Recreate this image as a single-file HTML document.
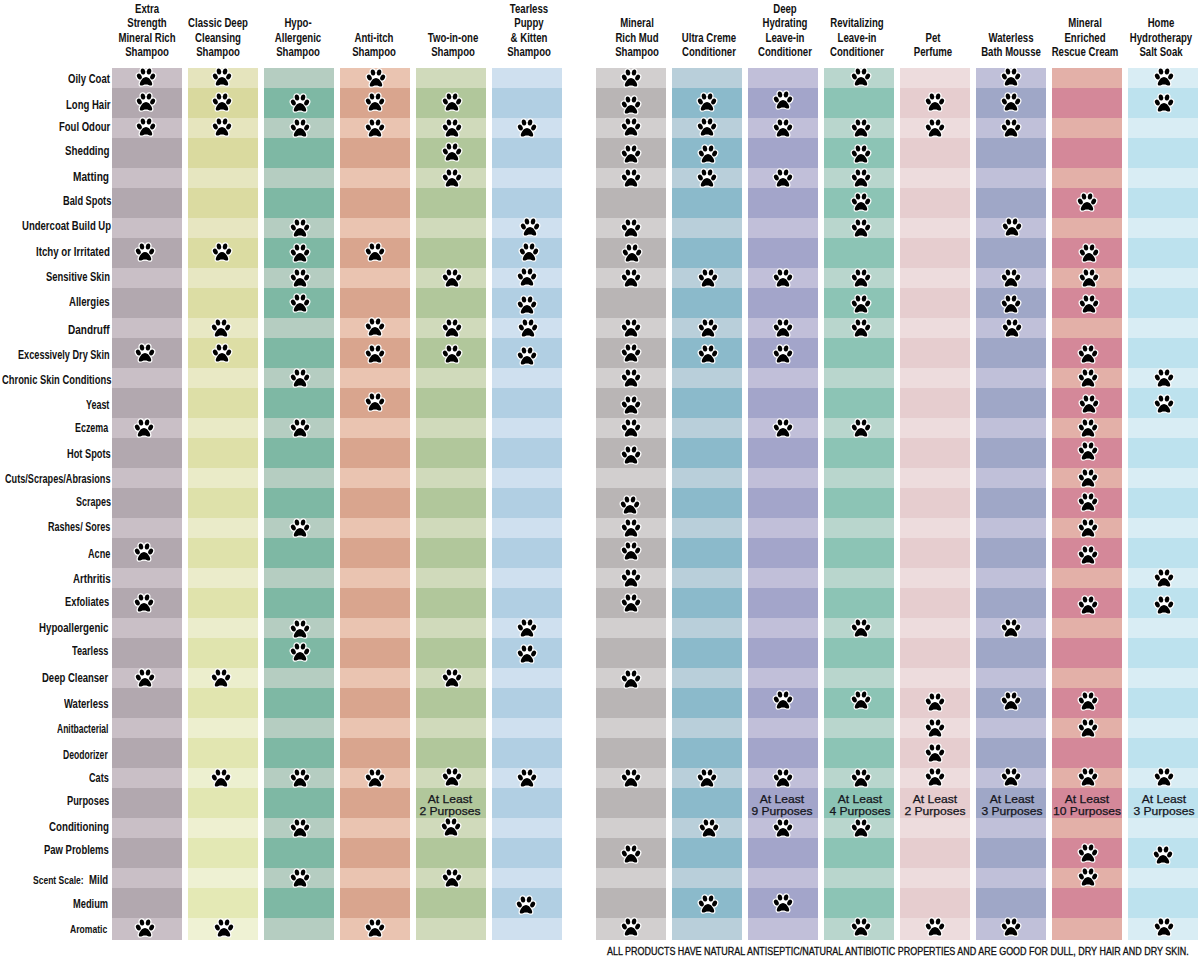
<!DOCTYPE html>
<html><head><meta charset="utf-8"><style>
html,body{margin:0;padding:0;background:#fff;}
body{width:1200px;height:959px;position:relative;overflow:hidden;font-family:"Liberation Sans",sans-serif;}
.c{position:absolute;top:68px;width:70px;height:870px;}
.cb{position:absolute;top:938px;width:70px;height:1.5px;}
.h{position:absolute;bottom:899.1px;font:bold 12px/14.5px "Liberation Sans",sans-serif;color:#111;text-align:center;white-space:nowrap;transform:translateX(-50%) scaleX(.80);}
.l{position:absolute;font:bold 12px/14px "Liberation Sans",sans-serif;color:#111;white-space:pre;transform-origin:0 50%;}
.p{position:absolute;}
.p g{fill:#000;}
.p g.w{fill:#fff;stroke:#fff;stroke-width:2.5;stroke-linejoin:round;}
.u{position:absolute;font:11px/12px "Liberation Sans",sans-serif;color:#15151c;-webkit-text-stroke:0.25px #15151c;text-align:center;white-space:nowrap;transform:translateX(-50%) scaleX(1.1);}
.f{position:absolute;left:607px;top:946.3px;font:10px/12px "Liberation Sans",sans-serif;color:#111;-webkit-text-stroke:0.3px #111;white-space:nowrap;transform-origin:0 50%;}
</style></head><body>

<div class="c" style="left:112px;background:repeating-linear-gradient(to bottom,#c9bfc6 0px,#c9bfc6 20px,#b2a8af 20px,#b2a8af 50px)"></div>
<div class="cb" style="left:112px;background:#c9bfc6"></div>
<div class="c" style="left:188px">
<div style="position:absolute;left:0;width:70px;top:0px;height:20px;background:#e5e4bd"></div>
<div style="position:absolute;left:0;width:70px;top:20px;height:30px;background:#d9d99e"></div>
<div style="position:absolute;left:0;width:70px;top:50px;height:20px;background:#e6e5be"></div>
<div style="position:absolute;left:0;width:70px;top:70px;height:30px;background:#dada9f"></div>
<div style="position:absolute;left:0;width:70px;top:100px;height:20px;background:#e6e6c0"></div>
<div style="position:absolute;left:0;width:70px;top:120px;height:30px;background:#dbdba1"></div>
<div style="position:absolute;left:0;width:70px;top:150px;height:20px;background:#e7e6c1"></div>
<div style="position:absolute;left:0;width:70px;top:170px;height:30px;background:#dbdca2"></div>
<div style="position:absolute;left:0;width:70px;top:200px;height:20px;background:#e7e7c2"></div>
<div style="position:absolute;left:0;width:70px;top:220px;height:30px;background:#dcdda4"></div>
<div style="position:absolute;left:0;width:70px;top:250px;height:20px;background:#e8e8c4"></div>
<div style="position:absolute;left:0;width:70px;top:270px;height:30px;background:#dddea5"></div>
<div style="position:absolute;left:0;width:70px;top:300px;height:20px;background:#e9e9c5"></div>
<div style="position:absolute;left:0;width:70px;top:320px;height:30px;background:#dddfa7"></div>
<div style="position:absolute;left:0;width:70px;top:350px;height:20px;background:#e9eac6"></div>
<div style="position:absolute;left:0;width:70px;top:370px;height:30px;background:#dee0a8"></div>
<div style="position:absolute;left:0;width:70px;top:400px;height:20px;background:#eaebc8"></div>
<div style="position:absolute;left:0;width:70px;top:420px;height:30px;background:#dee1aa"></div>
<div style="position:absolute;left:0;width:70px;top:450px;height:20px;background:#eaebc9"></div>
<div style="position:absolute;left:0;width:70px;top:470px;height:30px;background:#dfe2ab"></div>
<div style="position:absolute;left:0;width:70px;top:500px;height:20px;background:#ebeccb"></div>
<div style="position:absolute;left:0;width:70px;top:520px;height:30px;background:#e0e3ac"></div>
<div style="position:absolute;left:0;width:70px;top:550px;height:20px;background:#ebedcc"></div>
<div style="position:absolute;left:0;width:70px;top:570px;height:30px;background:#e0e4ae"></div>
<div style="position:absolute;left:0;width:70px;top:600px;height:20px;background:#eceecd"></div>
<div style="position:absolute;left:0;width:70px;top:620px;height:30px;background:#e1e5af"></div>
<div style="position:absolute;left:0;width:70px;top:650px;height:20px;background:#edefcf"></div>
<div style="position:absolute;left:0;width:70px;top:670px;height:30px;background:#e2e6b1"></div>
<div style="position:absolute;left:0;width:70px;top:700px;height:20px;background:#edf0d0"></div>
<div style="position:absolute;left:0;width:70px;top:720px;height:30px;background:#e2e7b2"></div>
<div style="position:absolute;left:0;width:70px;top:750px;height:20px;background:#eef0d1"></div>
<div style="position:absolute;left:0;width:70px;top:770px;height:30px;background:#e3e8b4"></div>
<div style="position:absolute;left:0;width:70px;top:800px;height:20px;background:#eef1d3"></div>
<div style="position:absolute;left:0;width:70px;top:820px;height:30px;background:#e4e9b5"></div>
<div style="position:absolute;left:0;width:70px;top:850px;height:21.5px;background:#eff2d4"></div>
</div>
<div class="c" style="left:264px;background:repeating-linear-gradient(to bottom,#b5cdc1 0px,#b5cdc1 20px,#7eb8a4 20px,#7eb8a4 50px)"></div>
<div class="cb" style="left:264px;background:#b5cdc1"></div>
<div class="c" style="left:340px;background:repeating-linear-gradient(to bottom,#eac4b1 0px,#eac4b1 20px,#d9a58e 20px,#d9a58e 50px)"></div>
<div class="cb" style="left:340px;background:#eac4b1"></div>
<div class="c" style="left:416px;background:repeating-linear-gradient(to bottom,#d0dabb 0px,#d0dabb 20px,#b1c79b 20px,#b1c79b 50px)"></div>
<div class="cb" style="left:416px;background:#d0dabb"></div>
<div class="c" style="left:492px;background:repeating-linear-gradient(to bottom,#cfe0ef 0px,#cfe0ef 20px,#b1cfe3 20px,#b1cfe3 50px)"></div>
<div class="cb" style="left:492px;background:#cfe0ef"></div>
<div class="c" style="left:595.5px;background:repeating-linear-gradient(to bottom,#d2cfcf 0px,#d2cfcf 20px,#b9b5b5 20px,#b9b5b5 50px)"></div>
<div class="cb" style="left:595.5px;background:#d2cfcf"></div>
<div class="c" style="left:671.5px;background:repeating-linear-gradient(to bottom,#b9cfda 0px,#b9cfda 20px,#8bbacb 20px,#8bbacb 50px)"></div>
<div class="cb" style="left:671.5px;background:#b9cfda"></div>
<div class="c" style="left:747.5px;background:repeating-linear-gradient(to bottom,#c1bfd9 0px,#c1bfd9 20px,#a3a5ca 20px,#a3a5ca 50px)"></div>
<div class="cb" style="left:747.5px;background:#c1bfd9"></div>
<div class="c" style="left:823.5px;background:repeating-linear-gradient(to bottom,#b9d6cd 0px,#b9d6cd 20px,#8cc4b5 20px,#8cc4b5 50px)"></div>
<div class="cb" style="left:823.5px;background:#b9d6cd"></div>
<div class="c" style="left:899.5px;background:repeating-linear-gradient(to bottom,#eddcdd 0px,#eddcdd 20px,#e6cdcf 20px,#e6cdcf 50px)"></div>
<div class="cb" style="left:899.5px;background:#eddcdd"></div>
<div class="c" style="left:975.5px;background:repeating-linear-gradient(to bottom,#c0c0d9 0px,#c0c0d9 20px,#9fa7c7 20px,#9fa7c7 50px)"></div>
<div class="cb" style="left:975.5px;background:#c0c0d9"></div>
<div class="c" style="left:1051.5px;background:repeating-linear-gradient(to bottom,#e3b0a8 0px,#e3b0a8 20px,#d48899 20px,#d48899 50px)"></div>
<div class="cb" style="left:1051.5px;background:#e3b0a8"></div>
<div class="c" style="left:1127.5px;background:repeating-linear-gradient(to bottom,#d9edf4 0px,#d9edf4 20px,#bde2ee 20px,#bde2ee 50px)"></div>
<div class="cb" style="left:1127.5px;background:#d9edf4"></div>
<div class="h" style="left:147.1px">Extra<br>Strength<br>Mineral Rich<br>Shampoo</div>
<div class="h" style="left:217.7px">Classic Deep<br>Cleansing<br>Shampoo</div>
<div class="h" style="left:298.4px">Hypo-<br>Allergenic<br>Shampoo</div>
<div class="h" style="left:374.3px">Anti-itch<br>Shampoo</div>
<div class="h" style="left:453.2px">Two-in-one<br>Shampoo</div>
<div class="h" style="left:529.0px">Tearless<br>Puppy<br>&amp; Kitten<br>Shampoo</div>
<div class="h" style="left:637.0px">Mineral<br>Rich Mud<br>Shampoo</div>
<div class="h" style="left:709.2px">Ultra Creme<br>Conditioner</div>
<div class="h" style="left:784.5px">Deep<br>Hydrating<br>Leave-in<br>Conditioner</div>
<div class="h" style="left:856.6px">Revitalizing<br>Leave-in<br>Conditioner</div>
<div class="h" style="left:932.6px">Pet<br>Perfume</div>
<div class="h" style="left:1011.2px">Waterless<br>Bath Mousse</div>
<div class="h" style="left:1085.2px">Mineral<br>Enriched<br>Rescue Cream</div>
<div class="h" style="left:1160.7px">Home<br>Hydrotherapy<br>Salt Soak</div>
<div class="l" style="left:68.10px;top:71.94px;transform:scaleX(0.7952)">Oily Coat</div>
<div class="l" style="left:65.50px;top:97.74px;transform:scaleX(0.7945)">Long Hair</div>
<div class="l" style="left:58.80px;top:119.74px;transform:scaleX(0.7918)">Foul Odour</div>
<div class="l" style="left:65.49px;top:144.34px;transform:scaleX(0.8142)">Shedding</div>
<div class="l" style="left:72.98px;top:170.34px;transform:scaleX(0.8450)">Matting</div>
<div class="l" style="left:63.01px;top:193.94px;transform:scaleX(0.7702)">Bald Spots</div>
<div class="l" style="left:21.80px;top:219.44px;transform:scaleX(0.7954)">Undercoat Build Up</div>
<div class="l" style="left:36.10px;top:244.94px;transform:scaleX(0.8090)">Itchy or Irritated</div>
<div class="l" style="left:46.11px;top:269.84px;transform:scaleX(0.7851)">Sensitive Skin</div>
<div class="l" style="left:69.40px;top:295.34px;transform:scaleX(0.8008)">Allergies</div>
<div class="l" style="left:68.08px;top:322.64px;transform:scaleX(0.8327)">Dandruff</div>
<div class="l" style="left:18.37px;top:348.24px;transform:scaleX(0.7628)">Excessively Dry Skin</div>
<div class="l" style="left:1.51px;top:372.84px;transform:scaleX(0.7813)">Chronic Skin Conditions</div>
<div class="l" style="left:85.63px;top:398.24px;transform:scaleX(0.7444)">Yeast</div>
<div class="l" style="left:75.23px;top:420.74px;transform:scaleX(0.7414)">Eczema</div>
<div class="l" style="left:66.61px;top:446.94px;transform:scaleX(0.7706)">Hot Spots</div>
<div class="l" style="left:4.82px;top:471.54px;transform:scaleX(0.7602)">Cuts/Scrapes/Abrasions</div>
<div class="l" style="left:75.63px;top:494.84px;transform:scaleX(0.7483)">Scrapes</div>
<div class="l" style="left:47.72px;top:520.34px;transform:scaleX(0.7526)">Rashes/ Sores</div>
<div class="l" style="left:88.22px;top:547.44px;transform:scaleX(0.7621)">Acne</div>
<div class="l" style="left:73.00px;top:572.44px;transform:scaleX(0.8057)">Arthritis</div>
<div class="l" style="left:64.91px;top:594.64px;transform:scaleX(0.7773)">Exfoliates</div>
<div class="l" style="left:39.00px;top:621.14px;transform:scaleX(0.8068)">Hypoallergenic</div>
<div class="l" style="left:72.02px;top:644.44px;transform:scaleX(0.7605)">Tearless</div>
<div class="l" style="left:41.60px;top:670.84px;transform:scaleX(0.7927)">Deep Cleanser</div>
<div class="l" style="left:64.30px;top:696.64px;transform:scaleX(0.7910)">Waterless</div>
<div class="l" style="left:56.55px;top:722.24px;transform:scaleX(0.7072)">Anitbacterial</div>
<div class="l" style="left:63.24px;top:747.74px;transform:scaleX(0.7133)">Deodorizer</div>
<div class="l" style="left:88.62px;top:771.04px;transform:scaleX(0.7595)">Cats</div>
<div class="l" style="left:66.61px;top:794.34px;transform:scaleX(0.7711)">Purposes</div>
<div class="l" style="left:48.50px;top:819.54px;transform:scaleX(0.8098)">Conditioning</div>
<div class="l" style="left:43.61px;top:843.24px;transform:scaleX(0.7898)">Paw Problems</div>
<div class="l" style="font-size:10px;left:32.57px;top:873.63px;transform:scaleX(0.8507)">Scent Scale:</div>
<div class="l" style="left:88.80px;top:872.94px;transform:scaleX(0.8000)">Mild</div>
<div class="l" style="left:73.11px;top:896.94px;transform:scaleX(0.7735)">Medium</div>
<div class="l" style="font-size:11px;left:70.11px;top:922.09px;transform:scaleX(0.7797)">Aromatic</div>
<svg class="p" style="left:132.50px;top:65.00px" width="26" height="24" viewBox="-13 -12 26 24"><g class="w"><ellipse cx="0" cy="-1.5" rx="5.5" ry="3.6"/><ellipse cx="-3.05" cy="-5.45" rx="2.25" ry="3.07" transform="rotate(-8 -3.05 -5.45)"/><ellipse cx="3.05" cy="-5.45" rx="2.25" ry="3.07" transform="rotate(8 3.05 -5.45)"/><ellipse cx="-6.65" cy="-0.45" rx="2.25" ry="3.05" transform="rotate(-28 -6.65 -0.45)"/><ellipse cx="6.65" cy="-0.45" rx="2.25" ry="3.05" transform="rotate(28 6.65 -0.45)"/><path d="M0,0C2.4,0 4.1,2.2 5.3,4.3C6.2,5.9 6.6,7.5 5.8,8.2C5,8.9 3.7,8.4 2.5,7.9C1.3,7.45 -1.3,7.45 -2.5,7.9C-3.7,8.4 -5,8.9 -5.8,8.2C-6.6,7.5 -6.2,5.9 -5.3,4.3C-4.1,2.2 -2.4,0 0,0Z"/></g><g><ellipse cx="-3.05" cy="-5.45" rx="2.25" ry="3.07" transform="rotate(-8 -3.05 -5.45)"/><ellipse cx="3.05" cy="-5.45" rx="2.25" ry="3.07" transform="rotate(8 3.05 -5.45)"/><ellipse cx="-6.65" cy="-0.45" rx="2.25" ry="3.05" transform="rotate(-28 -6.65 -0.45)"/><ellipse cx="6.65" cy="-0.45" rx="2.25" ry="3.05" transform="rotate(28 6.65 -0.45)"/><path d="M0,0C2.4,0 4.1,2.2 5.3,4.3C6.2,5.9 6.6,7.5 5.8,8.2C5,8.9 3.7,8.4 2.5,7.9C1.3,7.45 -1.3,7.45 -2.5,7.9C-3.7,8.4 -5,8.9 -5.8,8.2C-6.6,7.5 -6.2,5.9 -5.3,4.3C-4.1,2.2 -2.4,0 0,0Z"/></g></svg>
<svg class="p" style="left:209.00px;top:65.00px" width="26" height="24" viewBox="-13 -12 26 24"><g class="w"><ellipse cx="0" cy="-1.5" rx="5.5" ry="3.6"/><ellipse cx="-3.05" cy="-5.45" rx="2.25" ry="3.07" transform="rotate(-8 -3.05 -5.45)"/><ellipse cx="3.05" cy="-5.45" rx="2.25" ry="3.07" transform="rotate(8 3.05 -5.45)"/><ellipse cx="-6.65" cy="-0.45" rx="2.25" ry="3.05" transform="rotate(-28 -6.65 -0.45)"/><ellipse cx="6.65" cy="-0.45" rx="2.25" ry="3.05" transform="rotate(28 6.65 -0.45)"/><path d="M0,0C2.4,0 4.1,2.2 5.3,4.3C6.2,5.9 6.6,7.5 5.8,8.2C5,8.9 3.7,8.4 2.5,7.9C1.3,7.45 -1.3,7.45 -2.5,7.9C-3.7,8.4 -5,8.9 -5.8,8.2C-6.6,7.5 -6.2,5.9 -5.3,4.3C-4.1,2.2 -2.4,0 0,0Z"/></g><g><ellipse cx="-3.05" cy="-5.45" rx="2.25" ry="3.07" transform="rotate(-8 -3.05 -5.45)"/><ellipse cx="3.05" cy="-5.45" rx="2.25" ry="3.07" transform="rotate(8 3.05 -5.45)"/><ellipse cx="-6.65" cy="-0.45" rx="2.25" ry="3.05" transform="rotate(-28 -6.65 -0.45)"/><ellipse cx="6.65" cy="-0.45" rx="2.25" ry="3.05" transform="rotate(28 6.65 -0.45)"/><path d="M0,0C2.4,0 4.1,2.2 5.3,4.3C6.2,5.9 6.6,7.5 5.8,8.2C5,8.9 3.7,8.4 2.5,7.9C1.3,7.45 -1.3,7.45 -2.5,7.9C-3.7,8.4 -5,8.9 -5.8,8.2C-6.6,7.5 -6.2,5.9 -5.3,4.3C-4.1,2.2 -2.4,0 0,0Z"/></g></svg>
<svg class="p" style="left:362.70px;top:65.50px" width="26" height="24" viewBox="-13 -12 26 24"><g class="w"><ellipse cx="0" cy="-1.5" rx="5.5" ry="3.6"/><ellipse cx="-3.05" cy="-5.45" rx="2.25" ry="3.07" transform="rotate(-8 -3.05 -5.45)"/><ellipse cx="3.05" cy="-5.45" rx="2.25" ry="3.07" transform="rotate(8 3.05 -5.45)"/><ellipse cx="-6.65" cy="-0.45" rx="2.25" ry="3.05" transform="rotate(-28 -6.65 -0.45)"/><ellipse cx="6.65" cy="-0.45" rx="2.25" ry="3.05" transform="rotate(28 6.65 -0.45)"/><path d="M0,0C2.4,0 4.1,2.2 5.3,4.3C6.2,5.9 6.6,7.5 5.8,8.2C5,8.9 3.7,8.4 2.5,7.9C1.3,7.45 -1.3,7.45 -2.5,7.9C-3.7,8.4 -5,8.9 -5.8,8.2C-6.6,7.5 -6.2,5.9 -5.3,4.3C-4.1,2.2 -2.4,0 0,0Z"/></g><g><ellipse cx="-3.05" cy="-5.45" rx="2.25" ry="3.07" transform="rotate(-8 -3.05 -5.45)"/><ellipse cx="3.05" cy="-5.45" rx="2.25" ry="3.07" transform="rotate(8 3.05 -5.45)"/><ellipse cx="-6.65" cy="-0.45" rx="2.25" ry="3.05" transform="rotate(-28 -6.65 -0.45)"/><ellipse cx="6.65" cy="-0.45" rx="2.25" ry="3.05" transform="rotate(28 6.65 -0.45)"/><path d="M0,0C2.4,0 4.1,2.2 5.3,4.3C6.2,5.9 6.6,7.5 5.8,8.2C5,8.9 3.7,8.4 2.5,7.9C1.3,7.45 -1.3,7.45 -2.5,7.9C-3.7,8.4 -5,8.9 -5.8,8.2C-6.6,7.5 -6.2,5.9 -5.3,4.3C-4.1,2.2 -2.4,0 0,0Z"/></g></svg>
<svg class="p" style="left:617.70px;top:65.50px" width="26" height="24" viewBox="-13 -12 26 24"><g class="w"><ellipse cx="0" cy="-1.5" rx="5.5" ry="3.6"/><ellipse cx="-3.05" cy="-5.45" rx="2.25" ry="3.07" transform="rotate(-8 -3.05 -5.45)"/><ellipse cx="3.05" cy="-5.45" rx="2.25" ry="3.07" transform="rotate(8 3.05 -5.45)"/><ellipse cx="-6.65" cy="-0.45" rx="2.25" ry="3.05" transform="rotate(-28 -6.65 -0.45)"/><ellipse cx="6.65" cy="-0.45" rx="2.25" ry="3.05" transform="rotate(28 6.65 -0.45)"/><path d="M0,0C2.4,0 4.1,2.2 5.3,4.3C6.2,5.9 6.6,7.5 5.8,8.2C5,8.9 3.7,8.4 2.5,7.9C1.3,7.45 -1.3,7.45 -2.5,7.9C-3.7,8.4 -5,8.9 -5.8,8.2C-6.6,7.5 -6.2,5.9 -5.3,4.3C-4.1,2.2 -2.4,0 0,0Z"/></g><g><ellipse cx="-3.05" cy="-5.45" rx="2.25" ry="3.07" transform="rotate(-8 -3.05 -5.45)"/><ellipse cx="3.05" cy="-5.45" rx="2.25" ry="3.07" transform="rotate(8 3.05 -5.45)"/><ellipse cx="-6.65" cy="-0.45" rx="2.25" ry="3.05" transform="rotate(-28 -6.65 -0.45)"/><ellipse cx="6.65" cy="-0.45" rx="2.25" ry="3.05" transform="rotate(28 6.65 -0.45)"/><path d="M0,0C2.4,0 4.1,2.2 5.3,4.3C6.2,5.9 6.6,7.5 5.8,8.2C5,8.9 3.7,8.4 2.5,7.9C1.3,7.45 -1.3,7.45 -2.5,7.9C-3.7,8.4 -5,8.9 -5.8,8.2C-6.6,7.5 -6.2,5.9 -5.3,4.3C-4.1,2.2 -2.4,0 0,0Z"/></g></svg>
<svg class="p" style="left:847.70px;top:65.25px" width="26" height="24" viewBox="-13 -12 26 24"><g class="w"><ellipse cx="0" cy="-1.5" rx="5.5" ry="3.6"/><ellipse cx="-3.05" cy="-5.45" rx="2.25" ry="3.07" transform="rotate(-8 -3.05 -5.45)"/><ellipse cx="3.05" cy="-5.45" rx="2.25" ry="3.07" transform="rotate(8 3.05 -5.45)"/><ellipse cx="-6.65" cy="-0.45" rx="2.25" ry="3.05" transform="rotate(-28 -6.65 -0.45)"/><ellipse cx="6.65" cy="-0.45" rx="2.25" ry="3.05" transform="rotate(28 6.65 -0.45)"/><path d="M0,0C2.4,0 4.1,2.2 5.3,4.3C6.2,5.9 6.6,7.5 5.8,8.2C5,8.9 3.7,8.4 2.5,7.9C1.3,7.45 -1.3,7.45 -2.5,7.9C-3.7,8.4 -5,8.9 -5.8,8.2C-6.6,7.5 -6.2,5.9 -5.3,4.3C-4.1,2.2 -2.4,0 0,0Z"/></g><g><ellipse cx="-3.05" cy="-5.45" rx="2.25" ry="3.07" transform="rotate(-8 -3.05 -5.45)"/><ellipse cx="3.05" cy="-5.45" rx="2.25" ry="3.07" transform="rotate(8 3.05 -5.45)"/><ellipse cx="-6.65" cy="-0.45" rx="2.25" ry="3.05" transform="rotate(-28 -6.65 -0.45)"/><ellipse cx="6.65" cy="-0.45" rx="2.25" ry="3.05" transform="rotate(28 6.65 -0.45)"/><path d="M0,0C2.4,0 4.1,2.2 5.3,4.3C6.2,5.9 6.6,7.5 5.8,8.2C5,8.9 3.7,8.4 2.5,7.9C1.3,7.45 -1.3,7.45 -2.5,7.9C-3.7,8.4 -5,8.9 -5.8,8.2C-6.6,7.5 -6.2,5.9 -5.3,4.3C-4.1,2.2 -2.4,0 0,0Z"/></g></svg>
<svg class="p" style="left:997.90px;top:65.40px" width="26" height="24" viewBox="-13 -12 26 24"><g class="w"><ellipse cx="0" cy="-1.5" rx="5.5" ry="3.6"/><ellipse cx="-3.05" cy="-5.45" rx="2.25" ry="3.07" transform="rotate(-8 -3.05 -5.45)"/><ellipse cx="3.05" cy="-5.45" rx="2.25" ry="3.07" transform="rotate(8 3.05 -5.45)"/><ellipse cx="-6.65" cy="-0.45" rx="2.25" ry="3.05" transform="rotate(-28 -6.65 -0.45)"/><ellipse cx="6.65" cy="-0.45" rx="2.25" ry="3.05" transform="rotate(28 6.65 -0.45)"/><path d="M0,0C2.4,0 4.1,2.2 5.3,4.3C6.2,5.9 6.6,7.5 5.8,8.2C5,8.9 3.7,8.4 2.5,7.9C1.3,7.45 -1.3,7.45 -2.5,7.9C-3.7,8.4 -5,8.9 -5.8,8.2C-6.6,7.5 -6.2,5.9 -5.3,4.3C-4.1,2.2 -2.4,0 0,0Z"/></g><g><ellipse cx="-3.05" cy="-5.45" rx="2.25" ry="3.07" transform="rotate(-8 -3.05 -5.45)"/><ellipse cx="3.05" cy="-5.45" rx="2.25" ry="3.07" transform="rotate(8 3.05 -5.45)"/><ellipse cx="-6.65" cy="-0.45" rx="2.25" ry="3.05" transform="rotate(-28 -6.65 -0.45)"/><ellipse cx="6.65" cy="-0.45" rx="2.25" ry="3.05" transform="rotate(28 6.65 -0.45)"/><path d="M0,0C2.4,0 4.1,2.2 5.3,4.3C6.2,5.9 6.6,7.5 5.8,8.2C5,8.9 3.7,8.4 2.5,7.9C1.3,7.45 -1.3,7.45 -2.5,7.9C-3.7,8.4 -5,8.9 -5.8,8.2C-6.6,7.5 -6.2,5.9 -5.3,4.3C-4.1,2.2 -2.4,0 0,0Z"/></g></svg>
<svg class="p" style="left:1151.40px;top:65.40px" width="26" height="24" viewBox="-13 -12 26 24"><g class="w"><ellipse cx="0" cy="-1.5" rx="5.5" ry="3.6"/><ellipse cx="-3.05" cy="-5.45" rx="2.25" ry="3.07" transform="rotate(-8 -3.05 -5.45)"/><ellipse cx="3.05" cy="-5.45" rx="2.25" ry="3.07" transform="rotate(8 3.05 -5.45)"/><ellipse cx="-6.65" cy="-0.45" rx="2.25" ry="3.05" transform="rotate(-28 -6.65 -0.45)"/><ellipse cx="6.65" cy="-0.45" rx="2.25" ry="3.05" transform="rotate(28 6.65 -0.45)"/><path d="M0,0C2.4,0 4.1,2.2 5.3,4.3C6.2,5.9 6.6,7.5 5.8,8.2C5,8.9 3.7,8.4 2.5,7.9C1.3,7.45 -1.3,7.45 -2.5,7.9C-3.7,8.4 -5,8.9 -5.8,8.2C-6.6,7.5 -6.2,5.9 -5.3,4.3C-4.1,2.2 -2.4,0 0,0Z"/></g><g><ellipse cx="-3.05" cy="-5.45" rx="2.25" ry="3.07" transform="rotate(-8 -3.05 -5.45)"/><ellipse cx="3.05" cy="-5.45" rx="2.25" ry="3.07" transform="rotate(8 3.05 -5.45)"/><ellipse cx="-6.65" cy="-0.45" rx="2.25" ry="3.05" transform="rotate(-28 -6.65 -0.45)"/><ellipse cx="6.65" cy="-0.45" rx="2.25" ry="3.05" transform="rotate(28 6.65 -0.45)"/><path d="M0,0C2.4,0 4.1,2.2 5.3,4.3C6.2,5.9 6.6,7.5 5.8,8.2C5,8.9 3.7,8.4 2.5,7.9C1.3,7.45 -1.3,7.45 -2.5,7.9C-3.7,8.4 -5,8.9 -5.8,8.2C-6.6,7.5 -6.2,5.9 -5.3,4.3C-4.1,2.2 -2.4,0 0,0Z"/></g></svg>
<svg class="p" style="left:132.50px;top:89.75px" width="26" height="24" viewBox="-13 -12 26 24"><g class="w"><ellipse cx="0" cy="-1.5" rx="5.5" ry="3.6"/><ellipse cx="-3.05" cy="-5.45" rx="2.25" ry="3.07" transform="rotate(-8 -3.05 -5.45)"/><ellipse cx="3.05" cy="-5.45" rx="2.25" ry="3.07" transform="rotate(8 3.05 -5.45)"/><ellipse cx="-6.65" cy="-0.45" rx="2.25" ry="3.05" transform="rotate(-28 -6.65 -0.45)"/><ellipse cx="6.65" cy="-0.45" rx="2.25" ry="3.05" transform="rotate(28 6.65 -0.45)"/><path d="M0,0C2.4,0 4.1,2.2 5.3,4.3C6.2,5.9 6.6,7.5 5.8,8.2C5,8.9 3.7,8.4 2.5,7.9C1.3,7.45 -1.3,7.45 -2.5,7.9C-3.7,8.4 -5,8.9 -5.8,8.2C-6.6,7.5 -6.2,5.9 -5.3,4.3C-4.1,2.2 -2.4,0 0,0Z"/></g><g><ellipse cx="-3.05" cy="-5.45" rx="2.25" ry="3.07" transform="rotate(-8 -3.05 -5.45)"/><ellipse cx="3.05" cy="-5.45" rx="2.25" ry="3.07" transform="rotate(8 3.05 -5.45)"/><ellipse cx="-6.65" cy="-0.45" rx="2.25" ry="3.05" transform="rotate(-28 -6.65 -0.45)"/><ellipse cx="6.65" cy="-0.45" rx="2.25" ry="3.05" transform="rotate(28 6.65 -0.45)"/><path d="M0,0C2.4,0 4.1,2.2 5.3,4.3C6.2,5.9 6.6,7.5 5.8,8.2C5,8.9 3.7,8.4 2.5,7.9C1.3,7.45 -1.3,7.45 -2.5,7.9C-3.7,8.4 -5,8.9 -5.8,8.2C-6.6,7.5 -6.2,5.9 -5.3,4.3C-4.1,2.2 -2.4,0 0,0Z"/></g></svg>
<svg class="p" style="left:209.00px;top:89.75px" width="26" height="24" viewBox="-13 -12 26 24"><g class="w"><ellipse cx="0" cy="-1.5" rx="5.5" ry="3.6"/><ellipse cx="-3.05" cy="-5.45" rx="2.25" ry="3.07" transform="rotate(-8 -3.05 -5.45)"/><ellipse cx="3.05" cy="-5.45" rx="2.25" ry="3.07" transform="rotate(8 3.05 -5.45)"/><ellipse cx="-6.65" cy="-0.45" rx="2.25" ry="3.05" transform="rotate(-28 -6.65 -0.45)"/><ellipse cx="6.65" cy="-0.45" rx="2.25" ry="3.05" transform="rotate(28 6.65 -0.45)"/><path d="M0,0C2.4,0 4.1,2.2 5.3,4.3C6.2,5.9 6.6,7.5 5.8,8.2C5,8.9 3.7,8.4 2.5,7.9C1.3,7.45 -1.3,7.45 -2.5,7.9C-3.7,8.4 -5,8.9 -5.8,8.2C-6.6,7.5 -6.2,5.9 -5.3,4.3C-4.1,2.2 -2.4,0 0,0Z"/></g><g><ellipse cx="-3.05" cy="-5.45" rx="2.25" ry="3.07" transform="rotate(-8 -3.05 -5.45)"/><ellipse cx="3.05" cy="-5.45" rx="2.25" ry="3.07" transform="rotate(8 3.05 -5.45)"/><ellipse cx="-6.65" cy="-0.45" rx="2.25" ry="3.05" transform="rotate(-28 -6.65 -0.45)"/><ellipse cx="6.65" cy="-0.45" rx="2.25" ry="3.05" transform="rotate(28 6.65 -0.45)"/><path d="M0,0C2.4,0 4.1,2.2 5.3,4.3C6.2,5.9 6.6,7.5 5.8,8.2C5,8.9 3.7,8.4 2.5,7.9C1.3,7.45 -1.3,7.45 -2.5,7.9C-3.7,8.4 -5,8.9 -5.8,8.2C-6.6,7.5 -6.2,5.9 -5.3,4.3C-4.1,2.2 -2.4,0 0,0Z"/></g></svg>
<svg class="p" style="left:287.00px;top:90.75px" width="26" height="24" viewBox="-13 -12 26 24"><g class="w"><ellipse cx="0" cy="-1.5" rx="5.5" ry="3.6"/><ellipse cx="-3.05" cy="-5.45" rx="2.25" ry="3.07" transform="rotate(-8 -3.05 -5.45)"/><ellipse cx="3.05" cy="-5.45" rx="2.25" ry="3.07" transform="rotate(8 3.05 -5.45)"/><ellipse cx="-6.65" cy="-0.45" rx="2.25" ry="3.05" transform="rotate(-28 -6.65 -0.45)"/><ellipse cx="6.65" cy="-0.45" rx="2.25" ry="3.05" transform="rotate(28 6.65 -0.45)"/><path d="M0,0C2.4,0 4.1,2.2 5.3,4.3C6.2,5.9 6.6,7.5 5.8,8.2C5,8.9 3.7,8.4 2.5,7.9C1.3,7.45 -1.3,7.45 -2.5,7.9C-3.7,8.4 -5,8.9 -5.8,8.2C-6.6,7.5 -6.2,5.9 -5.3,4.3C-4.1,2.2 -2.4,0 0,0Z"/></g><g><ellipse cx="-3.05" cy="-5.45" rx="2.25" ry="3.07" transform="rotate(-8 -3.05 -5.45)"/><ellipse cx="3.05" cy="-5.45" rx="2.25" ry="3.07" transform="rotate(8 3.05 -5.45)"/><ellipse cx="-6.65" cy="-0.45" rx="2.25" ry="3.05" transform="rotate(-28 -6.65 -0.45)"/><ellipse cx="6.65" cy="-0.45" rx="2.25" ry="3.05" transform="rotate(28 6.65 -0.45)"/><path d="M0,0C2.4,0 4.1,2.2 5.3,4.3C6.2,5.9 6.6,7.5 5.8,8.2C5,8.9 3.7,8.4 2.5,7.9C1.3,7.45 -1.3,7.45 -2.5,7.9C-3.7,8.4 -5,8.9 -5.8,8.2C-6.6,7.5 -6.2,5.9 -5.3,4.3C-4.1,2.2 -2.4,0 0,0Z"/></g></svg>
<svg class="p" style="left:362.10px;top:90.25px" width="26" height="24" viewBox="-13 -12 26 24"><g class="w"><ellipse cx="0" cy="-1.5" rx="5.5" ry="3.6"/><ellipse cx="-3.05" cy="-5.45" rx="2.25" ry="3.07" transform="rotate(-8 -3.05 -5.45)"/><ellipse cx="3.05" cy="-5.45" rx="2.25" ry="3.07" transform="rotate(8 3.05 -5.45)"/><ellipse cx="-6.65" cy="-0.45" rx="2.25" ry="3.05" transform="rotate(-28 -6.65 -0.45)"/><ellipse cx="6.65" cy="-0.45" rx="2.25" ry="3.05" transform="rotate(28 6.65 -0.45)"/><path d="M0,0C2.4,0 4.1,2.2 5.3,4.3C6.2,5.9 6.6,7.5 5.8,8.2C5,8.9 3.7,8.4 2.5,7.9C1.3,7.45 -1.3,7.45 -2.5,7.9C-3.7,8.4 -5,8.9 -5.8,8.2C-6.6,7.5 -6.2,5.9 -5.3,4.3C-4.1,2.2 -2.4,0 0,0Z"/></g><g><ellipse cx="-3.05" cy="-5.45" rx="2.25" ry="3.07" transform="rotate(-8 -3.05 -5.45)"/><ellipse cx="3.05" cy="-5.45" rx="2.25" ry="3.07" transform="rotate(8 3.05 -5.45)"/><ellipse cx="-6.65" cy="-0.45" rx="2.25" ry="3.05" transform="rotate(-28 -6.65 -0.45)"/><ellipse cx="6.65" cy="-0.45" rx="2.25" ry="3.05" transform="rotate(28 6.65 -0.45)"/><path d="M0,0C2.4,0 4.1,2.2 5.3,4.3C6.2,5.9 6.6,7.5 5.8,8.2C5,8.9 3.7,8.4 2.5,7.9C1.3,7.45 -1.3,7.45 -2.5,7.9C-3.7,8.4 -5,8.9 -5.8,8.2C-6.6,7.5 -6.2,5.9 -5.3,4.3C-4.1,2.2 -2.4,0 0,0Z"/></g></svg>
<svg class="p" style="left:439.00px;top:90.40px" width="26" height="24" viewBox="-13 -12 26 24"><g class="w"><ellipse cx="0" cy="-1.5" rx="5.5" ry="3.6"/><ellipse cx="-3.05" cy="-5.45" rx="2.25" ry="3.07" transform="rotate(-8 -3.05 -5.45)"/><ellipse cx="3.05" cy="-5.45" rx="2.25" ry="3.07" transform="rotate(8 3.05 -5.45)"/><ellipse cx="-6.65" cy="-0.45" rx="2.25" ry="3.05" transform="rotate(-28 -6.65 -0.45)"/><ellipse cx="6.65" cy="-0.45" rx="2.25" ry="3.05" transform="rotate(28 6.65 -0.45)"/><path d="M0,0C2.4,0 4.1,2.2 5.3,4.3C6.2,5.9 6.6,7.5 5.8,8.2C5,8.9 3.7,8.4 2.5,7.9C1.3,7.45 -1.3,7.45 -2.5,7.9C-3.7,8.4 -5,8.9 -5.8,8.2C-6.6,7.5 -6.2,5.9 -5.3,4.3C-4.1,2.2 -2.4,0 0,0Z"/></g><g><ellipse cx="-3.05" cy="-5.45" rx="2.25" ry="3.07" transform="rotate(-8 -3.05 -5.45)"/><ellipse cx="3.05" cy="-5.45" rx="2.25" ry="3.07" transform="rotate(8 3.05 -5.45)"/><ellipse cx="-6.65" cy="-0.45" rx="2.25" ry="3.05" transform="rotate(-28 -6.65 -0.45)"/><ellipse cx="6.65" cy="-0.45" rx="2.25" ry="3.05" transform="rotate(28 6.65 -0.45)"/><path d="M0,0C2.4,0 4.1,2.2 5.3,4.3C6.2,5.9 6.6,7.5 5.8,8.2C5,8.9 3.7,8.4 2.5,7.9C1.3,7.45 -1.3,7.45 -2.5,7.9C-3.7,8.4 -5,8.9 -5.8,8.2C-6.6,7.5 -6.2,5.9 -5.3,4.3C-4.1,2.2 -2.4,0 0,0Z"/></g></svg>
<svg class="p" style="left:617.70px;top:92.50px" width="26" height="24" viewBox="-13 -12 26 24"><g class="w"><ellipse cx="0" cy="-1.5" rx="5.5" ry="3.6"/><ellipse cx="-3.05" cy="-5.45" rx="2.25" ry="3.07" transform="rotate(-8 -3.05 -5.45)"/><ellipse cx="3.05" cy="-5.45" rx="2.25" ry="3.07" transform="rotate(8 3.05 -5.45)"/><ellipse cx="-6.65" cy="-0.45" rx="2.25" ry="3.05" transform="rotate(-28 -6.65 -0.45)"/><ellipse cx="6.65" cy="-0.45" rx="2.25" ry="3.05" transform="rotate(28 6.65 -0.45)"/><path d="M0,0C2.4,0 4.1,2.2 5.3,4.3C6.2,5.9 6.6,7.5 5.8,8.2C5,8.9 3.7,8.4 2.5,7.9C1.3,7.45 -1.3,7.45 -2.5,7.9C-3.7,8.4 -5,8.9 -5.8,8.2C-6.6,7.5 -6.2,5.9 -5.3,4.3C-4.1,2.2 -2.4,0 0,0Z"/></g><g><ellipse cx="-3.05" cy="-5.45" rx="2.25" ry="3.07" transform="rotate(-8 -3.05 -5.45)"/><ellipse cx="3.05" cy="-5.45" rx="2.25" ry="3.07" transform="rotate(8 3.05 -5.45)"/><ellipse cx="-6.65" cy="-0.45" rx="2.25" ry="3.05" transform="rotate(-28 -6.65 -0.45)"/><ellipse cx="6.65" cy="-0.45" rx="2.25" ry="3.05" transform="rotate(28 6.65 -0.45)"/><path d="M0,0C2.4,0 4.1,2.2 5.3,4.3C6.2,5.9 6.6,7.5 5.8,8.2C5,8.9 3.7,8.4 2.5,7.9C1.3,7.45 -1.3,7.45 -2.5,7.9C-3.7,8.4 -5,8.9 -5.8,8.2C-6.6,7.5 -6.2,5.9 -5.3,4.3C-4.1,2.2 -2.4,0 0,0Z"/></g></svg>
<svg class="p" style="left:694.20px;top:90.00px" width="26" height="24" viewBox="-13 -12 26 24"><g class="w"><ellipse cx="0" cy="-1.5" rx="5.5" ry="3.6"/><ellipse cx="-3.05" cy="-5.45" rx="2.25" ry="3.07" transform="rotate(-8 -3.05 -5.45)"/><ellipse cx="3.05" cy="-5.45" rx="2.25" ry="3.07" transform="rotate(8 3.05 -5.45)"/><ellipse cx="-6.65" cy="-0.45" rx="2.25" ry="3.05" transform="rotate(-28 -6.65 -0.45)"/><ellipse cx="6.65" cy="-0.45" rx="2.25" ry="3.05" transform="rotate(28 6.65 -0.45)"/><path d="M0,0C2.4,0 4.1,2.2 5.3,4.3C6.2,5.9 6.6,7.5 5.8,8.2C5,8.9 3.7,8.4 2.5,7.9C1.3,7.45 -1.3,7.45 -2.5,7.9C-3.7,8.4 -5,8.9 -5.8,8.2C-6.6,7.5 -6.2,5.9 -5.3,4.3C-4.1,2.2 -2.4,0 0,0Z"/></g><g><ellipse cx="-3.05" cy="-5.45" rx="2.25" ry="3.07" transform="rotate(-8 -3.05 -5.45)"/><ellipse cx="3.05" cy="-5.45" rx="2.25" ry="3.07" transform="rotate(8 3.05 -5.45)"/><ellipse cx="-6.65" cy="-0.45" rx="2.25" ry="3.05" transform="rotate(-28 -6.65 -0.45)"/><ellipse cx="6.65" cy="-0.45" rx="2.25" ry="3.05" transform="rotate(28 6.65 -0.45)"/><path d="M0,0C2.4,0 4.1,2.2 5.3,4.3C6.2,5.9 6.6,7.5 5.8,8.2C5,8.9 3.7,8.4 2.5,7.9C1.3,7.45 -1.3,7.45 -2.5,7.9C-3.7,8.4 -5,8.9 -5.8,8.2C-6.6,7.5 -6.2,5.9 -5.3,4.3C-4.1,2.2 -2.4,0 0,0Z"/></g></svg>
<svg class="p" style="left:769.60px;top:88.00px" width="26" height="24" viewBox="-13 -12 26 24"><g class="w"><ellipse cx="0" cy="-1.5" rx="5.5" ry="3.6"/><ellipse cx="-3.05" cy="-5.45" rx="2.25" ry="3.07" transform="rotate(-8 -3.05 -5.45)"/><ellipse cx="3.05" cy="-5.45" rx="2.25" ry="3.07" transform="rotate(8 3.05 -5.45)"/><ellipse cx="-6.65" cy="-0.45" rx="2.25" ry="3.05" transform="rotate(-28 -6.65 -0.45)"/><ellipse cx="6.65" cy="-0.45" rx="2.25" ry="3.05" transform="rotate(28 6.65 -0.45)"/><path d="M0,0C2.4,0 4.1,2.2 5.3,4.3C6.2,5.9 6.6,7.5 5.8,8.2C5,8.9 3.7,8.4 2.5,7.9C1.3,7.45 -1.3,7.45 -2.5,7.9C-3.7,8.4 -5,8.9 -5.8,8.2C-6.6,7.5 -6.2,5.9 -5.3,4.3C-4.1,2.2 -2.4,0 0,0Z"/></g><g><ellipse cx="-3.05" cy="-5.45" rx="2.25" ry="3.07" transform="rotate(-8 -3.05 -5.45)"/><ellipse cx="3.05" cy="-5.45" rx="2.25" ry="3.07" transform="rotate(8 3.05 -5.45)"/><ellipse cx="-6.65" cy="-0.45" rx="2.25" ry="3.05" transform="rotate(-28 -6.65 -0.45)"/><ellipse cx="6.65" cy="-0.45" rx="2.25" ry="3.05" transform="rotate(28 6.65 -0.45)"/><path d="M0,0C2.4,0 4.1,2.2 5.3,4.3C6.2,5.9 6.6,7.5 5.8,8.2C5,8.9 3.7,8.4 2.5,7.9C1.3,7.45 -1.3,7.45 -2.5,7.9C-3.7,8.4 -5,8.9 -5.8,8.2C-6.6,7.5 -6.2,5.9 -5.3,4.3C-4.1,2.2 -2.4,0 0,0Z"/></g></svg>
<svg class="p" style="left:922.10px;top:90.35px" width="26" height="24" viewBox="-13 -12 26 24"><g class="w"><ellipse cx="0" cy="-1.5" rx="5.5" ry="3.6"/><ellipse cx="-3.05" cy="-5.45" rx="2.25" ry="3.07" transform="rotate(-8 -3.05 -5.45)"/><ellipse cx="3.05" cy="-5.45" rx="2.25" ry="3.07" transform="rotate(8 3.05 -5.45)"/><ellipse cx="-6.65" cy="-0.45" rx="2.25" ry="3.05" transform="rotate(-28 -6.65 -0.45)"/><ellipse cx="6.65" cy="-0.45" rx="2.25" ry="3.05" transform="rotate(28 6.65 -0.45)"/><path d="M0,0C2.4,0 4.1,2.2 5.3,4.3C6.2,5.9 6.6,7.5 5.8,8.2C5,8.9 3.7,8.4 2.5,7.9C1.3,7.45 -1.3,7.45 -2.5,7.9C-3.7,8.4 -5,8.9 -5.8,8.2C-6.6,7.5 -6.2,5.9 -5.3,4.3C-4.1,2.2 -2.4,0 0,0Z"/></g><g><ellipse cx="-3.05" cy="-5.45" rx="2.25" ry="3.07" transform="rotate(-8 -3.05 -5.45)"/><ellipse cx="3.05" cy="-5.45" rx="2.25" ry="3.07" transform="rotate(8 3.05 -5.45)"/><ellipse cx="-6.65" cy="-0.45" rx="2.25" ry="3.05" transform="rotate(-28 -6.65 -0.45)"/><ellipse cx="6.65" cy="-0.45" rx="2.25" ry="3.05" transform="rotate(28 6.65 -0.45)"/><path d="M0,0C2.4,0 4.1,2.2 5.3,4.3C6.2,5.9 6.6,7.5 5.8,8.2C5,8.9 3.7,8.4 2.5,7.9C1.3,7.45 -1.3,7.45 -2.5,7.9C-3.7,8.4 -5,8.9 -5.8,8.2C-6.6,7.5 -6.2,5.9 -5.3,4.3C-4.1,2.2 -2.4,0 0,0Z"/></g></svg>
<svg class="p" style="left:997.90px;top:89.80px" width="26" height="24" viewBox="-13 -12 26 24"><g class="w"><ellipse cx="0" cy="-1.5" rx="5.5" ry="3.6"/><ellipse cx="-3.05" cy="-5.45" rx="2.25" ry="3.07" transform="rotate(-8 -3.05 -5.45)"/><ellipse cx="3.05" cy="-5.45" rx="2.25" ry="3.07" transform="rotate(8 3.05 -5.45)"/><ellipse cx="-6.65" cy="-0.45" rx="2.25" ry="3.05" transform="rotate(-28 -6.65 -0.45)"/><ellipse cx="6.65" cy="-0.45" rx="2.25" ry="3.05" transform="rotate(28 6.65 -0.45)"/><path d="M0,0C2.4,0 4.1,2.2 5.3,4.3C6.2,5.9 6.6,7.5 5.8,8.2C5,8.9 3.7,8.4 2.5,7.9C1.3,7.45 -1.3,7.45 -2.5,7.9C-3.7,8.4 -5,8.9 -5.8,8.2C-6.6,7.5 -6.2,5.9 -5.3,4.3C-4.1,2.2 -2.4,0 0,0Z"/></g><g><ellipse cx="-3.05" cy="-5.45" rx="2.25" ry="3.07" transform="rotate(-8 -3.05 -5.45)"/><ellipse cx="3.05" cy="-5.45" rx="2.25" ry="3.07" transform="rotate(8 3.05 -5.45)"/><ellipse cx="-6.65" cy="-0.45" rx="2.25" ry="3.05" transform="rotate(-28 -6.65 -0.45)"/><ellipse cx="6.65" cy="-0.45" rx="2.25" ry="3.05" transform="rotate(28 6.65 -0.45)"/><path d="M0,0C2.4,0 4.1,2.2 5.3,4.3C6.2,5.9 6.6,7.5 5.8,8.2C5,8.9 3.7,8.4 2.5,7.9C1.3,7.45 -1.3,7.45 -2.5,7.9C-3.7,8.4 -5,8.9 -5.8,8.2C-6.6,7.5 -6.2,5.9 -5.3,4.3C-4.1,2.2 -2.4,0 0,0Z"/></g></svg>
<svg class="p" style="left:1150.90px;top:90.60px" width="26" height="24" viewBox="-13 -12 26 24"><g class="w"><ellipse cx="0" cy="-1.5" rx="5.5" ry="3.6"/><ellipse cx="-3.05" cy="-5.45" rx="2.25" ry="3.07" transform="rotate(-8 -3.05 -5.45)"/><ellipse cx="3.05" cy="-5.45" rx="2.25" ry="3.07" transform="rotate(8 3.05 -5.45)"/><ellipse cx="-6.65" cy="-0.45" rx="2.25" ry="3.05" transform="rotate(-28 -6.65 -0.45)"/><ellipse cx="6.65" cy="-0.45" rx="2.25" ry="3.05" transform="rotate(28 6.65 -0.45)"/><path d="M0,0C2.4,0 4.1,2.2 5.3,4.3C6.2,5.9 6.6,7.5 5.8,8.2C5,8.9 3.7,8.4 2.5,7.9C1.3,7.45 -1.3,7.45 -2.5,7.9C-3.7,8.4 -5,8.9 -5.8,8.2C-6.6,7.5 -6.2,5.9 -5.3,4.3C-4.1,2.2 -2.4,0 0,0Z"/></g><g><ellipse cx="-3.05" cy="-5.45" rx="2.25" ry="3.07" transform="rotate(-8 -3.05 -5.45)"/><ellipse cx="3.05" cy="-5.45" rx="2.25" ry="3.07" transform="rotate(8 3.05 -5.45)"/><ellipse cx="-6.65" cy="-0.45" rx="2.25" ry="3.05" transform="rotate(-28 -6.65 -0.45)"/><ellipse cx="6.65" cy="-0.45" rx="2.25" ry="3.05" transform="rotate(28 6.65 -0.45)"/><path d="M0,0C2.4,0 4.1,2.2 5.3,4.3C6.2,5.9 6.6,7.5 5.8,8.2C5,8.9 3.7,8.4 2.5,7.9C1.3,7.45 -1.3,7.45 -2.5,7.9C-3.7,8.4 -5,8.9 -5.8,8.2C-6.6,7.5 -6.2,5.9 -5.3,4.3C-4.1,2.2 -2.4,0 0,0Z"/></g></svg>
<svg class="p" style="left:132.50px;top:115.25px" width="26" height="24" viewBox="-13 -12 26 24"><g class="w"><ellipse cx="0" cy="-1.5" rx="5.5" ry="3.6"/><ellipse cx="-3.05" cy="-5.45" rx="2.25" ry="3.07" transform="rotate(-8 -3.05 -5.45)"/><ellipse cx="3.05" cy="-5.45" rx="2.25" ry="3.07" transform="rotate(8 3.05 -5.45)"/><ellipse cx="-6.65" cy="-0.45" rx="2.25" ry="3.05" transform="rotate(-28 -6.65 -0.45)"/><ellipse cx="6.65" cy="-0.45" rx="2.25" ry="3.05" transform="rotate(28 6.65 -0.45)"/><path d="M0,0C2.4,0 4.1,2.2 5.3,4.3C6.2,5.9 6.6,7.5 5.8,8.2C5,8.9 3.7,8.4 2.5,7.9C1.3,7.45 -1.3,7.45 -2.5,7.9C-3.7,8.4 -5,8.9 -5.8,8.2C-6.6,7.5 -6.2,5.9 -5.3,4.3C-4.1,2.2 -2.4,0 0,0Z"/></g><g><ellipse cx="-3.05" cy="-5.45" rx="2.25" ry="3.07" transform="rotate(-8 -3.05 -5.45)"/><ellipse cx="3.05" cy="-5.45" rx="2.25" ry="3.07" transform="rotate(8 3.05 -5.45)"/><ellipse cx="-6.65" cy="-0.45" rx="2.25" ry="3.05" transform="rotate(-28 -6.65 -0.45)"/><ellipse cx="6.65" cy="-0.45" rx="2.25" ry="3.05" transform="rotate(28 6.65 -0.45)"/><path d="M0,0C2.4,0 4.1,2.2 5.3,4.3C6.2,5.9 6.6,7.5 5.8,8.2C5,8.9 3.7,8.4 2.5,7.9C1.3,7.45 -1.3,7.45 -2.5,7.9C-3.7,8.4 -5,8.9 -5.8,8.2C-6.6,7.5 -6.2,5.9 -5.3,4.3C-4.1,2.2 -2.4,0 0,0Z"/></g></svg>
<svg class="p" style="left:209.00px;top:115.25px" width="26" height="24" viewBox="-13 -12 26 24"><g class="w"><ellipse cx="0" cy="-1.5" rx="5.5" ry="3.6"/><ellipse cx="-3.05" cy="-5.45" rx="2.25" ry="3.07" transform="rotate(-8 -3.05 -5.45)"/><ellipse cx="3.05" cy="-5.45" rx="2.25" ry="3.07" transform="rotate(8 3.05 -5.45)"/><ellipse cx="-6.65" cy="-0.45" rx="2.25" ry="3.05" transform="rotate(-28 -6.65 -0.45)"/><ellipse cx="6.65" cy="-0.45" rx="2.25" ry="3.05" transform="rotate(28 6.65 -0.45)"/><path d="M0,0C2.4,0 4.1,2.2 5.3,4.3C6.2,5.9 6.6,7.5 5.8,8.2C5,8.9 3.7,8.4 2.5,7.9C1.3,7.45 -1.3,7.45 -2.5,7.9C-3.7,8.4 -5,8.9 -5.8,8.2C-6.6,7.5 -6.2,5.9 -5.3,4.3C-4.1,2.2 -2.4,0 0,0Z"/></g><g><ellipse cx="-3.05" cy="-5.45" rx="2.25" ry="3.07" transform="rotate(-8 -3.05 -5.45)"/><ellipse cx="3.05" cy="-5.45" rx="2.25" ry="3.07" transform="rotate(8 3.05 -5.45)"/><ellipse cx="-6.65" cy="-0.45" rx="2.25" ry="3.05" transform="rotate(-28 -6.65 -0.45)"/><ellipse cx="6.65" cy="-0.45" rx="2.25" ry="3.05" transform="rotate(28 6.65 -0.45)"/><path d="M0,0C2.4,0 4.1,2.2 5.3,4.3C6.2,5.9 6.6,7.5 5.8,8.2C5,8.9 3.7,8.4 2.5,7.9C1.3,7.45 -1.3,7.45 -2.5,7.9C-3.7,8.4 -5,8.9 -5.8,8.2C-6.6,7.5 -6.2,5.9 -5.3,4.3C-4.1,2.2 -2.4,0 0,0Z"/></g></svg>
<svg class="p" style="left:287.00px;top:115.90px" width="26" height="24" viewBox="-13 -12 26 24"><g class="w"><ellipse cx="0" cy="-1.5" rx="5.5" ry="3.6"/><ellipse cx="-3.05" cy="-5.45" rx="2.25" ry="3.07" transform="rotate(-8 -3.05 -5.45)"/><ellipse cx="3.05" cy="-5.45" rx="2.25" ry="3.07" transform="rotate(8 3.05 -5.45)"/><ellipse cx="-6.65" cy="-0.45" rx="2.25" ry="3.05" transform="rotate(-28 -6.65 -0.45)"/><ellipse cx="6.65" cy="-0.45" rx="2.25" ry="3.05" transform="rotate(28 6.65 -0.45)"/><path d="M0,0C2.4,0 4.1,2.2 5.3,4.3C6.2,5.9 6.6,7.5 5.8,8.2C5,8.9 3.7,8.4 2.5,7.9C1.3,7.45 -1.3,7.45 -2.5,7.9C-3.7,8.4 -5,8.9 -5.8,8.2C-6.6,7.5 -6.2,5.9 -5.3,4.3C-4.1,2.2 -2.4,0 0,0Z"/></g><g><ellipse cx="-3.05" cy="-5.45" rx="2.25" ry="3.07" transform="rotate(-8 -3.05 -5.45)"/><ellipse cx="3.05" cy="-5.45" rx="2.25" ry="3.07" transform="rotate(8 3.05 -5.45)"/><ellipse cx="-6.65" cy="-0.45" rx="2.25" ry="3.05" transform="rotate(-28 -6.65 -0.45)"/><ellipse cx="6.65" cy="-0.45" rx="2.25" ry="3.05" transform="rotate(28 6.65 -0.45)"/><path d="M0,0C2.4,0 4.1,2.2 5.3,4.3C6.2,5.9 6.6,7.5 5.8,8.2C5,8.9 3.7,8.4 2.5,7.9C1.3,7.45 -1.3,7.45 -2.5,7.9C-3.7,8.4 -5,8.9 -5.8,8.2C-6.6,7.5 -6.2,5.9 -5.3,4.3C-4.1,2.2 -2.4,0 0,0Z"/></g></svg>
<svg class="p" style="left:362.10px;top:115.50px" width="26" height="24" viewBox="-13 -12 26 24"><g class="w"><ellipse cx="0" cy="-1.5" rx="5.5" ry="3.6"/><ellipse cx="-3.05" cy="-5.45" rx="2.25" ry="3.07" transform="rotate(-8 -3.05 -5.45)"/><ellipse cx="3.05" cy="-5.45" rx="2.25" ry="3.07" transform="rotate(8 3.05 -5.45)"/><ellipse cx="-6.65" cy="-0.45" rx="2.25" ry="3.05" transform="rotate(-28 -6.65 -0.45)"/><ellipse cx="6.65" cy="-0.45" rx="2.25" ry="3.05" transform="rotate(28 6.65 -0.45)"/><path d="M0,0C2.4,0 4.1,2.2 5.3,4.3C6.2,5.9 6.6,7.5 5.8,8.2C5,8.9 3.7,8.4 2.5,7.9C1.3,7.45 -1.3,7.45 -2.5,7.9C-3.7,8.4 -5,8.9 -5.8,8.2C-6.6,7.5 -6.2,5.9 -5.3,4.3C-4.1,2.2 -2.4,0 0,0Z"/></g><g><ellipse cx="-3.05" cy="-5.45" rx="2.25" ry="3.07" transform="rotate(-8 -3.05 -5.45)"/><ellipse cx="3.05" cy="-5.45" rx="2.25" ry="3.07" transform="rotate(8 3.05 -5.45)"/><ellipse cx="-6.65" cy="-0.45" rx="2.25" ry="3.05" transform="rotate(-28 -6.65 -0.45)"/><ellipse cx="6.65" cy="-0.45" rx="2.25" ry="3.05" transform="rotate(28 6.65 -0.45)"/><path d="M0,0C2.4,0 4.1,2.2 5.3,4.3C6.2,5.9 6.6,7.5 5.8,8.2C5,8.9 3.7,8.4 2.5,7.9C1.3,7.45 -1.3,7.45 -2.5,7.9C-3.7,8.4 -5,8.9 -5.8,8.2C-6.6,7.5 -6.2,5.9 -5.3,4.3C-4.1,2.2 -2.4,0 0,0Z"/></g></svg>
<svg class="p" style="left:439.00px;top:115.50px" width="26" height="24" viewBox="-13 -12 26 24"><g class="w"><ellipse cx="0" cy="-1.5" rx="5.5" ry="3.6"/><ellipse cx="-3.05" cy="-5.45" rx="2.25" ry="3.07" transform="rotate(-8 -3.05 -5.45)"/><ellipse cx="3.05" cy="-5.45" rx="2.25" ry="3.07" transform="rotate(8 3.05 -5.45)"/><ellipse cx="-6.65" cy="-0.45" rx="2.25" ry="3.05" transform="rotate(-28 -6.65 -0.45)"/><ellipse cx="6.65" cy="-0.45" rx="2.25" ry="3.05" transform="rotate(28 6.65 -0.45)"/><path d="M0,0C2.4,0 4.1,2.2 5.3,4.3C6.2,5.9 6.6,7.5 5.8,8.2C5,8.9 3.7,8.4 2.5,7.9C1.3,7.45 -1.3,7.45 -2.5,7.9C-3.7,8.4 -5,8.9 -5.8,8.2C-6.6,7.5 -6.2,5.9 -5.3,4.3C-4.1,2.2 -2.4,0 0,0Z"/></g><g><ellipse cx="-3.05" cy="-5.45" rx="2.25" ry="3.07" transform="rotate(-8 -3.05 -5.45)"/><ellipse cx="3.05" cy="-5.45" rx="2.25" ry="3.07" transform="rotate(8 3.05 -5.45)"/><ellipse cx="-6.65" cy="-0.45" rx="2.25" ry="3.05" transform="rotate(-28 -6.65 -0.45)"/><ellipse cx="6.65" cy="-0.45" rx="2.25" ry="3.05" transform="rotate(28 6.65 -0.45)"/><path d="M0,0C2.4,0 4.1,2.2 5.3,4.3C6.2,5.9 6.6,7.5 5.8,8.2C5,8.9 3.7,8.4 2.5,7.9C1.3,7.45 -1.3,7.45 -2.5,7.9C-3.7,8.4 -5,8.9 -5.8,8.2C-6.6,7.5 -6.2,5.9 -5.3,4.3C-4.1,2.2 -2.4,0 0,0Z"/></g></svg>
<svg class="p" style="left:514.10px;top:115.50px" width="26" height="24" viewBox="-13 -12 26 24"><g class="w"><ellipse cx="0" cy="-1.5" rx="5.5" ry="3.6"/><ellipse cx="-3.05" cy="-5.45" rx="2.25" ry="3.07" transform="rotate(-8 -3.05 -5.45)"/><ellipse cx="3.05" cy="-5.45" rx="2.25" ry="3.07" transform="rotate(8 3.05 -5.45)"/><ellipse cx="-6.65" cy="-0.45" rx="2.25" ry="3.05" transform="rotate(-28 -6.65 -0.45)"/><ellipse cx="6.65" cy="-0.45" rx="2.25" ry="3.05" transform="rotate(28 6.65 -0.45)"/><path d="M0,0C2.4,0 4.1,2.2 5.3,4.3C6.2,5.9 6.6,7.5 5.8,8.2C5,8.9 3.7,8.4 2.5,7.9C1.3,7.45 -1.3,7.45 -2.5,7.9C-3.7,8.4 -5,8.9 -5.8,8.2C-6.6,7.5 -6.2,5.9 -5.3,4.3C-4.1,2.2 -2.4,0 0,0Z"/></g><g><ellipse cx="-3.05" cy="-5.45" rx="2.25" ry="3.07" transform="rotate(-8 -3.05 -5.45)"/><ellipse cx="3.05" cy="-5.45" rx="2.25" ry="3.07" transform="rotate(8 3.05 -5.45)"/><ellipse cx="-6.65" cy="-0.45" rx="2.25" ry="3.05" transform="rotate(-28 -6.65 -0.45)"/><ellipse cx="6.65" cy="-0.45" rx="2.25" ry="3.05" transform="rotate(28 6.65 -0.45)"/><path d="M0,0C2.4,0 4.1,2.2 5.3,4.3C6.2,5.9 6.6,7.5 5.8,8.2C5,8.9 3.7,8.4 2.5,7.9C1.3,7.45 -1.3,7.45 -2.5,7.9C-3.7,8.4 -5,8.9 -5.8,8.2C-6.6,7.5 -6.2,5.9 -5.3,4.3C-4.1,2.2 -2.4,0 0,0Z"/></g></svg>
<svg class="p" style="left:617.70px;top:115.25px" width="26" height="24" viewBox="-13 -12 26 24"><g class="w"><ellipse cx="0" cy="-1.5" rx="5.5" ry="3.6"/><ellipse cx="-3.05" cy="-5.45" rx="2.25" ry="3.07" transform="rotate(-8 -3.05 -5.45)"/><ellipse cx="3.05" cy="-5.45" rx="2.25" ry="3.07" transform="rotate(8 3.05 -5.45)"/><ellipse cx="-6.65" cy="-0.45" rx="2.25" ry="3.05" transform="rotate(-28 -6.65 -0.45)"/><ellipse cx="6.65" cy="-0.45" rx="2.25" ry="3.05" transform="rotate(28 6.65 -0.45)"/><path d="M0,0C2.4,0 4.1,2.2 5.3,4.3C6.2,5.9 6.6,7.5 5.8,8.2C5,8.9 3.7,8.4 2.5,7.9C1.3,7.45 -1.3,7.45 -2.5,7.9C-3.7,8.4 -5,8.9 -5.8,8.2C-6.6,7.5 -6.2,5.9 -5.3,4.3C-4.1,2.2 -2.4,0 0,0Z"/></g><g><ellipse cx="-3.05" cy="-5.45" rx="2.25" ry="3.07" transform="rotate(-8 -3.05 -5.45)"/><ellipse cx="3.05" cy="-5.45" rx="2.25" ry="3.07" transform="rotate(8 3.05 -5.45)"/><ellipse cx="-6.65" cy="-0.45" rx="2.25" ry="3.05" transform="rotate(-28 -6.65 -0.45)"/><ellipse cx="6.65" cy="-0.45" rx="2.25" ry="3.05" transform="rotate(28 6.65 -0.45)"/><path d="M0,0C2.4,0 4.1,2.2 5.3,4.3C6.2,5.9 6.6,7.5 5.8,8.2C5,8.9 3.7,8.4 2.5,7.9C1.3,7.45 -1.3,7.45 -2.5,7.9C-3.7,8.4 -5,8.9 -5.8,8.2C-6.6,7.5 -6.2,5.9 -5.3,4.3C-4.1,2.2 -2.4,0 0,0Z"/></g></svg>
<svg class="p" style="left:694.20px;top:115.25px" width="26" height="24" viewBox="-13 -12 26 24"><g class="w"><ellipse cx="0" cy="-1.5" rx="5.5" ry="3.6"/><ellipse cx="-3.05" cy="-5.45" rx="2.25" ry="3.07" transform="rotate(-8 -3.05 -5.45)"/><ellipse cx="3.05" cy="-5.45" rx="2.25" ry="3.07" transform="rotate(8 3.05 -5.45)"/><ellipse cx="-6.65" cy="-0.45" rx="2.25" ry="3.05" transform="rotate(-28 -6.65 -0.45)"/><ellipse cx="6.65" cy="-0.45" rx="2.25" ry="3.05" transform="rotate(28 6.65 -0.45)"/><path d="M0,0C2.4,0 4.1,2.2 5.3,4.3C6.2,5.9 6.6,7.5 5.8,8.2C5,8.9 3.7,8.4 2.5,7.9C1.3,7.45 -1.3,7.45 -2.5,7.9C-3.7,8.4 -5,8.9 -5.8,8.2C-6.6,7.5 -6.2,5.9 -5.3,4.3C-4.1,2.2 -2.4,0 0,0Z"/></g><g><ellipse cx="-3.05" cy="-5.45" rx="2.25" ry="3.07" transform="rotate(-8 -3.05 -5.45)"/><ellipse cx="3.05" cy="-5.45" rx="2.25" ry="3.07" transform="rotate(8 3.05 -5.45)"/><ellipse cx="-6.65" cy="-0.45" rx="2.25" ry="3.05" transform="rotate(-28 -6.65 -0.45)"/><ellipse cx="6.65" cy="-0.45" rx="2.25" ry="3.05" transform="rotate(28 6.65 -0.45)"/><path d="M0,0C2.4,0 4.1,2.2 5.3,4.3C6.2,5.9 6.6,7.5 5.8,8.2C5,8.9 3.7,8.4 2.5,7.9C1.3,7.45 -1.3,7.45 -2.5,7.9C-3.7,8.4 -5,8.9 -5.8,8.2C-6.6,7.5 -6.2,5.9 -5.3,4.3C-4.1,2.2 -2.4,0 0,0Z"/></g></svg>
<svg class="p" style="left:769.60px;top:115.60px" width="26" height="24" viewBox="-13 -12 26 24"><g class="w"><ellipse cx="0" cy="-1.5" rx="5.5" ry="3.6"/><ellipse cx="-3.05" cy="-5.45" rx="2.25" ry="3.07" transform="rotate(-8 -3.05 -5.45)"/><ellipse cx="3.05" cy="-5.45" rx="2.25" ry="3.07" transform="rotate(8 3.05 -5.45)"/><ellipse cx="-6.65" cy="-0.45" rx="2.25" ry="3.05" transform="rotate(-28 -6.65 -0.45)"/><ellipse cx="6.65" cy="-0.45" rx="2.25" ry="3.05" transform="rotate(28 6.65 -0.45)"/><path d="M0,0C2.4,0 4.1,2.2 5.3,4.3C6.2,5.9 6.6,7.5 5.8,8.2C5,8.9 3.7,8.4 2.5,7.9C1.3,7.45 -1.3,7.45 -2.5,7.9C-3.7,8.4 -5,8.9 -5.8,8.2C-6.6,7.5 -6.2,5.9 -5.3,4.3C-4.1,2.2 -2.4,0 0,0Z"/></g><g><ellipse cx="-3.05" cy="-5.45" rx="2.25" ry="3.07" transform="rotate(-8 -3.05 -5.45)"/><ellipse cx="3.05" cy="-5.45" rx="2.25" ry="3.07" transform="rotate(8 3.05 -5.45)"/><ellipse cx="-6.65" cy="-0.45" rx="2.25" ry="3.05" transform="rotate(-28 -6.65 -0.45)"/><ellipse cx="6.65" cy="-0.45" rx="2.25" ry="3.05" transform="rotate(28 6.65 -0.45)"/><path d="M0,0C2.4,0 4.1,2.2 5.3,4.3C6.2,5.9 6.6,7.5 5.8,8.2C5,8.9 3.7,8.4 2.5,7.9C1.3,7.45 -1.3,7.45 -2.5,7.9C-3.7,8.4 -5,8.9 -5.8,8.2C-6.6,7.5 -6.2,5.9 -5.3,4.3C-4.1,2.2 -2.4,0 0,0Z"/></g></svg>
<svg class="p" style="left:847.70px;top:115.60px" width="26" height="24" viewBox="-13 -12 26 24"><g class="w"><ellipse cx="0" cy="-1.5" rx="5.5" ry="3.6"/><ellipse cx="-3.05" cy="-5.45" rx="2.25" ry="3.07" transform="rotate(-8 -3.05 -5.45)"/><ellipse cx="3.05" cy="-5.45" rx="2.25" ry="3.07" transform="rotate(8 3.05 -5.45)"/><ellipse cx="-6.65" cy="-0.45" rx="2.25" ry="3.05" transform="rotate(-28 -6.65 -0.45)"/><ellipse cx="6.65" cy="-0.45" rx="2.25" ry="3.05" transform="rotate(28 6.65 -0.45)"/><path d="M0,0C2.4,0 4.1,2.2 5.3,4.3C6.2,5.9 6.6,7.5 5.8,8.2C5,8.9 3.7,8.4 2.5,7.9C1.3,7.45 -1.3,7.45 -2.5,7.9C-3.7,8.4 -5,8.9 -5.8,8.2C-6.6,7.5 -6.2,5.9 -5.3,4.3C-4.1,2.2 -2.4,0 0,0Z"/></g><g><ellipse cx="-3.05" cy="-5.45" rx="2.25" ry="3.07" transform="rotate(-8 -3.05 -5.45)"/><ellipse cx="3.05" cy="-5.45" rx="2.25" ry="3.07" transform="rotate(8 3.05 -5.45)"/><ellipse cx="-6.65" cy="-0.45" rx="2.25" ry="3.05" transform="rotate(-28 -6.65 -0.45)"/><ellipse cx="6.65" cy="-0.45" rx="2.25" ry="3.05" transform="rotate(28 6.65 -0.45)"/><path d="M0,0C2.4,0 4.1,2.2 5.3,4.3C6.2,5.9 6.6,7.5 5.8,8.2C5,8.9 3.7,8.4 2.5,7.9C1.3,7.45 -1.3,7.45 -2.5,7.9C-3.7,8.4 -5,8.9 -5.8,8.2C-6.6,7.5 -6.2,5.9 -5.3,4.3C-4.1,2.2 -2.4,0 0,0Z"/></g></svg>
<svg class="p" style="left:922.10px;top:115.80px" width="26" height="24" viewBox="-13 -12 26 24"><g class="w"><ellipse cx="0" cy="-1.5" rx="5.5" ry="3.6"/><ellipse cx="-3.05" cy="-5.45" rx="2.25" ry="3.07" transform="rotate(-8 -3.05 -5.45)"/><ellipse cx="3.05" cy="-5.45" rx="2.25" ry="3.07" transform="rotate(8 3.05 -5.45)"/><ellipse cx="-6.65" cy="-0.45" rx="2.25" ry="3.05" transform="rotate(-28 -6.65 -0.45)"/><ellipse cx="6.65" cy="-0.45" rx="2.25" ry="3.05" transform="rotate(28 6.65 -0.45)"/><path d="M0,0C2.4,0 4.1,2.2 5.3,4.3C6.2,5.9 6.6,7.5 5.8,8.2C5,8.9 3.7,8.4 2.5,7.9C1.3,7.45 -1.3,7.45 -2.5,7.9C-3.7,8.4 -5,8.9 -5.8,8.2C-6.6,7.5 -6.2,5.9 -5.3,4.3C-4.1,2.2 -2.4,0 0,0Z"/></g><g><ellipse cx="-3.05" cy="-5.45" rx="2.25" ry="3.07" transform="rotate(-8 -3.05 -5.45)"/><ellipse cx="3.05" cy="-5.45" rx="2.25" ry="3.07" transform="rotate(8 3.05 -5.45)"/><ellipse cx="-6.65" cy="-0.45" rx="2.25" ry="3.05" transform="rotate(-28 -6.65 -0.45)"/><ellipse cx="6.65" cy="-0.45" rx="2.25" ry="3.05" transform="rotate(28 6.65 -0.45)"/><path d="M0,0C2.4,0 4.1,2.2 5.3,4.3C6.2,5.9 6.6,7.5 5.8,8.2C5,8.9 3.7,8.4 2.5,7.9C1.3,7.45 -1.3,7.45 -2.5,7.9C-3.7,8.4 -5,8.9 -5.8,8.2C-6.6,7.5 -6.2,5.9 -5.3,4.3C-4.1,2.2 -2.4,0 0,0Z"/></g></svg>
<svg class="p" style="left:997.90px;top:115.80px" width="26" height="24" viewBox="-13 -12 26 24"><g class="w"><ellipse cx="0" cy="-1.5" rx="5.5" ry="3.6"/><ellipse cx="-3.05" cy="-5.45" rx="2.25" ry="3.07" transform="rotate(-8 -3.05 -5.45)"/><ellipse cx="3.05" cy="-5.45" rx="2.25" ry="3.07" transform="rotate(8 3.05 -5.45)"/><ellipse cx="-6.65" cy="-0.45" rx="2.25" ry="3.05" transform="rotate(-28 -6.65 -0.45)"/><ellipse cx="6.65" cy="-0.45" rx="2.25" ry="3.05" transform="rotate(28 6.65 -0.45)"/><path d="M0,0C2.4,0 4.1,2.2 5.3,4.3C6.2,5.9 6.6,7.5 5.8,8.2C5,8.9 3.7,8.4 2.5,7.9C1.3,7.45 -1.3,7.45 -2.5,7.9C-3.7,8.4 -5,8.9 -5.8,8.2C-6.6,7.5 -6.2,5.9 -5.3,4.3C-4.1,2.2 -2.4,0 0,0Z"/></g><g><ellipse cx="-3.05" cy="-5.45" rx="2.25" ry="3.07" transform="rotate(-8 -3.05 -5.45)"/><ellipse cx="3.05" cy="-5.45" rx="2.25" ry="3.07" transform="rotate(8 3.05 -5.45)"/><ellipse cx="-6.65" cy="-0.45" rx="2.25" ry="3.05" transform="rotate(-28 -6.65 -0.45)"/><ellipse cx="6.65" cy="-0.45" rx="2.25" ry="3.05" transform="rotate(28 6.65 -0.45)"/><path d="M0,0C2.4,0 4.1,2.2 5.3,4.3C6.2,5.9 6.6,7.5 5.8,8.2C5,8.9 3.7,8.4 2.5,7.9C1.3,7.45 -1.3,7.45 -2.5,7.9C-3.7,8.4 -5,8.9 -5.8,8.2C-6.6,7.5 -6.2,5.9 -5.3,4.3C-4.1,2.2 -2.4,0 0,0Z"/></g></svg>
<svg class="p" style="left:439.00px;top:139.70px" width="26" height="24" viewBox="-13 -12 26 24"><g class="w"><ellipse cx="0" cy="-1.5" rx="5.5" ry="3.6"/><ellipse cx="-3.05" cy="-5.45" rx="2.25" ry="3.07" transform="rotate(-8 -3.05 -5.45)"/><ellipse cx="3.05" cy="-5.45" rx="2.25" ry="3.07" transform="rotate(8 3.05 -5.45)"/><ellipse cx="-6.65" cy="-0.45" rx="2.25" ry="3.05" transform="rotate(-28 -6.65 -0.45)"/><ellipse cx="6.65" cy="-0.45" rx="2.25" ry="3.05" transform="rotate(28 6.65 -0.45)"/><path d="M0,0C2.4,0 4.1,2.2 5.3,4.3C6.2,5.9 6.6,7.5 5.8,8.2C5,8.9 3.7,8.4 2.5,7.9C1.3,7.45 -1.3,7.45 -2.5,7.9C-3.7,8.4 -5,8.9 -5.8,8.2C-6.6,7.5 -6.2,5.9 -5.3,4.3C-4.1,2.2 -2.4,0 0,0Z"/></g><g><ellipse cx="-3.05" cy="-5.45" rx="2.25" ry="3.07" transform="rotate(-8 -3.05 -5.45)"/><ellipse cx="3.05" cy="-5.45" rx="2.25" ry="3.07" transform="rotate(8 3.05 -5.45)"/><ellipse cx="-6.65" cy="-0.45" rx="2.25" ry="3.05" transform="rotate(-28 -6.65 -0.45)"/><ellipse cx="6.65" cy="-0.45" rx="2.25" ry="3.05" transform="rotate(28 6.65 -0.45)"/><path d="M0,0C2.4,0 4.1,2.2 5.3,4.3C6.2,5.9 6.6,7.5 5.8,8.2C5,8.9 3.7,8.4 2.5,7.9C1.3,7.45 -1.3,7.45 -2.5,7.9C-3.7,8.4 -5,8.9 -5.8,8.2C-6.6,7.5 -6.2,5.9 -5.3,4.3C-4.1,2.2 -2.4,0 0,0Z"/></g></svg>
<svg class="p" style="left:617.70px;top:141.50px" width="26" height="24" viewBox="-13 -12 26 24"><g class="w"><ellipse cx="0" cy="-1.5" rx="5.5" ry="3.6"/><ellipse cx="-3.05" cy="-5.45" rx="2.25" ry="3.07" transform="rotate(-8 -3.05 -5.45)"/><ellipse cx="3.05" cy="-5.45" rx="2.25" ry="3.07" transform="rotate(8 3.05 -5.45)"/><ellipse cx="-6.65" cy="-0.45" rx="2.25" ry="3.05" transform="rotate(-28 -6.65 -0.45)"/><ellipse cx="6.65" cy="-0.45" rx="2.25" ry="3.05" transform="rotate(28 6.65 -0.45)"/><path d="M0,0C2.4,0 4.1,2.2 5.3,4.3C6.2,5.9 6.6,7.5 5.8,8.2C5,8.9 3.7,8.4 2.5,7.9C1.3,7.45 -1.3,7.45 -2.5,7.9C-3.7,8.4 -5,8.9 -5.8,8.2C-6.6,7.5 -6.2,5.9 -5.3,4.3C-4.1,2.2 -2.4,0 0,0Z"/></g><g><ellipse cx="-3.05" cy="-5.45" rx="2.25" ry="3.07" transform="rotate(-8 -3.05 -5.45)"/><ellipse cx="3.05" cy="-5.45" rx="2.25" ry="3.07" transform="rotate(8 3.05 -5.45)"/><ellipse cx="-6.65" cy="-0.45" rx="2.25" ry="3.05" transform="rotate(-28 -6.65 -0.45)"/><ellipse cx="6.65" cy="-0.45" rx="2.25" ry="3.05" transform="rotate(28 6.65 -0.45)"/><path d="M0,0C2.4,0 4.1,2.2 5.3,4.3C6.2,5.9 6.6,7.5 5.8,8.2C5,8.9 3.7,8.4 2.5,7.9C1.3,7.45 -1.3,7.45 -2.5,7.9C-3.7,8.4 -5,8.9 -5.8,8.2C-6.6,7.5 -6.2,5.9 -5.3,4.3C-4.1,2.2 -2.4,0 0,0Z"/></g></svg>
<svg class="p" style="left:694.50px;top:141.50px" width="26" height="24" viewBox="-13 -12 26 24"><g class="w"><ellipse cx="0" cy="-1.5" rx="5.5" ry="3.6"/><ellipse cx="-3.05" cy="-5.45" rx="2.25" ry="3.07" transform="rotate(-8 -3.05 -5.45)"/><ellipse cx="3.05" cy="-5.45" rx="2.25" ry="3.07" transform="rotate(8 3.05 -5.45)"/><ellipse cx="-6.65" cy="-0.45" rx="2.25" ry="3.05" transform="rotate(-28 -6.65 -0.45)"/><ellipse cx="6.65" cy="-0.45" rx="2.25" ry="3.05" transform="rotate(28 6.65 -0.45)"/><path d="M0,0C2.4,0 4.1,2.2 5.3,4.3C6.2,5.9 6.6,7.5 5.8,8.2C5,8.9 3.7,8.4 2.5,7.9C1.3,7.45 -1.3,7.45 -2.5,7.9C-3.7,8.4 -5,8.9 -5.8,8.2C-6.6,7.5 -6.2,5.9 -5.3,4.3C-4.1,2.2 -2.4,0 0,0Z"/></g><g><ellipse cx="-3.05" cy="-5.45" rx="2.25" ry="3.07" transform="rotate(-8 -3.05 -5.45)"/><ellipse cx="3.05" cy="-5.45" rx="2.25" ry="3.07" transform="rotate(8 3.05 -5.45)"/><ellipse cx="-6.65" cy="-0.45" rx="2.25" ry="3.05" transform="rotate(-28 -6.65 -0.45)"/><ellipse cx="6.65" cy="-0.45" rx="2.25" ry="3.05" transform="rotate(28 6.65 -0.45)"/><path d="M0,0C2.4,0 4.1,2.2 5.3,4.3C6.2,5.9 6.6,7.5 5.8,8.2C5,8.9 3.7,8.4 2.5,7.9C1.3,7.45 -1.3,7.45 -2.5,7.9C-3.7,8.4 -5,8.9 -5.8,8.2C-6.6,7.5 -6.2,5.9 -5.3,4.3C-4.1,2.2 -2.4,0 0,0Z"/></g></svg>
<svg class="p" style="left:847.70px;top:141.50px" width="26" height="24" viewBox="-13 -12 26 24"><g class="w"><ellipse cx="0" cy="-1.5" rx="5.5" ry="3.6"/><ellipse cx="-3.05" cy="-5.45" rx="2.25" ry="3.07" transform="rotate(-8 -3.05 -5.45)"/><ellipse cx="3.05" cy="-5.45" rx="2.25" ry="3.07" transform="rotate(8 3.05 -5.45)"/><ellipse cx="-6.65" cy="-0.45" rx="2.25" ry="3.05" transform="rotate(-28 -6.65 -0.45)"/><ellipse cx="6.65" cy="-0.45" rx="2.25" ry="3.05" transform="rotate(28 6.65 -0.45)"/><path d="M0,0C2.4,0 4.1,2.2 5.3,4.3C6.2,5.9 6.6,7.5 5.8,8.2C5,8.9 3.7,8.4 2.5,7.9C1.3,7.45 -1.3,7.45 -2.5,7.9C-3.7,8.4 -5,8.9 -5.8,8.2C-6.6,7.5 -6.2,5.9 -5.3,4.3C-4.1,2.2 -2.4,0 0,0Z"/></g><g><ellipse cx="-3.05" cy="-5.45" rx="2.25" ry="3.07" transform="rotate(-8 -3.05 -5.45)"/><ellipse cx="3.05" cy="-5.45" rx="2.25" ry="3.07" transform="rotate(8 3.05 -5.45)"/><ellipse cx="-6.65" cy="-0.45" rx="2.25" ry="3.05" transform="rotate(-28 -6.65 -0.45)"/><ellipse cx="6.65" cy="-0.45" rx="2.25" ry="3.05" transform="rotate(28 6.65 -0.45)"/><path d="M0,0C2.4,0 4.1,2.2 5.3,4.3C6.2,5.9 6.6,7.5 5.8,8.2C5,8.9 3.7,8.4 2.5,7.9C1.3,7.45 -1.3,7.45 -2.5,7.9C-3.7,8.4 -5,8.9 -5.8,8.2C-6.6,7.5 -6.2,5.9 -5.3,4.3C-4.1,2.2 -2.4,0 0,0Z"/></g></svg>
<svg class="p" style="left:439.00px;top:165.50px" width="26" height="24" viewBox="-13 -12 26 24"><g class="w"><ellipse cx="0" cy="-1.5" rx="5.5" ry="3.6"/><ellipse cx="-3.05" cy="-5.45" rx="2.25" ry="3.07" transform="rotate(-8 -3.05 -5.45)"/><ellipse cx="3.05" cy="-5.45" rx="2.25" ry="3.07" transform="rotate(8 3.05 -5.45)"/><ellipse cx="-6.65" cy="-0.45" rx="2.25" ry="3.05" transform="rotate(-28 -6.65 -0.45)"/><ellipse cx="6.65" cy="-0.45" rx="2.25" ry="3.05" transform="rotate(28 6.65 -0.45)"/><path d="M0,0C2.4,0 4.1,2.2 5.3,4.3C6.2,5.9 6.6,7.5 5.8,8.2C5,8.9 3.7,8.4 2.5,7.9C1.3,7.45 -1.3,7.45 -2.5,7.9C-3.7,8.4 -5,8.9 -5.8,8.2C-6.6,7.5 -6.2,5.9 -5.3,4.3C-4.1,2.2 -2.4,0 0,0Z"/></g><g><ellipse cx="-3.05" cy="-5.45" rx="2.25" ry="3.07" transform="rotate(-8 -3.05 -5.45)"/><ellipse cx="3.05" cy="-5.45" rx="2.25" ry="3.07" transform="rotate(8 3.05 -5.45)"/><ellipse cx="-6.65" cy="-0.45" rx="2.25" ry="3.05" transform="rotate(-28 -6.65 -0.45)"/><ellipse cx="6.65" cy="-0.45" rx="2.25" ry="3.05" transform="rotate(28 6.65 -0.45)"/><path d="M0,0C2.4,0 4.1,2.2 5.3,4.3C6.2,5.9 6.6,7.5 5.8,8.2C5,8.9 3.7,8.4 2.5,7.9C1.3,7.45 -1.3,7.45 -2.5,7.9C-3.7,8.4 -5,8.9 -5.8,8.2C-6.6,7.5 -6.2,5.9 -5.3,4.3C-4.1,2.2 -2.4,0 0,0Z"/></g></svg>
<svg class="p" style="left:617.70px;top:165.50px" width="26" height="24" viewBox="-13 -12 26 24"><g class="w"><ellipse cx="0" cy="-1.5" rx="5.5" ry="3.6"/><ellipse cx="-3.05" cy="-5.45" rx="2.25" ry="3.07" transform="rotate(-8 -3.05 -5.45)"/><ellipse cx="3.05" cy="-5.45" rx="2.25" ry="3.07" transform="rotate(8 3.05 -5.45)"/><ellipse cx="-6.65" cy="-0.45" rx="2.25" ry="3.05" transform="rotate(-28 -6.65 -0.45)"/><ellipse cx="6.65" cy="-0.45" rx="2.25" ry="3.05" transform="rotate(28 6.65 -0.45)"/><path d="M0,0C2.4,0 4.1,2.2 5.3,4.3C6.2,5.9 6.6,7.5 5.8,8.2C5,8.9 3.7,8.4 2.5,7.9C1.3,7.45 -1.3,7.45 -2.5,7.9C-3.7,8.4 -5,8.9 -5.8,8.2C-6.6,7.5 -6.2,5.9 -5.3,4.3C-4.1,2.2 -2.4,0 0,0Z"/></g><g><ellipse cx="-3.05" cy="-5.45" rx="2.25" ry="3.07" transform="rotate(-8 -3.05 -5.45)"/><ellipse cx="3.05" cy="-5.45" rx="2.25" ry="3.07" transform="rotate(8 3.05 -5.45)"/><ellipse cx="-6.65" cy="-0.45" rx="2.25" ry="3.05" transform="rotate(-28 -6.65 -0.45)"/><ellipse cx="6.65" cy="-0.45" rx="2.25" ry="3.05" transform="rotate(28 6.65 -0.45)"/><path d="M0,0C2.4,0 4.1,2.2 5.3,4.3C6.2,5.9 6.6,7.5 5.8,8.2C5,8.9 3.7,8.4 2.5,7.9C1.3,7.45 -1.3,7.45 -2.5,7.9C-3.7,8.4 -5,8.9 -5.8,8.2C-6.6,7.5 -6.2,5.9 -5.3,4.3C-4.1,2.2 -2.4,0 0,0Z"/></g></svg>
<svg class="p" style="left:694.20px;top:165.50px" width="26" height="24" viewBox="-13 -12 26 24"><g class="w"><ellipse cx="0" cy="-1.5" rx="5.5" ry="3.6"/><ellipse cx="-3.05" cy="-5.45" rx="2.25" ry="3.07" transform="rotate(-8 -3.05 -5.45)"/><ellipse cx="3.05" cy="-5.45" rx="2.25" ry="3.07" transform="rotate(8 3.05 -5.45)"/><ellipse cx="-6.65" cy="-0.45" rx="2.25" ry="3.05" transform="rotate(-28 -6.65 -0.45)"/><ellipse cx="6.65" cy="-0.45" rx="2.25" ry="3.05" transform="rotate(28 6.65 -0.45)"/><path d="M0,0C2.4,0 4.1,2.2 5.3,4.3C6.2,5.9 6.6,7.5 5.8,8.2C5,8.9 3.7,8.4 2.5,7.9C1.3,7.45 -1.3,7.45 -2.5,7.9C-3.7,8.4 -5,8.9 -5.8,8.2C-6.6,7.5 -6.2,5.9 -5.3,4.3C-4.1,2.2 -2.4,0 0,0Z"/></g><g><ellipse cx="-3.05" cy="-5.45" rx="2.25" ry="3.07" transform="rotate(-8 -3.05 -5.45)"/><ellipse cx="3.05" cy="-5.45" rx="2.25" ry="3.07" transform="rotate(8 3.05 -5.45)"/><ellipse cx="-6.65" cy="-0.45" rx="2.25" ry="3.05" transform="rotate(-28 -6.65 -0.45)"/><ellipse cx="6.65" cy="-0.45" rx="2.25" ry="3.05" transform="rotate(28 6.65 -0.45)"/><path d="M0,0C2.4,0 4.1,2.2 5.3,4.3C6.2,5.9 6.6,7.5 5.8,8.2C5,8.9 3.7,8.4 2.5,7.9C1.3,7.45 -1.3,7.45 -2.5,7.9C-3.7,8.4 -5,8.9 -5.8,8.2C-6.6,7.5 -6.2,5.9 -5.3,4.3C-4.1,2.2 -2.4,0 0,0Z"/></g></svg>
<svg class="p" style="left:769.60px;top:165.50px" width="26" height="24" viewBox="-13 -12 26 24"><g class="w"><ellipse cx="0" cy="-1.5" rx="5.5" ry="3.6"/><ellipse cx="-3.05" cy="-5.45" rx="2.25" ry="3.07" transform="rotate(-8 -3.05 -5.45)"/><ellipse cx="3.05" cy="-5.45" rx="2.25" ry="3.07" transform="rotate(8 3.05 -5.45)"/><ellipse cx="-6.65" cy="-0.45" rx="2.25" ry="3.05" transform="rotate(-28 -6.65 -0.45)"/><ellipse cx="6.65" cy="-0.45" rx="2.25" ry="3.05" transform="rotate(28 6.65 -0.45)"/><path d="M0,0C2.4,0 4.1,2.2 5.3,4.3C6.2,5.9 6.6,7.5 5.8,8.2C5,8.9 3.7,8.4 2.5,7.9C1.3,7.45 -1.3,7.45 -2.5,7.9C-3.7,8.4 -5,8.9 -5.8,8.2C-6.6,7.5 -6.2,5.9 -5.3,4.3C-4.1,2.2 -2.4,0 0,0Z"/></g><g><ellipse cx="-3.05" cy="-5.45" rx="2.25" ry="3.07" transform="rotate(-8 -3.05 -5.45)"/><ellipse cx="3.05" cy="-5.45" rx="2.25" ry="3.07" transform="rotate(8 3.05 -5.45)"/><ellipse cx="-6.65" cy="-0.45" rx="2.25" ry="3.05" transform="rotate(-28 -6.65 -0.45)"/><ellipse cx="6.65" cy="-0.45" rx="2.25" ry="3.05" transform="rotate(28 6.65 -0.45)"/><path d="M0,0C2.4,0 4.1,2.2 5.3,4.3C6.2,5.9 6.6,7.5 5.8,8.2C5,8.9 3.7,8.4 2.5,7.9C1.3,7.45 -1.3,7.45 -2.5,7.9C-3.7,8.4 -5,8.9 -5.8,8.2C-6.6,7.5 -6.2,5.9 -5.3,4.3C-4.1,2.2 -2.4,0 0,0Z"/></g></svg>
<svg class="p" style="left:847.70px;top:165.50px" width="26" height="24" viewBox="-13 -12 26 24"><g class="w"><ellipse cx="0" cy="-1.5" rx="5.5" ry="3.6"/><ellipse cx="-3.05" cy="-5.45" rx="2.25" ry="3.07" transform="rotate(-8 -3.05 -5.45)"/><ellipse cx="3.05" cy="-5.45" rx="2.25" ry="3.07" transform="rotate(8 3.05 -5.45)"/><ellipse cx="-6.65" cy="-0.45" rx="2.25" ry="3.05" transform="rotate(-28 -6.65 -0.45)"/><ellipse cx="6.65" cy="-0.45" rx="2.25" ry="3.05" transform="rotate(28 6.65 -0.45)"/><path d="M0,0C2.4,0 4.1,2.2 5.3,4.3C6.2,5.9 6.6,7.5 5.8,8.2C5,8.9 3.7,8.4 2.5,7.9C1.3,7.45 -1.3,7.45 -2.5,7.9C-3.7,8.4 -5,8.9 -5.8,8.2C-6.6,7.5 -6.2,5.9 -5.3,4.3C-4.1,2.2 -2.4,0 0,0Z"/></g><g><ellipse cx="-3.05" cy="-5.45" rx="2.25" ry="3.07" transform="rotate(-8 -3.05 -5.45)"/><ellipse cx="3.05" cy="-5.45" rx="2.25" ry="3.07" transform="rotate(8 3.05 -5.45)"/><ellipse cx="-6.65" cy="-0.45" rx="2.25" ry="3.05" transform="rotate(-28 -6.65 -0.45)"/><ellipse cx="6.65" cy="-0.45" rx="2.25" ry="3.05" transform="rotate(28 6.65 -0.45)"/><path d="M0,0C2.4,0 4.1,2.2 5.3,4.3C6.2,5.9 6.6,7.5 5.8,8.2C5,8.9 3.7,8.4 2.5,7.9C1.3,7.45 -1.3,7.45 -2.5,7.9C-3.7,8.4 -5,8.9 -5.8,8.2C-6.6,7.5 -6.2,5.9 -5.3,4.3C-4.1,2.2 -2.4,0 0,0Z"/></g></svg>
<svg class="p" style="left:847.70px;top:190.25px" width="26" height="24" viewBox="-13 -12 26 24"><g class="w"><ellipse cx="0" cy="-1.5" rx="5.5" ry="3.6"/><ellipse cx="-3.05" cy="-5.45" rx="2.25" ry="3.07" transform="rotate(-8 -3.05 -5.45)"/><ellipse cx="3.05" cy="-5.45" rx="2.25" ry="3.07" transform="rotate(8 3.05 -5.45)"/><ellipse cx="-6.65" cy="-0.45" rx="2.25" ry="3.05" transform="rotate(-28 -6.65 -0.45)"/><ellipse cx="6.65" cy="-0.45" rx="2.25" ry="3.05" transform="rotate(28 6.65 -0.45)"/><path d="M0,0C2.4,0 4.1,2.2 5.3,4.3C6.2,5.9 6.6,7.5 5.8,8.2C5,8.9 3.7,8.4 2.5,7.9C1.3,7.45 -1.3,7.45 -2.5,7.9C-3.7,8.4 -5,8.9 -5.8,8.2C-6.6,7.5 -6.2,5.9 -5.3,4.3C-4.1,2.2 -2.4,0 0,0Z"/></g><g><ellipse cx="-3.05" cy="-5.45" rx="2.25" ry="3.07" transform="rotate(-8 -3.05 -5.45)"/><ellipse cx="3.05" cy="-5.45" rx="2.25" ry="3.07" transform="rotate(8 3.05 -5.45)"/><ellipse cx="-6.65" cy="-0.45" rx="2.25" ry="3.05" transform="rotate(-28 -6.65 -0.45)"/><ellipse cx="6.65" cy="-0.45" rx="2.25" ry="3.05" transform="rotate(28 6.65 -0.45)"/><path d="M0,0C2.4,0 4.1,2.2 5.3,4.3C6.2,5.9 6.6,7.5 5.8,8.2C5,8.9 3.7,8.4 2.5,7.9C1.3,7.45 -1.3,7.45 -2.5,7.9C-3.7,8.4 -5,8.9 -5.8,8.2C-6.6,7.5 -6.2,5.9 -5.3,4.3C-4.1,2.2 -2.4,0 0,0Z"/></g></svg>
<svg class="p" style="left:1074.10px;top:190.25px" width="26" height="24" viewBox="-13 -12 26 24"><g class="w"><ellipse cx="0" cy="-1.5" rx="5.5" ry="3.6"/><ellipse cx="-3.05" cy="-5.45" rx="2.25" ry="3.07" transform="rotate(-8 -3.05 -5.45)"/><ellipse cx="3.05" cy="-5.45" rx="2.25" ry="3.07" transform="rotate(8 3.05 -5.45)"/><ellipse cx="-6.65" cy="-0.45" rx="2.25" ry="3.05" transform="rotate(-28 -6.65 -0.45)"/><ellipse cx="6.65" cy="-0.45" rx="2.25" ry="3.05" transform="rotate(28 6.65 -0.45)"/><path d="M0,0C2.4,0 4.1,2.2 5.3,4.3C6.2,5.9 6.6,7.5 5.8,8.2C5,8.9 3.7,8.4 2.5,7.9C1.3,7.45 -1.3,7.45 -2.5,7.9C-3.7,8.4 -5,8.9 -5.8,8.2C-6.6,7.5 -6.2,5.9 -5.3,4.3C-4.1,2.2 -2.4,0 0,0Z"/></g><g><ellipse cx="-3.05" cy="-5.45" rx="2.25" ry="3.07" transform="rotate(-8 -3.05 -5.45)"/><ellipse cx="3.05" cy="-5.45" rx="2.25" ry="3.07" transform="rotate(8 3.05 -5.45)"/><ellipse cx="-6.65" cy="-0.45" rx="2.25" ry="3.05" transform="rotate(-28 -6.65 -0.45)"/><ellipse cx="6.65" cy="-0.45" rx="2.25" ry="3.05" transform="rotate(28 6.65 -0.45)"/><path d="M0,0C2.4,0 4.1,2.2 5.3,4.3C6.2,5.9 6.6,7.5 5.8,8.2C5,8.9 3.7,8.4 2.5,7.9C1.3,7.45 -1.3,7.45 -2.5,7.9C-3.7,8.4 -5,8.9 -5.8,8.2C-6.6,7.5 -6.2,5.9 -5.3,4.3C-4.1,2.2 -2.4,0 0,0Z"/></g></svg>
<svg class="p" style="left:286.50px;top:215.75px" width="26" height="24" viewBox="-13 -12 26 24"><g class="w"><ellipse cx="0" cy="-1.5" rx="5.5" ry="3.6"/><ellipse cx="-3.05" cy="-5.45" rx="2.25" ry="3.07" transform="rotate(-8 -3.05 -5.45)"/><ellipse cx="3.05" cy="-5.45" rx="2.25" ry="3.07" transform="rotate(8 3.05 -5.45)"/><ellipse cx="-6.65" cy="-0.45" rx="2.25" ry="3.05" transform="rotate(-28 -6.65 -0.45)"/><ellipse cx="6.65" cy="-0.45" rx="2.25" ry="3.05" transform="rotate(28 6.65 -0.45)"/><path d="M0,0C2.4,0 4.1,2.2 5.3,4.3C6.2,5.9 6.6,7.5 5.8,8.2C5,8.9 3.7,8.4 2.5,7.9C1.3,7.45 -1.3,7.45 -2.5,7.9C-3.7,8.4 -5,8.9 -5.8,8.2C-6.6,7.5 -6.2,5.9 -5.3,4.3C-4.1,2.2 -2.4,0 0,0Z"/></g><g><ellipse cx="-3.05" cy="-5.45" rx="2.25" ry="3.07" transform="rotate(-8 -3.05 -5.45)"/><ellipse cx="3.05" cy="-5.45" rx="2.25" ry="3.07" transform="rotate(8 3.05 -5.45)"/><ellipse cx="-6.65" cy="-0.45" rx="2.25" ry="3.05" transform="rotate(-28 -6.65 -0.45)"/><ellipse cx="6.65" cy="-0.45" rx="2.25" ry="3.05" transform="rotate(28 6.65 -0.45)"/><path d="M0,0C2.4,0 4.1,2.2 5.3,4.3C6.2,5.9 6.6,7.5 5.8,8.2C5,8.9 3.7,8.4 2.5,7.9C1.3,7.45 -1.3,7.45 -2.5,7.9C-3.7,8.4 -5,8.9 -5.8,8.2C-6.6,7.5 -6.2,5.9 -5.3,4.3C-4.1,2.2 -2.4,0 0,0Z"/></g></svg>
<svg class="p" style="left:516.60px;top:215.30px" width="26" height="24" viewBox="-13 -12 26 24"><g class="w"><ellipse cx="0" cy="-1.5" rx="5.5" ry="3.6"/><ellipse cx="-3.05" cy="-5.45" rx="2.25" ry="3.07" transform="rotate(-8 -3.05 -5.45)"/><ellipse cx="3.05" cy="-5.45" rx="2.25" ry="3.07" transform="rotate(8 3.05 -5.45)"/><ellipse cx="-6.65" cy="-0.45" rx="2.25" ry="3.05" transform="rotate(-28 -6.65 -0.45)"/><ellipse cx="6.65" cy="-0.45" rx="2.25" ry="3.05" transform="rotate(28 6.65 -0.45)"/><path d="M0,0C2.4,0 4.1,2.2 5.3,4.3C6.2,5.9 6.6,7.5 5.8,8.2C5,8.9 3.7,8.4 2.5,7.9C1.3,7.45 -1.3,7.45 -2.5,7.9C-3.7,8.4 -5,8.9 -5.8,8.2C-6.6,7.5 -6.2,5.9 -5.3,4.3C-4.1,2.2 -2.4,0 0,0Z"/></g><g><ellipse cx="-3.05" cy="-5.45" rx="2.25" ry="3.07" transform="rotate(-8 -3.05 -5.45)"/><ellipse cx="3.05" cy="-5.45" rx="2.25" ry="3.07" transform="rotate(8 3.05 -5.45)"/><ellipse cx="-6.65" cy="-0.45" rx="2.25" ry="3.05" transform="rotate(-28 -6.65 -0.45)"/><ellipse cx="6.65" cy="-0.45" rx="2.25" ry="3.05" transform="rotate(28 6.65 -0.45)"/><path d="M0,0C2.4,0 4.1,2.2 5.3,4.3C6.2,5.9 6.6,7.5 5.8,8.2C5,8.9 3.7,8.4 2.5,7.9C1.3,7.45 -1.3,7.45 -2.5,7.9C-3.7,8.4 -5,8.9 -5.8,8.2C-6.6,7.5 -6.2,5.9 -5.3,4.3C-4.1,2.2 -2.4,0 0,0Z"/></g></svg>
<svg class="p" style="left:618.10px;top:215.75px" width="26" height="24" viewBox="-13 -12 26 24"><g class="w"><ellipse cx="0" cy="-1.5" rx="5.5" ry="3.6"/><ellipse cx="-3.05" cy="-5.45" rx="2.25" ry="3.07" transform="rotate(-8 -3.05 -5.45)"/><ellipse cx="3.05" cy="-5.45" rx="2.25" ry="3.07" transform="rotate(8 3.05 -5.45)"/><ellipse cx="-6.65" cy="-0.45" rx="2.25" ry="3.05" transform="rotate(-28 -6.65 -0.45)"/><ellipse cx="6.65" cy="-0.45" rx="2.25" ry="3.05" transform="rotate(28 6.65 -0.45)"/><path d="M0,0C2.4,0 4.1,2.2 5.3,4.3C6.2,5.9 6.6,7.5 5.8,8.2C5,8.9 3.7,8.4 2.5,7.9C1.3,7.45 -1.3,7.45 -2.5,7.9C-3.7,8.4 -5,8.9 -5.8,8.2C-6.6,7.5 -6.2,5.9 -5.3,4.3C-4.1,2.2 -2.4,0 0,0Z"/></g><g><ellipse cx="-3.05" cy="-5.45" rx="2.25" ry="3.07" transform="rotate(-8 -3.05 -5.45)"/><ellipse cx="3.05" cy="-5.45" rx="2.25" ry="3.07" transform="rotate(8 3.05 -5.45)"/><ellipse cx="-6.65" cy="-0.45" rx="2.25" ry="3.05" transform="rotate(-28 -6.65 -0.45)"/><ellipse cx="6.65" cy="-0.45" rx="2.25" ry="3.05" transform="rotate(28 6.65 -0.45)"/><path d="M0,0C2.4,0 4.1,2.2 5.3,4.3C6.2,5.9 6.6,7.5 5.8,8.2C5,8.9 3.7,8.4 2.5,7.9C1.3,7.45 -1.3,7.45 -2.5,7.9C-3.7,8.4 -5,8.9 -5.8,8.2C-6.6,7.5 -6.2,5.9 -5.3,4.3C-4.1,2.2 -2.4,0 0,0Z"/></g></svg>
<svg class="p" style="left:847.70px;top:215.50px" width="26" height="24" viewBox="-13 -12 26 24"><g class="w"><ellipse cx="0" cy="-1.5" rx="5.5" ry="3.6"/><ellipse cx="-3.05" cy="-5.45" rx="2.25" ry="3.07" transform="rotate(-8 -3.05 -5.45)"/><ellipse cx="3.05" cy="-5.45" rx="2.25" ry="3.07" transform="rotate(8 3.05 -5.45)"/><ellipse cx="-6.65" cy="-0.45" rx="2.25" ry="3.05" transform="rotate(-28 -6.65 -0.45)"/><ellipse cx="6.65" cy="-0.45" rx="2.25" ry="3.05" transform="rotate(28 6.65 -0.45)"/><path d="M0,0C2.4,0 4.1,2.2 5.3,4.3C6.2,5.9 6.6,7.5 5.8,8.2C5,8.9 3.7,8.4 2.5,7.9C1.3,7.45 -1.3,7.45 -2.5,7.9C-3.7,8.4 -5,8.9 -5.8,8.2C-6.6,7.5 -6.2,5.9 -5.3,4.3C-4.1,2.2 -2.4,0 0,0Z"/></g><g><ellipse cx="-3.05" cy="-5.45" rx="2.25" ry="3.07" transform="rotate(-8 -3.05 -5.45)"/><ellipse cx="3.05" cy="-5.45" rx="2.25" ry="3.07" transform="rotate(8 3.05 -5.45)"/><ellipse cx="-6.65" cy="-0.45" rx="2.25" ry="3.05" transform="rotate(-28 -6.65 -0.45)"/><ellipse cx="6.65" cy="-0.45" rx="2.25" ry="3.05" transform="rotate(28 6.65 -0.45)"/><path d="M0,0C2.4,0 4.1,2.2 5.3,4.3C6.2,5.9 6.6,7.5 5.8,8.2C5,8.9 3.7,8.4 2.5,7.9C1.3,7.45 -1.3,7.45 -2.5,7.9C-3.7,8.4 -5,8.9 -5.8,8.2C-6.6,7.5 -6.2,5.9 -5.3,4.3C-4.1,2.2 -2.4,0 0,0Z"/></g></svg>
<svg class="p" style="left:999.30px;top:215.40px" width="26" height="24" viewBox="-13 -12 26 24"><g class="w"><ellipse cx="0" cy="-1.5" rx="5.5" ry="3.6"/><ellipse cx="-3.05" cy="-5.45" rx="2.25" ry="3.07" transform="rotate(-8 -3.05 -5.45)"/><ellipse cx="3.05" cy="-5.45" rx="2.25" ry="3.07" transform="rotate(8 3.05 -5.45)"/><ellipse cx="-6.65" cy="-0.45" rx="2.25" ry="3.05" transform="rotate(-28 -6.65 -0.45)"/><ellipse cx="6.65" cy="-0.45" rx="2.25" ry="3.05" transform="rotate(28 6.65 -0.45)"/><path d="M0,0C2.4,0 4.1,2.2 5.3,4.3C6.2,5.9 6.6,7.5 5.8,8.2C5,8.9 3.7,8.4 2.5,7.9C1.3,7.45 -1.3,7.45 -2.5,7.9C-3.7,8.4 -5,8.9 -5.8,8.2C-6.6,7.5 -6.2,5.9 -5.3,4.3C-4.1,2.2 -2.4,0 0,0Z"/></g><g><ellipse cx="-3.05" cy="-5.45" rx="2.25" ry="3.07" transform="rotate(-8 -3.05 -5.45)"/><ellipse cx="3.05" cy="-5.45" rx="2.25" ry="3.07" transform="rotate(8 3.05 -5.45)"/><ellipse cx="-6.65" cy="-0.45" rx="2.25" ry="3.05" transform="rotate(-28 -6.65 -0.45)"/><ellipse cx="6.65" cy="-0.45" rx="2.25" ry="3.05" transform="rotate(28 6.65 -0.45)"/><path d="M0,0C2.4,0 4.1,2.2 5.3,4.3C6.2,5.9 6.6,7.5 5.8,8.2C5,8.9 3.7,8.4 2.5,7.9C1.3,7.45 -1.3,7.45 -2.5,7.9C-3.7,8.4 -5,8.9 -5.8,8.2C-6.6,7.5 -6.2,5.9 -5.3,4.3C-4.1,2.2 -2.4,0 0,0Z"/></g></svg>
<svg class="p" style="left:132.20px;top:240.00px" width="26" height="24" viewBox="-13 -12 26 24"><g class="w"><ellipse cx="0" cy="-1.5" rx="5.5" ry="3.6"/><ellipse cx="-3.05" cy="-5.45" rx="2.25" ry="3.07" transform="rotate(-8 -3.05 -5.45)"/><ellipse cx="3.05" cy="-5.45" rx="2.25" ry="3.07" transform="rotate(8 3.05 -5.45)"/><ellipse cx="-6.65" cy="-0.45" rx="2.25" ry="3.05" transform="rotate(-28 -6.65 -0.45)"/><ellipse cx="6.65" cy="-0.45" rx="2.25" ry="3.05" transform="rotate(28 6.65 -0.45)"/><path d="M0,0C2.4,0 4.1,2.2 5.3,4.3C6.2,5.9 6.6,7.5 5.8,8.2C5,8.9 3.7,8.4 2.5,7.9C1.3,7.45 -1.3,7.45 -2.5,7.9C-3.7,8.4 -5,8.9 -5.8,8.2C-6.6,7.5 -6.2,5.9 -5.3,4.3C-4.1,2.2 -2.4,0 0,0Z"/></g><g><ellipse cx="-3.05" cy="-5.45" rx="2.25" ry="3.07" transform="rotate(-8 -3.05 -5.45)"/><ellipse cx="3.05" cy="-5.45" rx="2.25" ry="3.07" transform="rotate(8 3.05 -5.45)"/><ellipse cx="-6.65" cy="-0.45" rx="2.25" ry="3.05" transform="rotate(-28 -6.65 -0.45)"/><ellipse cx="6.65" cy="-0.45" rx="2.25" ry="3.05" transform="rotate(28 6.65 -0.45)"/><path d="M0,0C2.4,0 4.1,2.2 5.3,4.3C6.2,5.9 6.6,7.5 5.8,8.2C5,8.9 3.7,8.4 2.5,7.9C1.3,7.45 -1.3,7.45 -2.5,7.9C-3.7,8.4 -5,8.9 -5.8,8.2C-6.6,7.5 -6.2,5.9 -5.3,4.3C-4.1,2.2 -2.4,0 0,0Z"/></g></svg>
<svg class="p" style="left:208.70px;top:240.00px" width="26" height="24" viewBox="-13 -12 26 24"><g class="w"><ellipse cx="0" cy="-1.5" rx="5.5" ry="3.6"/><ellipse cx="-3.05" cy="-5.45" rx="2.25" ry="3.07" transform="rotate(-8 -3.05 -5.45)"/><ellipse cx="3.05" cy="-5.45" rx="2.25" ry="3.07" transform="rotate(8 3.05 -5.45)"/><ellipse cx="-6.65" cy="-0.45" rx="2.25" ry="3.05" transform="rotate(-28 -6.65 -0.45)"/><ellipse cx="6.65" cy="-0.45" rx="2.25" ry="3.05" transform="rotate(28 6.65 -0.45)"/><path d="M0,0C2.4,0 4.1,2.2 5.3,4.3C6.2,5.9 6.6,7.5 5.8,8.2C5,8.9 3.7,8.4 2.5,7.9C1.3,7.45 -1.3,7.45 -2.5,7.9C-3.7,8.4 -5,8.9 -5.8,8.2C-6.6,7.5 -6.2,5.9 -5.3,4.3C-4.1,2.2 -2.4,0 0,0Z"/></g><g><ellipse cx="-3.05" cy="-5.45" rx="2.25" ry="3.07" transform="rotate(-8 -3.05 -5.45)"/><ellipse cx="3.05" cy="-5.45" rx="2.25" ry="3.07" transform="rotate(8 3.05 -5.45)"/><ellipse cx="-6.65" cy="-0.45" rx="2.25" ry="3.05" transform="rotate(-28 -6.65 -0.45)"/><ellipse cx="6.65" cy="-0.45" rx="2.25" ry="3.05" transform="rotate(28 6.65 -0.45)"/><path d="M0,0C2.4,0 4.1,2.2 5.3,4.3C6.2,5.9 6.6,7.5 5.8,8.2C5,8.9 3.7,8.4 2.5,7.9C1.3,7.45 -1.3,7.45 -2.5,7.9C-3.7,8.4 -5,8.9 -5.8,8.2C-6.6,7.5 -6.2,5.9 -5.3,4.3C-4.1,2.2 -2.4,0 0,0Z"/></g></svg>
<svg class="p" style="left:286.70px;top:240.90px" width="26" height="24" viewBox="-13 -12 26 24"><g class="w"><ellipse cx="0" cy="-1.5" rx="5.5" ry="3.6"/><ellipse cx="-3.05" cy="-5.45" rx="2.25" ry="3.07" transform="rotate(-8 -3.05 -5.45)"/><ellipse cx="3.05" cy="-5.45" rx="2.25" ry="3.07" transform="rotate(8 3.05 -5.45)"/><ellipse cx="-6.65" cy="-0.45" rx="2.25" ry="3.05" transform="rotate(-28 -6.65 -0.45)"/><ellipse cx="6.65" cy="-0.45" rx="2.25" ry="3.05" transform="rotate(28 6.65 -0.45)"/><path d="M0,0C2.4,0 4.1,2.2 5.3,4.3C6.2,5.9 6.6,7.5 5.8,8.2C5,8.9 3.7,8.4 2.5,7.9C1.3,7.45 -1.3,7.45 -2.5,7.9C-3.7,8.4 -5,8.9 -5.8,8.2C-6.6,7.5 -6.2,5.9 -5.3,4.3C-4.1,2.2 -2.4,0 0,0Z"/></g><g><ellipse cx="-3.05" cy="-5.45" rx="2.25" ry="3.07" transform="rotate(-8 -3.05 -5.45)"/><ellipse cx="3.05" cy="-5.45" rx="2.25" ry="3.07" transform="rotate(8 3.05 -5.45)"/><ellipse cx="-6.65" cy="-0.45" rx="2.25" ry="3.05" transform="rotate(-28 -6.65 -0.45)"/><ellipse cx="6.65" cy="-0.45" rx="2.25" ry="3.05" transform="rotate(28 6.65 -0.45)"/><path d="M0,0C2.4,0 4.1,2.2 5.3,4.3C6.2,5.9 6.6,7.5 5.8,8.2C5,8.9 3.7,8.4 2.5,7.9C1.3,7.45 -1.3,7.45 -2.5,7.9C-3.7,8.4 -5,8.9 -5.8,8.2C-6.6,7.5 -6.2,5.9 -5.3,4.3C-4.1,2.2 -2.4,0 0,0Z"/></g></svg>
<svg class="p" style="left:361.85px;top:239.60px" width="26" height="24" viewBox="-13 -12 26 24"><g class="w"><ellipse cx="0" cy="-1.5" rx="5.5" ry="3.6"/><ellipse cx="-3.05" cy="-5.45" rx="2.25" ry="3.07" transform="rotate(-8 -3.05 -5.45)"/><ellipse cx="3.05" cy="-5.45" rx="2.25" ry="3.07" transform="rotate(8 3.05 -5.45)"/><ellipse cx="-6.65" cy="-0.45" rx="2.25" ry="3.05" transform="rotate(-28 -6.65 -0.45)"/><ellipse cx="6.65" cy="-0.45" rx="2.25" ry="3.05" transform="rotate(28 6.65 -0.45)"/><path d="M0,0C2.4,0 4.1,2.2 5.3,4.3C6.2,5.9 6.6,7.5 5.8,8.2C5,8.9 3.7,8.4 2.5,7.9C1.3,7.45 -1.3,7.45 -2.5,7.9C-3.7,8.4 -5,8.9 -5.8,8.2C-6.6,7.5 -6.2,5.9 -5.3,4.3C-4.1,2.2 -2.4,0 0,0Z"/></g><g><ellipse cx="-3.05" cy="-5.45" rx="2.25" ry="3.07" transform="rotate(-8 -3.05 -5.45)"/><ellipse cx="3.05" cy="-5.45" rx="2.25" ry="3.07" transform="rotate(8 3.05 -5.45)"/><ellipse cx="-6.65" cy="-0.45" rx="2.25" ry="3.05" transform="rotate(-28 -6.65 -0.45)"/><ellipse cx="6.65" cy="-0.45" rx="2.25" ry="3.05" transform="rotate(28 6.65 -0.45)"/><path d="M0,0C2.4,0 4.1,2.2 5.3,4.3C6.2,5.9 6.6,7.5 5.8,8.2C5,8.9 3.7,8.4 2.5,7.9C1.3,7.45 -1.3,7.45 -2.5,7.9C-3.7,8.4 -5,8.9 -5.8,8.2C-6.6,7.5 -6.2,5.9 -5.3,4.3C-4.1,2.2 -2.4,0 0,0Z"/></g></svg>
<svg class="p" style="left:516.10px;top:240.20px" width="26" height="24" viewBox="-13 -12 26 24"><g class="w"><ellipse cx="0" cy="-1.5" rx="5.5" ry="3.6"/><ellipse cx="-3.05" cy="-5.45" rx="2.25" ry="3.07" transform="rotate(-8 -3.05 -5.45)"/><ellipse cx="3.05" cy="-5.45" rx="2.25" ry="3.07" transform="rotate(8 3.05 -5.45)"/><ellipse cx="-6.65" cy="-0.45" rx="2.25" ry="3.05" transform="rotate(-28 -6.65 -0.45)"/><ellipse cx="6.65" cy="-0.45" rx="2.25" ry="3.05" transform="rotate(28 6.65 -0.45)"/><path d="M0,0C2.4,0 4.1,2.2 5.3,4.3C6.2,5.9 6.6,7.5 5.8,8.2C5,8.9 3.7,8.4 2.5,7.9C1.3,7.45 -1.3,7.45 -2.5,7.9C-3.7,8.4 -5,8.9 -5.8,8.2C-6.6,7.5 -6.2,5.9 -5.3,4.3C-4.1,2.2 -2.4,0 0,0Z"/></g><g><ellipse cx="-3.05" cy="-5.45" rx="2.25" ry="3.07" transform="rotate(-8 -3.05 -5.45)"/><ellipse cx="3.05" cy="-5.45" rx="2.25" ry="3.07" transform="rotate(8 3.05 -5.45)"/><ellipse cx="-6.65" cy="-0.45" rx="2.25" ry="3.05" transform="rotate(-28 -6.65 -0.45)"/><ellipse cx="6.65" cy="-0.45" rx="2.25" ry="3.05" transform="rotate(28 6.65 -0.45)"/><path d="M0,0C2.4,0 4.1,2.2 5.3,4.3C6.2,5.9 6.6,7.5 5.8,8.2C5,8.9 3.7,8.4 2.5,7.9C1.3,7.45 -1.3,7.45 -2.5,7.9C-3.7,8.4 -5,8.9 -5.8,8.2C-6.6,7.5 -6.2,5.9 -5.3,4.3C-4.1,2.2 -2.4,0 0,0Z"/></g></svg>
<svg class="p" style="left:618.50px;top:241.25px" width="26" height="24" viewBox="-13 -12 26 24"><g class="w"><ellipse cx="0" cy="-1.5" rx="5.5" ry="3.6"/><ellipse cx="-3.05" cy="-5.45" rx="2.25" ry="3.07" transform="rotate(-8 -3.05 -5.45)"/><ellipse cx="3.05" cy="-5.45" rx="2.25" ry="3.07" transform="rotate(8 3.05 -5.45)"/><ellipse cx="-6.65" cy="-0.45" rx="2.25" ry="3.05" transform="rotate(-28 -6.65 -0.45)"/><ellipse cx="6.65" cy="-0.45" rx="2.25" ry="3.05" transform="rotate(28 6.65 -0.45)"/><path d="M0,0C2.4,0 4.1,2.2 5.3,4.3C6.2,5.9 6.6,7.5 5.8,8.2C5,8.9 3.7,8.4 2.5,7.9C1.3,7.45 -1.3,7.45 -2.5,7.9C-3.7,8.4 -5,8.9 -5.8,8.2C-6.6,7.5 -6.2,5.9 -5.3,4.3C-4.1,2.2 -2.4,0 0,0Z"/></g><g><ellipse cx="-3.05" cy="-5.45" rx="2.25" ry="3.07" transform="rotate(-8 -3.05 -5.45)"/><ellipse cx="3.05" cy="-5.45" rx="2.25" ry="3.07" transform="rotate(8 3.05 -5.45)"/><ellipse cx="-6.65" cy="-0.45" rx="2.25" ry="3.05" transform="rotate(-28 -6.65 -0.45)"/><ellipse cx="6.65" cy="-0.45" rx="2.25" ry="3.05" transform="rotate(28 6.65 -0.45)"/><path d="M0,0C2.4,0 4.1,2.2 5.3,4.3C6.2,5.9 6.6,7.5 5.8,8.2C5,8.9 3.7,8.4 2.5,7.9C1.3,7.45 -1.3,7.45 -2.5,7.9C-3.7,8.4 -5,8.9 -5.8,8.2C-6.6,7.5 -6.2,5.9 -5.3,4.3C-4.1,2.2 -2.4,0 0,0Z"/></g></svg>
<svg class="p" style="left:1075.50px;top:241.10px" width="26" height="24" viewBox="-13 -12 26 24"><g class="w"><ellipse cx="0" cy="-1.5" rx="5.5" ry="3.6"/><ellipse cx="-3.05" cy="-5.45" rx="2.25" ry="3.07" transform="rotate(-8 -3.05 -5.45)"/><ellipse cx="3.05" cy="-5.45" rx="2.25" ry="3.07" transform="rotate(8 3.05 -5.45)"/><ellipse cx="-6.65" cy="-0.45" rx="2.25" ry="3.05" transform="rotate(-28 -6.65 -0.45)"/><ellipse cx="6.65" cy="-0.45" rx="2.25" ry="3.05" transform="rotate(28 6.65 -0.45)"/><path d="M0,0C2.4,0 4.1,2.2 5.3,4.3C6.2,5.9 6.6,7.5 5.8,8.2C5,8.9 3.7,8.4 2.5,7.9C1.3,7.45 -1.3,7.45 -2.5,7.9C-3.7,8.4 -5,8.9 -5.8,8.2C-6.6,7.5 -6.2,5.9 -5.3,4.3C-4.1,2.2 -2.4,0 0,0Z"/></g><g><ellipse cx="-3.05" cy="-5.45" rx="2.25" ry="3.07" transform="rotate(-8 -3.05 -5.45)"/><ellipse cx="3.05" cy="-5.45" rx="2.25" ry="3.07" transform="rotate(8 3.05 -5.45)"/><ellipse cx="-6.65" cy="-0.45" rx="2.25" ry="3.05" transform="rotate(-28 -6.65 -0.45)"/><ellipse cx="6.65" cy="-0.45" rx="2.25" ry="3.05" transform="rotate(28 6.65 -0.45)"/><path d="M0,0C2.4,0 4.1,2.2 5.3,4.3C6.2,5.9 6.6,7.5 5.8,8.2C5,8.9 3.7,8.4 2.5,7.9C1.3,7.45 -1.3,7.45 -2.5,7.9C-3.7,8.4 -5,8.9 -5.8,8.2C-6.6,7.5 -6.2,5.9 -5.3,4.3C-4.1,2.2 -2.4,0 0,0Z"/></g></svg>
<svg class="p" style="left:286.70px;top:266.10px" width="26" height="24" viewBox="-13 -12 26 24"><g class="w"><ellipse cx="0" cy="-1.5" rx="5.5" ry="3.6"/><ellipse cx="-3.05" cy="-5.45" rx="2.25" ry="3.07" transform="rotate(-8 -3.05 -5.45)"/><ellipse cx="3.05" cy="-5.45" rx="2.25" ry="3.07" transform="rotate(8 3.05 -5.45)"/><ellipse cx="-6.65" cy="-0.45" rx="2.25" ry="3.05" transform="rotate(-28 -6.65 -0.45)"/><ellipse cx="6.65" cy="-0.45" rx="2.25" ry="3.05" transform="rotate(28 6.65 -0.45)"/><path d="M0,0C2.4,0 4.1,2.2 5.3,4.3C6.2,5.9 6.6,7.5 5.8,8.2C5,8.9 3.7,8.4 2.5,7.9C1.3,7.45 -1.3,7.45 -2.5,7.9C-3.7,8.4 -5,8.9 -5.8,8.2C-6.6,7.5 -6.2,5.9 -5.3,4.3C-4.1,2.2 -2.4,0 0,0Z"/></g><g><ellipse cx="-3.05" cy="-5.45" rx="2.25" ry="3.07" transform="rotate(-8 -3.05 -5.45)"/><ellipse cx="3.05" cy="-5.45" rx="2.25" ry="3.07" transform="rotate(8 3.05 -5.45)"/><ellipse cx="-6.65" cy="-0.45" rx="2.25" ry="3.05" transform="rotate(-28 -6.65 -0.45)"/><ellipse cx="6.65" cy="-0.45" rx="2.25" ry="3.05" transform="rotate(28 6.65 -0.45)"/><path d="M0,0C2.4,0 4.1,2.2 5.3,4.3C6.2,5.9 6.6,7.5 5.8,8.2C5,8.9 3.7,8.4 2.5,7.9C1.3,7.45 -1.3,7.45 -2.5,7.9C-3.7,8.4 -5,8.9 -5.8,8.2C-6.6,7.5 -6.2,5.9 -5.3,4.3C-4.1,2.2 -2.4,0 0,0Z"/></g></svg>
<svg class="p" style="left:439.00px;top:265.60px" width="26" height="24" viewBox="-13 -12 26 24"><g class="w"><ellipse cx="0" cy="-1.5" rx="5.5" ry="3.6"/><ellipse cx="-3.05" cy="-5.45" rx="2.25" ry="3.07" transform="rotate(-8 -3.05 -5.45)"/><ellipse cx="3.05" cy="-5.45" rx="2.25" ry="3.07" transform="rotate(8 3.05 -5.45)"/><ellipse cx="-6.65" cy="-0.45" rx="2.25" ry="3.05" transform="rotate(-28 -6.65 -0.45)"/><ellipse cx="6.65" cy="-0.45" rx="2.25" ry="3.05" transform="rotate(28 6.65 -0.45)"/><path d="M0,0C2.4,0 4.1,2.2 5.3,4.3C6.2,5.9 6.6,7.5 5.8,8.2C5,8.9 3.7,8.4 2.5,7.9C1.3,7.45 -1.3,7.45 -2.5,7.9C-3.7,8.4 -5,8.9 -5.8,8.2C-6.6,7.5 -6.2,5.9 -5.3,4.3C-4.1,2.2 -2.4,0 0,0Z"/></g><g><ellipse cx="-3.05" cy="-5.45" rx="2.25" ry="3.07" transform="rotate(-8 -3.05 -5.45)"/><ellipse cx="3.05" cy="-5.45" rx="2.25" ry="3.07" transform="rotate(8 3.05 -5.45)"/><ellipse cx="-6.65" cy="-0.45" rx="2.25" ry="3.05" transform="rotate(-28 -6.65 -0.45)"/><ellipse cx="6.65" cy="-0.45" rx="2.25" ry="3.05" transform="rotate(28 6.65 -0.45)"/><path d="M0,0C2.4,0 4.1,2.2 5.3,4.3C6.2,5.9 6.6,7.5 5.8,8.2C5,8.9 3.7,8.4 2.5,7.9C1.3,7.45 -1.3,7.45 -2.5,7.9C-3.7,8.4 -5,8.9 -5.8,8.2C-6.6,7.5 -6.2,5.9 -5.3,4.3C-4.1,2.2 -2.4,0 0,0Z"/></g></svg>
<svg class="p" style="left:514.20px;top:265.20px" width="26" height="24" viewBox="-13 -12 26 24"><g class="w"><ellipse cx="0" cy="-1.5" rx="5.5" ry="3.6"/><ellipse cx="-3.05" cy="-5.45" rx="2.25" ry="3.07" transform="rotate(-8 -3.05 -5.45)"/><ellipse cx="3.05" cy="-5.45" rx="2.25" ry="3.07" transform="rotate(8 3.05 -5.45)"/><ellipse cx="-6.65" cy="-0.45" rx="2.25" ry="3.05" transform="rotate(-28 -6.65 -0.45)"/><ellipse cx="6.65" cy="-0.45" rx="2.25" ry="3.05" transform="rotate(28 6.65 -0.45)"/><path d="M0,0C2.4,0 4.1,2.2 5.3,4.3C6.2,5.9 6.6,7.5 5.8,8.2C5,8.9 3.7,8.4 2.5,7.9C1.3,7.45 -1.3,7.45 -2.5,7.9C-3.7,8.4 -5,8.9 -5.8,8.2C-6.6,7.5 -6.2,5.9 -5.3,4.3C-4.1,2.2 -2.4,0 0,0Z"/></g><g><ellipse cx="-3.05" cy="-5.45" rx="2.25" ry="3.07" transform="rotate(-8 -3.05 -5.45)"/><ellipse cx="3.05" cy="-5.45" rx="2.25" ry="3.07" transform="rotate(8 3.05 -5.45)"/><ellipse cx="-6.65" cy="-0.45" rx="2.25" ry="3.05" transform="rotate(-28 -6.65 -0.45)"/><ellipse cx="6.65" cy="-0.45" rx="2.25" ry="3.05" transform="rotate(28 6.65 -0.45)"/><path d="M0,0C2.4,0 4.1,2.2 5.3,4.3C6.2,5.9 6.6,7.5 5.8,8.2C5,8.9 3.7,8.4 2.5,7.9C1.3,7.45 -1.3,7.45 -2.5,7.9C-3.7,8.4 -5,8.9 -5.8,8.2C-6.6,7.5 -6.2,5.9 -5.3,4.3C-4.1,2.2 -2.4,0 0,0Z"/></g></svg>
<svg class="p" style="left:618.10px;top:265.60px" width="26" height="24" viewBox="-13 -12 26 24"><g class="w"><ellipse cx="0" cy="-1.5" rx="5.5" ry="3.6"/><ellipse cx="-3.05" cy="-5.45" rx="2.25" ry="3.07" transform="rotate(-8 -3.05 -5.45)"/><ellipse cx="3.05" cy="-5.45" rx="2.25" ry="3.07" transform="rotate(8 3.05 -5.45)"/><ellipse cx="-6.65" cy="-0.45" rx="2.25" ry="3.05" transform="rotate(-28 -6.65 -0.45)"/><ellipse cx="6.65" cy="-0.45" rx="2.25" ry="3.05" transform="rotate(28 6.65 -0.45)"/><path d="M0,0C2.4,0 4.1,2.2 5.3,4.3C6.2,5.9 6.6,7.5 5.8,8.2C5,8.9 3.7,8.4 2.5,7.9C1.3,7.45 -1.3,7.45 -2.5,7.9C-3.7,8.4 -5,8.9 -5.8,8.2C-6.6,7.5 -6.2,5.9 -5.3,4.3C-4.1,2.2 -2.4,0 0,0Z"/></g><g><ellipse cx="-3.05" cy="-5.45" rx="2.25" ry="3.07" transform="rotate(-8 -3.05 -5.45)"/><ellipse cx="3.05" cy="-5.45" rx="2.25" ry="3.07" transform="rotate(8 3.05 -5.45)"/><ellipse cx="-6.65" cy="-0.45" rx="2.25" ry="3.05" transform="rotate(-28 -6.65 -0.45)"/><ellipse cx="6.65" cy="-0.45" rx="2.25" ry="3.05" transform="rotate(28 6.65 -0.45)"/><path d="M0,0C2.4,0 4.1,2.2 5.3,4.3C6.2,5.9 6.6,7.5 5.8,8.2C5,8.9 3.7,8.4 2.5,7.9C1.3,7.45 -1.3,7.45 -2.5,7.9C-3.7,8.4 -5,8.9 -5.8,8.2C-6.6,7.5 -6.2,5.9 -5.3,4.3C-4.1,2.2 -2.4,0 0,0Z"/></g></svg>
<svg class="p" style="left:694.60px;top:265.90px" width="26" height="24" viewBox="-13 -12 26 24"><g class="w"><ellipse cx="0" cy="-1.5" rx="5.5" ry="3.6"/><ellipse cx="-3.05" cy="-5.45" rx="2.25" ry="3.07" transform="rotate(-8 -3.05 -5.45)"/><ellipse cx="3.05" cy="-5.45" rx="2.25" ry="3.07" transform="rotate(8 3.05 -5.45)"/><ellipse cx="-6.65" cy="-0.45" rx="2.25" ry="3.05" transform="rotate(-28 -6.65 -0.45)"/><ellipse cx="6.65" cy="-0.45" rx="2.25" ry="3.05" transform="rotate(28 6.65 -0.45)"/><path d="M0,0C2.4,0 4.1,2.2 5.3,4.3C6.2,5.9 6.6,7.5 5.8,8.2C5,8.9 3.7,8.4 2.5,7.9C1.3,7.45 -1.3,7.45 -2.5,7.9C-3.7,8.4 -5,8.9 -5.8,8.2C-6.6,7.5 -6.2,5.9 -5.3,4.3C-4.1,2.2 -2.4,0 0,0Z"/></g><g><ellipse cx="-3.05" cy="-5.45" rx="2.25" ry="3.07" transform="rotate(-8 -3.05 -5.45)"/><ellipse cx="3.05" cy="-5.45" rx="2.25" ry="3.07" transform="rotate(8 3.05 -5.45)"/><ellipse cx="-6.65" cy="-0.45" rx="2.25" ry="3.05" transform="rotate(-28 -6.65 -0.45)"/><ellipse cx="6.65" cy="-0.45" rx="2.25" ry="3.05" transform="rotate(28 6.65 -0.45)"/><path d="M0,0C2.4,0 4.1,2.2 5.3,4.3C6.2,5.9 6.6,7.5 5.8,8.2C5,8.9 3.7,8.4 2.5,7.9C1.3,7.45 -1.3,7.45 -2.5,7.9C-3.7,8.4 -5,8.9 -5.8,8.2C-6.6,7.5 -6.2,5.9 -5.3,4.3C-4.1,2.2 -2.4,0 0,0Z"/></g></svg>
<svg class="p" style="left:769.70px;top:265.90px" width="26" height="24" viewBox="-13 -12 26 24"><g class="w"><ellipse cx="0" cy="-1.5" rx="5.5" ry="3.6"/><ellipse cx="-3.05" cy="-5.45" rx="2.25" ry="3.07" transform="rotate(-8 -3.05 -5.45)"/><ellipse cx="3.05" cy="-5.45" rx="2.25" ry="3.07" transform="rotate(8 3.05 -5.45)"/><ellipse cx="-6.65" cy="-0.45" rx="2.25" ry="3.05" transform="rotate(-28 -6.65 -0.45)"/><ellipse cx="6.65" cy="-0.45" rx="2.25" ry="3.05" transform="rotate(28 6.65 -0.45)"/><path d="M0,0C2.4,0 4.1,2.2 5.3,4.3C6.2,5.9 6.6,7.5 5.8,8.2C5,8.9 3.7,8.4 2.5,7.9C1.3,7.45 -1.3,7.45 -2.5,7.9C-3.7,8.4 -5,8.9 -5.8,8.2C-6.6,7.5 -6.2,5.9 -5.3,4.3C-4.1,2.2 -2.4,0 0,0Z"/></g><g><ellipse cx="-3.05" cy="-5.45" rx="2.25" ry="3.07" transform="rotate(-8 -3.05 -5.45)"/><ellipse cx="3.05" cy="-5.45" rx="2.25" ry="3.07" transform="rotate(8 3.05 -5.45)"/><ellipse cx="-6.65" cy="-0.45" rx="2.25" ry="3.05" transform="rotate(-28 -6.65 -0.45)"/><ellipse cx="6.65" cy="-0.45" rx="2.25" ry="3.05" transform="rotate(28 6.65 -0.45)"/><path d="M0,0C2.4,0 4.1,2.2 5.3,4.3C6.2,5.9 6.6,7.5 5.8,8.2C5,8.9 3.7,8.4 2.5,7.9C1.3,7.45 -1.3,7.45 -2.5,7.9C-3.7,8.4 -5,8.9 -5.8,8.2C-6.6,7.5 -6.2,5.9 -5.3,4.3C-4.1,2.2 -2.4,0 0,0Z"/></g></svg>
<svg class="p" style="left:847.70px;top:265.60px" width="26" height="24" viewBox="-13 -12 26 24"><g class="w"><ellipse cx="0" cy="-1.5" rx="5.5" ry="3.6"/><ellipse cx="-3.05" cy="-5.45" rx="2.25" ry="3.07" transform="rotate(-8 -3.05 -5.45)"/><ellipse cx="3.05" cy="-5.45" rx="2.25" ry="3.07" transform="rotate(8 3.05 -5.45)"/><ellipse cx="-6.65" cy="-0.45" rx="2.25" ry="3.05" transform="rotate(-28 -6.65 -0.45)"/><ellipse cx="6.65" cy="-0.45" rx="2.25" ry="3.05" transform="rotate(28 6.65 -0.45)"/><path d="M0,0C2.4,0 4.1,2.2 5.3,4.3C6.2,5.9 6.6,7.5 5.8,8.2C5,8.9 3.7,8.4 2.5,7.9C1.3,7.45 -1.3,7.45 -2.5,7.9C-3.7,8.4 -5,8.9 -5.8,8.2C-6.6,7.5 -6.2,5.9 -5.3,4.3C-4.1,2.2 -2.4,0 0,0Z"/></g><g><ellipse cx="-3.05" cy="-5.45" rx="2.25" ry="3.07" transform="rotate(-8 -3.05 -5.45)"/><ellipse cx="3.05" cy="-5.45" rx="2.25" ry="3.07" transform="rotate(8 3.05 -5.45)"/><ellipse cx="-6.65" cy="-0.45" rx="2.25" ry="3.05" transform="rotate(-28 -6.65 -0.45)"/><ellipse cx="6.65" cy="-0.45" rx="2.25" ry="3.05" transform="rotate(28 6.65 -0.45)"/><path d="M0,0C2.4,0 4.1,2.2 5.3,4.3C6.2,5.9 6.6,7.5 5.8,8.2C5,8.9 3.7,8.4 2.5,7.9C1.3,7.45 -1.3,7.45 -2.5,7.9C-3.7,8.4 -5,8.9 -5.8,8.2C-6.6,7.5 -6.2,5.9 -5.3,4.3C-4.1,2.2 -2.4,0 0,0Z"/></g></svg>
<svg class="p" style="left:998.40px;top:266.00px" width="26" height="24" viewBox="-13 -12 26 24"><g class="w"><ellipse cx="0" cy="-1.5" rx="5.5" ry="3.6"/><ellipse cx="-3.05" cy="-5.45" rx="2.25" ry="3.07" transform="rotate(-8 -3.05 -5.45)"/><ellipse cx="3.05" cy="-5.45" rx="2.25" ry="3.07" transform="rotate(8 3.05 -5.45)"/><ellipse cx="-6.65" cy="-0.45" rx="2.25" ry="3.05" transform="rotate(-28 -6.65 -0.45)"/><ellipse cx="6.65" cy="-0.45" rx="2.25" ry="3.05" transform="rotate(28 6.65 -0.45)"/><path d="M0,0C2.4,0 4.1,2.2 5.3,4.3C6.2,5.9 6.6,7.5 5.8,8.2C5,8.9 3.7,8.4 2.5,7.9C1.3,7.45 -1.3,7.45 -2.5,7.9C-3.7,8.4 -5,8.9 -5.8,8.2C-6.6,7.5 -6.2,5.9 -5.3,4.3C-4.1,2.2 -2.4,0 0,0Z"/></g><g><ellipse cx="-3.05" cy="-5.45" rx="2.25" ry="3.07" transform="rotate(-8 -3.05 -5.45)"/><ellipse cx="3.05" cy="-5.45" rx="2.25" ry="3.07" transform="rotate(8 3.05 -5.45)"/><ellipse cx="-6.65" cy="-0.45" rx="2.25" ry="3.05" transform="rotate(-28 -6.65 -0.45)"/><ellipse cx="6.65" cy="-0.45" rx="2.25" ry="3.05" transform="rotate(28 6.65 -0.45)"/><path d="M0,0C2.4,0 4.1,2.2 5.3,4.3C6.2,5.9 6.6,7.5 5.8,8.2C5,8.9 3.7,8.4 2.5,7.9C1.3,7.45 -1.3,7.45 -2.5,7.9C-3.7,8.4 -5,8.9 -5.8,8.2C-6.6,7.5 -6.2,5.9 -5.3,4.3C-4.1,2.2 -2.4,0 0,0Z"/></g></svg>
<svg class="p" style="left:1075.50px;top:266.00px" width="26" height="24" viewBox="-13 -12 26 24"><g class="w"><ellipse cx="0" cy="-1.5" rx="5.5" ry="3.6"/><ellipse cx="-3.05" cy="-5.45" rx="2.25" ry="3.07" transform="rotate(-8 -3.05 -5.45)"/><ellipse cx="3.05" cy="-5.45" rx="2.25" ry="3.07" transform="rotate(8 3.05 -5.45)"/><ellipse cx="-6.65" cy="-0.45" rx="2.25" ry="3.05" transform="rotate(-28 -6.65 -0.45)"/><ellipse cx="6.65" cy="-0.45" rx="2.25" ry="3.05" transform="rotate(28 6.65 -0.45)"/><path d="M0,0C2.4,0 4.1,2.2 5.3,4.3C6.2,5.9 6.6,7.5 5.8,8.2C5,8.9 3.7,8.4 2.5,7.9C1.3,7.45 -1.3,7.45 -2.5,7.9C-3.7,8.4 -5,8.9 -5.8,8.2C-6.6,7.5 -6.2,5.9 -5.3,4.3C-4.1,2.2 -2.4,0 0,0Z"/></g><g><ellipse cx="-3.05" cy="-5.45" rx="2.25" ry="3.07" transform="rotate(-8 -3.05 -5.45)"/><ellipse cx="3.05" cy="-5.45" rx="2.25" ry="3.07" transform="rotate(8 3.05 -5.45)"/><ellipse cx="-6.65" cy="-0.45" rx="2.25" ry="3.05" transform="rotate(-28 -6.65 -0.45)"/><ellipse cx="6.65" cy="-0.45" rx="2.25" ry="3.05" transform="rotate(28 6.65 -0.45)"/><path d="M0,0C2.4,0 4.1,2.2 5.3,4.3C6.2,5.9 6.6,7.5 5.8,8.2C5,8.9 3.7,8.4 2.5,7.9C1.3,7.45 -1.3,7.45 -2.5,7.9C-3.7,8.4 -5,8.9 -5.8,8.2C-6.6,7.5 -6.2,5.9 -5.3,4.3C-4.1,2.2 -2.4,0 0,0Z"/></g></svg>
<svg class="p" style="left:286.70px;top:290.50px" width="26" height="24" viewBox="-13 -12 26 24"><g class="w"><ellipse cx="0" cy="-1.5" rx="5.5" ry="3.6"/><ellipse cx="-3.05" cy="-5.45" rx="2.25" ry="3.07" transform="rotate(-8 -3.05 -5.45)"/><ellipse cx="3.05" cy="-5.45" rx="2.25" ry="3.07" transform="rotate(8 3.05 -5.45)"/><ellipse cx="-6.65" cy="-0.45" rx="2.25" ry="3.05" transform="rotate(-28 -6.65 -0.45)"/><ellipse cx="6.65" cy="-0.45" rx="2.25" ry="3.05" transform="rotate(28 6.65 -0.45)"/><path d="M0,0C2.4,0 4.1,2.2 5.3,4.3C6.2,5.9 6.6,7.5 5.8,8.2C5,8.9 3.7,8.4 2.5,7.9C1.3,7.45 -1.3,7.45 -2.5,7.9C-3.7,8.4 -5,8.9 -5.8,8.2C-6.6,7.5 -6.2,5.9 -5.3,4.3C-4.1,2.2 -2.4,0 0,0Z"/></g><g><ellipse cx="-3.05" cy="-5.45" rx="2.25" ry="3.07" transform="rotate(-8 -3.05 -5.45)"/><ellipse cx="3.05" cy="-5.45" rx="2.25" ry="3.07" transform="rotate(8 3.05 -5.45)"/><ellipse cx="-6.65" cy="-0.45" rx="2.25" ry="3.05" transform="rotate(-28 -6.65 -0.45)"/><ellipse cx="6.65" cy="-0.45" rx="2.25" ry="3.05" transform="rotate(28 6.65 -0.45)"/><path d="M0,0C2.4,0 4.1,2.2 5.3,4.3C6.2,5.9 6.6,7.5 5.8,8.2C5,8.9 3.7,8.4 2.5,7.9C1.3,7.45 -1.3,7.45 -2.5,7.9C-3.7,8.4 -5,8.9 -5.8,8.2C-6.6,7.5 -6.2,5.9 -5.3,4.3C-4.1,2.2 -2.4,0 0,0Z"/></g></svg>
<svg class="p" style="left:514.20px;top:292.70px" width="26" height="24" viewBox="-13 -12 26 24"><g class="w"><ellipse cx="0" cy="-1.5" rx="5.5" ry="3.6"/><ellipse cx="-3.05" cy="-5.45" rx="2.25" ry="3.07" transform="rotate(-8 -3.05 -5.45)"/><ellipse cx="3.05" cy="-5.45" rx="2.25" ry="3.07" transform="rotate(8 3.05 -5.45)"/><ellipse cx="-6.65" cy="-0.45" rx="2.25" ry="3.05" transform="rotate(-28 -6.65 -0.45)"/><ellipse cx="6.65" cy="-0.45" rx="2.25" ry="3.05" transform="rotate(28 6.65 -0.45)"/><path d="M0,0C2.4,0 4.1,2.2 5.3,4.3C6.2,5.9 6.6,7.5 5.8,8.2C5,8.9 3.7,8.4 2.5,7.9C1.3,7.45 -1.3,7.45 -2.5,7.9C-3.7,8.4 -5,8.9 -5.8,8.2C-6.6,7.5 -6.2,5.9 -5.3,4.3C-4.1,2.2 -2.4,0 0,0Z"/></g><g><ellipse cx="-3.05" cy="-5.45" rx="2.25" ry="3.07" transform="rotate(-8 -3.05 -5.45)"/><ellipse cx="3.05" cy="-5.45" rx="2.25" ry="3.07" transform="rotate(8 3.05 -5.45)"/><ellipse cx="-6.65" cy="-0.45" rx="2.25" ry="3.05" transform="rotate(-28 -6.65 -0.45)"/><ellipse cx="6.65" cy="-0.45" rx="2.25" ry="3.05" transform="rotate(28 6.65 -0.45)"/><path d="M0,0C2.4,0 4.1,2.2 5.3,4.3C6.2,5.9 6.6,7.5 5.8,8.2C5,8.9 3.7,8.4 2.5,7.9C1.3,7.45 -1.3,7.45 -2.5,7.9C-3.7,8.4 -5,8.9 -5.8,8.2C-6.6,7.5 -6.2,5.9 -5.3,4.3C-4.1,2.2 -2.4,0 0,0Z"/></g></svg>
<svg class="p" style="left:847.70px;top:291.75px" width="26" height="24" viewBox="-13 -12 26 24"><g class="w"><ellipse cx="0" cy="-1.5" rx="5.5" ry="3.6"/><ellipse cx="-3.05" cy="-5.45" rx="2.25" ry="3.07" transform="rotate(-8 -3.05 -5.45)"/><ellipse cx="3.05" cy="-5.45" rx="2.25" ry="3.07" transform="rotate(8 3.05 -5.45)"/><ellipse cx="-6.65" cy="-0.45" rx="2.25" ry="3.05" transform="rotate(-28 -6.65 -0.45)"/><ellipse cx="6.65" cy="-0.45" rx="2.25" ry="3.05" transform="rotate(28 6.65 -0.45)"/><path d="M0,0C2.4,0 4.1,2.2 5.3,4.3C6.2,5.9 6.6,7.5 5.8,8.2C5,8.9 3.7,8.4 2.5,7.9C1.3,7.45 -1.3,7.45 -2.5,7.9C-3.7,8.4 -5,8.9 -5.8,8.2C-6.6,7.5 -6.2,5.9 -5.3,4.3C-4.1,2.2 -2.4,0 0,0Z"/></g><g><ellipse cx="-3.05" cy="-5.45" rx="2.25" ry="3.07" transform="rotate(-8 -3.05 -5.45)"/><ellipse cx="3.05" cy="-5.45" rx="2.25" ry="3.07" transform="rotate(8 3.05 -5.45)"/><ellipse cx="-6.65" cy="-0.45" rx="2.25" ry="3.05" transform="rotate(-28 -6.65 -0.45)"/><ellipse cx="6.65" cy="-0.45" rx="2.25" ry="3.05" transform="rotate(28 6.65 -0.45)"/><path d="M0,0C2.4,0 4.1,2.2 5.3,4.3C6.2,5.9 6.6,7.5 5.8,8.2C5,8.9 3.7,8.4 2.5,7.9C1.3,7.45 -1.3,7.45 -2.5,7.9C-3.7,8.4 -5,8.9 -5.8,8.2C-6.6,7.5 -6.2,5.9 -5.3,4.3C-4.1,2.2 -2.4,0 0,0Z"/></g></svg>
<svg class="p" style="left:998.40px;top:292.00px" width="26" height="24" viewBox="-13 -12 26 24"><g class="w"><ellipse cx="0" cy="-1.5" rx="5.5" ry="3.6"/><ellipse cx="-3.05" cy="-5.45" rx="2.25" ry="3.07" transform="rotate(-8 -3.05 -5.45)"/><ellipse cx="3.05" cy="-5.45" rx="2.25" ry="3.07" transform="rotate(8 3.05 -5.45)"/><ellipse cx="-6.65" cy="-0.45" rx="2.25" ry="3.05" transform="rotate(-28 -6.65 -0.45)"/><ellipse cx="6.65" cy="-0.45" rx="2.25" ry="3.05" transform="rotate(28 6.65 -0.45)"/><path d="M0,0C2.4,0 4.1,2.2 5.3,4.3C6.2,5.9 6.6,7.5 5.8,8.2C5,8.9 3.7,8.4 2.5,7.9C1.3,7.45 -1.3,7.45 -2.5,7.9C-3.7,8.4 -5,8.9 -5.8,8.2C-6.6,7.5 -6.2,5.9 -5.3,4.3C-4.1,2.2 -2.4,0 0,0Z"/></g><g><ellipse cx="-3.05" cy="-5.45" rx="2.25" ry="3.07" transform="rotate(-8 -3.05 -5.45)"/><ellipse cx="3.05" cy="-5.45" rx="2.25" ry="3.07" transform="rotate(8 3.05 -5.45)"/><ellipse cx="-6.65" cy="-0.45" rx="2.25" ry="3.05" transform="rotate(-28 -6.65 -0.45)"/><ellipse cx="6.65" cy="-0.45" rx="2.25" ry="3.05" transform="rotate(28 6.65 -0.45)"/><path d="M0,0C2.4,0 4.1,2.2 5.3,4.3C6.2,5.9 6.6,7.5 5.8,8.2C5,8.9 3.7,8.4 2.5,7.9C1.3,7.45 -1.3,7.45 -2.5,7.9C-3.7,8.4 -5,8.9 -5.8,8.2C-6.6,7.5 -6.2,5.9 -5.3,4.3C-4.1,2.2 -2.4,0 0,0Z"/></g></svg>
<svg class="p" style="left:1075.50px;top:292.00px" width="26" height="24" viewBox="-13 -12 26 24"><g class="w"><ellipse cx="0" cy="-1.5" rx="5.5" ry="3.6"/><ellipse cx="-3.05" cy="-5.45" rx="2.25" ry="3.07" transform="rotate(-8 -3.05 -5.45)"/><ellipse cx="3.05" cy="-5.45" rx="2.25" ry="3.07" transform="rotate(8 3.05 -5.45)"/><ellipse cx="-6.65" cy="-0.45" rx="2.25" ry="3.05" transform="rotate(-28 -6.65 -0.45)"/><ellipse cx="6.65" cy="-0.45" rx="2.25" ry="3.05" transform="rotate(28 6.65 -0.45)"/><path d="M0,0C2.4,0 4.1,2.2 5.3,4.3C6.2,5.9 6.6,7.5 5.8,8.2C5,8.9 3.7,8.4 2.5,7.9C1.3,7.45 -1.3,7.45 -2.5,7.9C-3.7,8.4 -5,8.9 -5.8,8.2C-6.6,7.5 -6.2,5.9 -5.3,4.3C-4.1,2.2 -2.4,0 0,0Z"/></g><g><ellipse cx="-3.05" cy="-5.45" rx="2.25" ry="3.07" transform="rotate(-8 -3.05 -5.45)"/><ellipse cx="3.05" cy="-5.45" rx="2.25" ry="3.07" transform="rotate(8 3.05 -5.45)"/><ellipse cx="-6.65" cy="-0.45" rx="2.25" ry="3.05" transform="rotate(-28 -6.65 -0.45)"/><ellipse cx="6.65" cy="-0.45" rx="2.25" ry="3.05" transform="rotate(28 6.65 -0.45)"/><path d="M0,0C2.4,0 4.1,2.2 5.3,4.3C6.2,5.9 6.6,7.5 5.8,8.2C5,8.9 3.7,8.4 2.5,7.9C1.3,7.45 -1.3,7.45 -2.5,7.9C-3.7,8.4 -5,8.9 -5.8,8.2C-6.6,7.5 -6.2,5.9 -5.3,4.3C-4.1,2.2 -2.4,0 0,0Z"/></g></svg>
<svg class="p" style="left:208.35px;top:315.50px" width="26" height="24" viewBox="-13 -12 26 24"><g class="w"><ellipse cx="0" cy="-1.5" rx="5.5" ry="3.6"/><ellipse cx="-3.05" cy="-5.45" rx="2.25" ry="3.07" transform="rotate(-8 -3.05 -5.45)"/><ellipse cx="3.05" cy="-5.45" rx="2.25" ry="3.07" transform="rotate(8 3.05 -5.45)"/><ellipse cx="-6.65" cy="-0.45" rx="2.25" ry="3.05" transform="rotate(-28 -6.65 -0.45)"/><ellipse cx="6.65" cy="-0.45" rx="2.25" ry="3.05" transform="rotate(28 6.65 -0.45)"/><path d="M0,0C2.4,0 4.1,2.2 5.3,4.3C6.2,5.9 6.6,7.5 5.8,8.2C5,8.9 3.7,8.4 2.5,7.9C1.3,7.45 -1.3,7.45 -2.5,7.9C-3.7,8.4 -5,8.9 -5.8,8.2C-6.6,7.5 -6.2,5.9 -5.3,4.3C-4.1,2.2 -2.4,0 0,0Z"/></g><g><ellipse cx="-3.05" cy="-5.45" rx="2.25" ry="3.07" transform="rotate(-8 -3.05 -5.45)"/><ellipse cx="3.05" cy="-5.45" rx="2.25" ry="3.07" transform="rotate(8 3.05 -5.45)"/><ellipse cx="-6.65" cy="-0.45" rx="2.25" ry="3.05" transform="rotate(-28 -6.65 -0.45)"/><ellipse cx="6.65" cy="-0.45" rx="2.25" ry="3.05" transform="rotate(28 6.65 -0.45)"/><path d="M0,0C2.4,0 4.1,2.2 5.3,4.3C6.2,5.9 6.6,7.5 5.8,8.2C5,8.9 3.7,8.4 2.5,7.9C1.3,7.45 -1.3,7.45 -2.5,7.9C-3.7,8.4 -5,8.9 -5.8,8.2C-6.6,7.5 -6.2,5.9 -5.3,4.3C-4.1,2.2 -2.4,0 0,0Z"/></g></svg>
<svg class="p" style="left:362.10px;top:315.25px" width="26" height="24" viewBox="-13 -12 26 24"><g class="w"><ellipse cx="0" cy="-1.5" rx="5.5" ry="3.6"/><ellipse cx="-3.05" cy="-5.45" rx="2.25" ry="3.07" transform="rotate(-8 -3.05 -5.45)"/><ellipse cx="3.05" cy="-5.45" rx="2.25" ry="3.07" transform="rotate(8 3.05 -5.45)"/><ellipse cx="-6.65" cy="-0.45" rx="2.25" ry="3.05" transform="rotate(-28 -6.65 -0.45)"/><ellipse cx="6.65" cy="-0.45" rx="2.25" ry="3.05" transform="rotate(28 6.65 -0.45)"/><path d="M0,0C2.4,0 4.1,2.2 5.3,4.3C6.2,5.9 6.6,7.5 5.8,8.2C5,8.9 3.7,8.4 2.5,7.9C1.3,7.45 -1.3,7.45 -2.5,7.9C-3.7,8.4 -5,8.9 -5.8,8.2C-6.6,7.5 -6.2,5.9 -5.3,4.3C-4.1,2.2 -2.4,0 0,0Z"/></g><g><ellipse cx="-3.05" cy="-5.45" rx="2.25" ry="3.07" transform="rotate(-8 -3.05 -5.45)"/><ellipse cx="3.05" cy="-5.45" rx="2.25" ry="3.07" transform="rotate(8 3.05 -5.45)"/><ellipse cx="-6.65" cy="-0.45" rx="2.25" ry="3.05" transform="rotate(-28 -6.65 -0.45)"/><ellipse cx="6.65" cy="-0.45" rx="2.25" ry="3.05" transform="rotate(28 6.65 -0.45)"/><path d="M0,0C2.4,0 4.1,2.2 5.3,4.3C6.2,5.9 6.6,7.5 5.8,8.2C5,8.9 3.7,8.4 2.5,7.9C1.3,7.45 -1.3,7.45 -2.5,7.9C-3.7,8.4 -5,8.9 -5.8,8.2C-6.6,7.5 -6.2,5.9 -5.3,4.3C-4.1,2.2 -2.4,0 0,0Z"/></g></svg>
<svg class="p" style="left:439.00px;top:315.60px" width="26" height="24" viewBox="-13 -12 26 24"><g class="w"><ellipse cx="0" cy="-1.5" rx="5.5" ry="3.6"/><ellipse cx="-3.05" cy="-5.45" rx="2.25" ry="3.07" transform="rotate(-8 -3.05 -5.45)"/><ellipse cx="3.05" cy="-5.45" rx="2.25" ry="3.07" transform="rotate(8 3.05 -5.45)"/><ellipse cx="-6.65" cy="-0.45" rx="2.25" ry="3.05" transform="rotate(-28 -6.65 -0.45)"/><ellipse cx="6.65" cy="-0.45" rx="2.25" ry="3.05" transform="rotate(28 6.65 -0.45)"/><path d="M0,0C2.4,0 4.1,2.2 5.3,4.3C6.2,5.9 6.6,7.5 5.8,8.2C5,8.9 3.7,8.4 2.5,7.9C1.3,7.45 -1.3,7.45 -2.5,7.9C-3.7,8.4 -5,8.9 -5.8,8.2C-6.6,7.5 -6.2,5.9 -5.3,4.3C-4.1,2.2 -2.4,0 0,0Z"/></g><g><ellipse cx="-3.05" cy="-5.45" rx="2.25" ry="3.07" transform="rotate(-8 -3.05 -5.45)"/><ellipse cx="3.05" cy="-5.45" rx="2.25" ry="3.07" transform="rotate(8 3.05 -5.45)"/><ellipse cx="-6.65" cy="-0.45" rx="2.25" ry="3.05" transform="rotate(-28 -6.65 -0.45)"/><ellipse cx="6.65" cy="-0.45" rx="2.25" ry="3.05" transform="rotate(28 6.65 -0.45)"/><path d="M0,0C2.4,0 4.1,2.2 5.3,4.3C6.2,5.9 6.6,7.5 5.8,8.2C5,8.9 3.7,8.4 2.5,7.9C1.3,7.45 -1.3,7.45 -2.5,7.9C-3.7,8.4 -5,8.9 -5.8,8.2C-6.6,7.5 -6.2,5.9 -5.3,4.3C-4.1,2.2 -2.4,0 0,0Z"/></g></svg>
<svg class="p" style="left:515.00px;top:315.90px" width="26" height="24" viewBox="-13 -12 26 24"><g class="w"><ellipse cx="0" cy="-1.5" rx="5.5" ry="3.6"/><ellipse cx="-3.05" cy="-5.45" rx="2.25" ry="3.07" transform="rotate(-8 -3.05 -5.45)"/><ellipse cx="3.05" cy="-5.45" rx="2.25" ry="3.07" transform="rotate(8 3.05 -5.45)"/><ellipse cx="-6.65" cy="-0.45" rx="2.25" ry="3.05" transform="rotate(-28 -6.65 -0.45)"/><ellipse cx="6.65" cy="-0.45" rx="2.25" ry="3.05" transform="rotate(28 6.65 -0.45)"/><path d="M0,0C2.4,0 4.1,2.2 5.3,4.3C6.2,5.9 6.6,7.5 5.8,8.2C5,8.9 3.7,8.4 2.5,7.9C1.3,7.45 -1.3,7.45 -2.5,7.9C-3.7,8.4 -5,8.9 -5.8,8.2C-6.6,7.5 -6.2,5.9 -5.3,4.3C-4.1,2.2 -2.4,0 0,0Z"/></g><g><ellipse cx="-3.05" cy="-5.45" rx="2.25" ry="3.07" transform="rotate(-8 -3.05 -5.45)"/><ellipse cx="3.05" cy="-5.45" rx="2.25" ry="3.07" transform="rotate(8 3.05 -5.45)"/><ellipse cx="-6.65" cy="-0.45" rx="2.25" ry="3.05" transform="rotate(-28 -6.65 -0.45)"/><ellipse cx="6.65" cy="-0.45" rx="2.25" ry="3.05" transform="rotate(28 6.65 -0.45)"/><path d="M0,0C2.4,0 4.1,2.2 5.3,4.3C6.2,5.9 6.6,7.5 5.8,8.2C5,8.9 3.7,8.4 2.5,7.9C1.3,7.45 -1.3,7.45 -2.5,7.9C-3.7,8.4 -5,8.9 -5.8,8.2C-6.6,7.5 -6.2,5.9 -5.3,4.3C-4.1,2.2 -2.4,0 0,0Z"/></g></svg>
<svg class="p" style="left:617.70px;top:315.50px" width="26" height="24" viewBox="-13 -12 26 24"><g class="w"><ellipse cx="0" cy="-1.5" rx="5.5" ry="3.6"/><ellipse cx="-3.05" cy="-5.45" rx="2.25" ry="3.07" transform="rotate(-8 -3.05 -5.45)"/><ellipse cx="3.05" cy="-5.45" rx="2.25" ry="3.07" transform="rotate(8 3.05 -5.45)"/><ellipse cx="-6.65" cy="-0.45" rx="2.25" ry="3.05" transform="rotate(-28 -6.65 -0.45)"/><ellipse cx="6.65" cy="-0.45" rx="2.25" ry="3.05" transform="rotate(28 6.65 -0.45)"/><path d="M0,0C2.4,0 4.1,2.2 5.3,4.3C6.2,5.9 6.6,7.5 5.8,8.2C5,8.9 3.7,8.4 2.5,7.9C1.3,7.45 -1.3,7.45 -2.5,7.9C-3.7,8.4 -5,8.9 -5.8,8.2C-6.6,7.5 -6.2,5.9 -5.3,4.3C-4.1,2.2 -2.4,0 0,0Z"/></g><g><ellipse cx="-3.05" cy="-5.45" rx="2.25" ry="3.07" transform="rotate(-8 -3.05 -5.45)"/><ellipse cx="3.05" cy="-5.45" rx="2.25" ry="3.07" transform="rotate(8 3.05 -5.45)"/><ellipse cx="-6.65" cy="-0.45" rx="2.25" ry="3.05" transform="rotate(-28 -6.65 -0.45)"/><ellipse cx="6.65" cy="-0.45" rx="2.25" ry="3.05" transform="rotate(28 6.65 -0.45)"/><path d="M0,0C2.4,0 4.1,2.2 5.3,4.3C6.2,5.9 6.6,7.5 5.8,8.2C5,8.9 3.7,8.4 2.5,7.9C1.3,7.45 -1.3,7.45 -2.5,7.9C-3.7,8.4 -5,8.9 -5.8,8.2C-6.6,7.5 -6.2,5.9 -5.3,4.3C-4.1,2.2 -2.4,0 0,0Z"/></g></svg>
<svg class="p" style="left:694.60px;top:315.50px" width="26" height="24" viewBox="-13 -12 26 24"><g class="w"><ellipse cx="0" cy="-1.5" rx="5.5" ry="3.6"/><ellipse cx="-3.05" cy="-5.45" rx="2.25" ry="3.07" transform="rotate(-8 -3.05 -5.45)"/><ellipse cx="3.05" cy="-5.45" rx="2.25" ry="3.07" transform="rotate(8 3.05 -5.45)"/><ellipse cx="-6.65" cy="-0.45" rx="2.25" ry="3.05" transform="rotate(-28 -6.65 -0.45)"/><ellipse cx="6.65" cy="-0.45" rx="2.25" ry="3.05" transform="rotate(28 6.65 -0.45)"/><path d="M0,0C2.4,0 4.1,2.2 5.3,4.3C6.2,5.9 6.6,7.5 5.8,8.2C5,8.9 3.7,8.4 2.5,7.9C1.3,7.45 -1.3,7.45 -2.5,7.9C-3.7,8.4 -5,8.9 -5.8,8.2C-6.6,7.5 -6.2,5.9 -5.3,4.3C-4.1,2.2 -2.4,0 0,0Z"/></g><g><ellipse cx="-3.05" cy="-5.45" rx="2.25" ry="3.07" transform="rotate(-8 -3.05 -5.45)"/><ellipse cx="3.05" cy="-5.45" rx="2.25" ry="3.07" transform="rotate(8 3.05 -5.45)"/><ellipse cx="-6.65" cy="-0.45" rx="2.25" ry="3.05" transform="rotate(-28 -6.65 -0.45)"/><ellipse cx="6.65" cy="-0.45" rx="2.25" ry="3.05" transform="rotate(28 6.65 -0.45)"/><path d="M0,0C2.4,0 4.1,2.2 5.3,4.3C6.2,5.9 6.6,7.5 5.8,8.2C5,8.9 3.7,8.4 2.5,7.9C1.3,7.45 -1.3,7.45 -2.5,7.9C-3.7,8.4 -5,8.9 -5.8,8.2C-6.6,7.5 -6.2,5.9 -5.3,4.3C-4.1,2.2 -2.4,0 0,0Z"/></g></svg>
<svg class="p" style="left:769.70px;top:315.60px" width="26" height="24" viewBox="-13 -12 26 24"><g class="w"><ellipse cx="0" cy="-1.5" rx="5.5" ry="3.6"/><ellipse cx="-3.05" cy="-5.45" rx="2.25" ry="3.07" transform="rotate(-8 -3.05 -5.45)"/><ellipse cx="3.05" cy="-5.45" rx="2.25" ry="3.07" transform="rotate(8 3.05 -5.45)"/><ellipse cx="-6.65" cy="-0.45" rx="2.25" ry="3.05" transform="rotate(-28 -6.65 -0.45)"/><ellipse cx="6.65" cy="-0.45" rx="2.25" ry="3.05" transform="rotate(28 6.65 -0.45)"/><path d="M0,0C2.4,0 4.1,2.2 5.3,4.3C6.2,5.9 6.6,7.5 5.8,8.2C5,8.9 3.7,8.4 2.5,7.9C1.3,7.45 -1.3,7.45 -2.5,7.9C-3.7,8.4 -5,8.9 -5.8,8.2C-6.6,7.5 -6.2,5.9 -5.3,4.3C-4.1,2.2 -2.4,0 0,0Z"/></g><g><ellipse cx="-3.05" cy="-5.45" rx="2.25" ry="3.07" transform="rotate(-8 -3.05 -5.45)"/><ellipse cx="3.05" cy="-5.45" rx="2.25" ry="3.07" transform="rotate(8 3.05 -5.45)"/><ellipse cx="-6.65" cy="-0.45" rx="2.25" ry="3.05" transform="rotate(-28 -6.65 -0.45)"/><ellipse cx="6.65" cy="-0.45" rx="2.25" ry="3.05" transform="rotate(28 6.65 -0.45)"/><path d="M0,0C2.4,0 4.1,2.2 5.3,4.3C6.2,5.9 6.6,7.5 5.8,8.2C5,8.9 3.7,8.4 2.5,7.9C1.3,7.45 -1.3,7.45 -2.5,7.9C-3.7,8.4 -5,8.9 -5.8,8.2C-6.6,7.5 -6.2,5.9 -5.3,4.3C-4.1,2.2 -2.4,0 0,0Z"/></g></svg>
<svg class="p" style="left:847.70px;top:315.60px" width="26" height="24" viewBox="-13 -12 26 24"><g class="w"><ellipse cx="0" cy="-1.5" rx="5.5" ry="3.6"/><ellipse cx="-3.05" cy="-5.45" rx="2.25" ry="3.07" transform="rotate(-8 -3.05 -5.45)"/><ellipse cx="3.05" cy="-5.45" rx="2.25" ry="3.07" transform="rotate(8 3.05 -5.45)"/><ellipse cx="-6.65" cy="-0.45" rx="2.25" ry="3.05" transform="rotate(-28 -6.65 -0.45)"/><ellipse cx="6.65" cy="-0.45" rx="2.25" ry="3.05" transform="rotate(28 6.65 -0.45)"/><path d="M0,0C2.4,0 4.1,2.2 5.3,4.3C6.2,5.9 6.6,7.5 5.8,8.2C5,8.9 3.7,8.4 2.5,7.9C1.3,7.45 -1.3,7.45 -2.5,7.9C-3.7,8.4 -5,8.9 -5.8,8.2C-6.6,7.5 -6.2,5.9 -5.3,4.3C-4.1,2.2 -2.4,0 0,0Z"/></g><g><ellipse cx="-3.05" cy="-5.45" rx="2.25" ry="3.07" transform="rotate(-8 -3.05 -5.45)"/><ellipse cx="3.05" cy="-5.45" rx="2.25" ry="3.07" transform="rotate(8 3.05 -5.45)"/><ellipse cx="-6.65" cy="-0.45" rx="2.25" ry="3.05" transform="rotate(-28 -6.65 -0.45)"/><ellipse cx="6.65" cy="-0.45" rx="2.25" ry="3.05" transform="rotate(28 6.65 -0.45)"/><path d="M0,0C2.4,0 4.1,2.2 5.3,4.3C6.2,5.9 6.6,7.5 5.8,8.2C5,8.9 3.7,8.4 2.5,7.9C1.3,7.45 -1.3,7.45 -2.5,7.9C-3.7,8.4 -5,8.9 -5.8,8.2C-6.6,7.5 -6.2,5.9 -5.3,4.3C-4.1,2.2 -2.4,0 0,0Z"/></g></svg>
<svg class="p" style="left:998.90px;top:316.10px" width="26" height="24" viewBox="-13 -12 26 24"><g class="w"><ellipse cx="0" cy="-1.5" rx="5.5" ry="3.6"/><ellipse cx="-3.05" cy="-5.45" rx="2.25" ry="3.07" transform="rotate(-8 -3.05 -5.45)"/><ellipse cx="3.05" cy="-5.45" rx="2.25" ry="3.07" transform="rotate(8 3.05 -5.45)"/><ellipse cx="-6.65" cy="-0.45" rx="2.25" ry="3.05" transform="rotate(-28 -6.65 -0.45)"/><ellipse cx="6.65" cy="-0.45" rx="2.25" ry="3.05" transform="rotate(28 6.65 -0.45)"/><path d="M0,0C2.4,0 4.1,2.2 5.3,4.3C6.2,5.9 6.6,7.5 5.8,8.2C5,8.9 3.7,8.4 2.5,7.9C1.3,7.45 -1.3,7.45 -2.5,7.9C-3.7,8.4 -5,8.9 -5.8,8.2C-6.6,7.5 -6.2,5.9 -5.3,4.3C-4.1,2.2 -2.4,0 0,0Z"/></g><g><ellipse cx="-3.05" cy="-5.45" rx="2.25" ry="3.07" transform="rotate(-8 -3.05 -5.45)"/><ellipse cx="3.05" cy="-5.45" rx="2.25" ry="3.07" transform="rotate(8 3.05 -5.45)"/><ellipse cx="-6.65" cy="-0.45" rx="2.25" ry="3.05" transform="rotate(-28 -6.65 -0.45)"/><ellipse cx="6.65" cy="-0.45" rx="2.25" ry="3.05" transform="rotate(28 6.65 -0.45)"/><path d="M0,0C2.4,0 4.1,2.2 5.3,4.3C6.2,5.9 6.6,7.5 5.8,8.2C5,8.9 3.7,8.4 2.5,7.9C1.3,7.45 -1.3,7.45 -2.5,7.9C-3.7,8.4 -5,8.9 -5.8,8.2C-6.6,7.5 -6.2,5.9 -5.3,4.3C-4.1,2.2 -2.4,0 0,0Z"/></g></svg>
<svg class="p" style="left:132.20px;top:340.50px" width="26" height="24" viewBox="-13 -12 26 24"><g class="w"><ellipse cx="0" cy="-1.5" rx="5.5" ry="3.6"/><ellipse cx="-3.05" cy="-5.45" rx="2.25" ry="3.07" transform="rotate(-8 -3.05 -5.45)"/><ellipse cx="3.05" cy="-5.45" rx="2.25" ry="3.07" transform="rotate(8 3.05 -5.45)"/><ellipse cx="-6.65" cy="-0.45" rx="2.25" ry="3.05" transform="rotate(-28 -6.65 -0.45)"/><ellipse cx="6.65" cy="-0.45" rx="2.25" ry="3.05" transform="rotate(28 6.65 -0.45)"/><path d="M0,0C2.4,0 4.1,2.2 5.3,4.3C6.2,5.9 6.6,7.5 5.8,8.2C5,8.9 3.7,8.4 2.5,7.9C1.3,7.45 -1.3,7.45 -2.5,7.9C-3.7,8.4 -5,8.9 -5.8,8.2C-6.6,7.5 -6.2,5.9 -5.3,4.3C-4.1,2.2 -2.4,0 0,0Z"/></g><g><ellipse cx="-3.05" cy="-5.45" rx="2.25" ry="3.07" transform="rotate(-8 -3.05 -5.45)"/><ellipse cx="3.05" cy="-5.45" rx="2.25" ry="3.07" transform="rotate(8 3.05 -5.45)"/><ellipse cx="-6.65" cy="-0.45" rx="2.25" ry="3.05" transform="rotate(-28 -6.65 -0.45)"/><ellipse cx="6.65" cy="-0.45" rx="2.25" ry="3.05" transform="rotate(28 6.65 -0.45)"/><path d="M0,0C2.4,0 4.1,2.2 5.3,4.3C6.2,5.9 6.6,7.5 5.8,8.2C5,8.9 3.7,8.4 2.5,7.9C1.3,7.45 -1.3,7.45 -2.5,7.9C-3.7,8.4 -5,8.9 -5.8,8.2C-6.6,7.5 -6.2,5.9 -5.3,4.3C-4.1,2.2 -2.4,0 0,0Z"/></g></svg>
<svg class="p" style="left:208.70px;top:341.10px" width="26" height="24" viewBox="-13 -12 26 24"><g class="w"><ellipse cx="0" cy="-1.5" rx="5.5" ry="3.6"/><ellipse cx="-3.05" cy="-5.45" rx="2.25" ry="3.07" transform="rotate(-8 -3.05 -5.45)"/><ellipse cx="3.05" cy="-5.45" rx="2.25" ry="3.07" transform="rotate(8 3.05 -5.45)"/><ellipse cx="-6.65" cy="-0.45" rx="2.25" ry="3.05" transform="rotate(-28 -6.65 -0.45)"/><ellipse cx="6.65" cy="-0.45" rx="2.25" ry="3.05" transform="rotate(28 6.65 -0.45)"/><path d="M0,0C2.4,0 4.1,2.2 5.3,4.3C6.2,5.9 6.6,7.5 5.8,8.2C5,8.9 3.7,8.4 2.5,7.9C1.3,7.45 -1.3,7.45 -2.5,7.9C-3.7,8.4 -5,8.9 -5.8,8.2C-6.6,7.5 -6.2,5.9 -5.3,4.3C-4.1,2.2 -2.4,0 0,0Z"/></g><g><ellipse cx="-3.05" cy="-5.45" rx="2.25" ry="3.07" transform="rotate(-8 -3.05 -5.45)"/><ellipse cx="3.05" cy="-5.45" rx="2.25" ry="3.07" transform="rotate(8 3.05 -5.45)"/><ellipse cx="-6.65" cy="-0.45" rx="2.25" ry="3.05" transform="rotate(-28 -6.65 -0.45)"/><ellipse cx="6.65" cy="-0.45" rx="2.25" ry="3.05" transform="rotate(28 6.65 -0.45)"/><path d="M0,0C2.4,0 4.1,2.2 5.3,4.3C6.2,5.9 6.6,7.5 5.8,8.2C5,8.9 3.7,8.4 2.5,7.9C1.3,7.45 -1.3,7.45 -2.5,7.9C-3.7,8.4 -5,8.9 -5.8,8.2C-6.6,7.5 -6.2,5.9 -5.3,4.3C-4.1,2.2 -2.4,0 0,0Z"/></g></svg>
<svg class="p" style="left:362.10px;top:342.10px" width="26" height="24" viewBox="-13 -12 26 24"><g class="w"><ellipse cx="0" cy="-1.5" rx="5.5" ry="3.6"/><ellipse cx="-3.05" cy="-5.45" rx="2.25" ry="3.07" transform="rotate(-8 -3.05 -5.45)"/><ellipse cx="3.05" cy="-5.45" rx="2.25" ry="3.07" transform="rotate(8 3.05 -5.45)"/><ellipse cx="-6.65" cy="-0.45" rx="2.25" ry="3.05" transform="rotate(-28 -6.65 -0.45)"/><ellipse cx="6.65" cy="-0.45" rx="2.25" ry="3.05" transform="rotate(28 6.65 -0.45)"/><path d="M0,0C2.4,0 4.1,2.2 5.3,4.3C6.2,5.9 6.6,7.5 5.8,8.2C5,8.9 3.7,8.4 2.5,7.9C1.3,7.45 -1.3,7.45 -2.5,7.9C-3.7,8.4 -5,8.9 -5.8,8.2C-6.6,7.5 -6.2,5.9 -5.3,4.3C-4.1,2.2 -2.4,0 0,0Z"/></g><g><ellipse cx="-3.05" cy="-5.45" rx="2.25" ry="3.07" transform="rotate(-8 -3.05 -5.45)"/><ellipse cx="3.05" cy="-5.45" rx="2.25" ry="3.07" transform="rotate(8 3.05 -5.45)"/><ellipse cx="-6.65" cy="-0.45" rx="2.25" ry="3.05" transform="rotate(-28 -6.65 -0.45)"/><ellipse cx="6.65" cy="-0.45" rx="2.25" ry="3.05" transform="rotate(28 6.65 -0.45)"/><path d="M0,0C2.4,0 4.1,2.2 5.3,4.3C6.2,5.9 6.6,7.5 5.8,8.2C5,8.9 3.7,8.4 2.5,7.9C1.3,7.45 -1.3,7.45 -2.5,7.9C-3.7,8.4 -5,8.9 -5.8,8.2C-6.6,7.5 -6.2,5.9 -5.3,4.3C-4.1,2.2 -2.4,0 0,0Z"/></g></svg>
<svg class="p" style="left:439.00px;top:342.10px" width="26" height="24" viewBox="-13 -12 26 24"><g class="w"><ellipse cx="0" cy="-1.5" rx="5.5" ry="3.6"/><ellipse cx="-3.05" cy="-5.45" rx="2.25" ry="3.07" transform="rotate(-8 -3.05 -5.45)"/><ellipse cx="3.05" cy="-5.45" rx="2.25" ry="3.07" transform="rotate(8 3.05 -5.45)"/><ellipse cx="-6.65" cy="-0.45" rx="2.25" ry="3.05" transform="rotate(-28 -6.65 -0.45)"/><ellipse cx="6.65" cy="-0.45" rx="2.25" ry="3.05" transform="rotate(28 6.65 -0.45)"/><path d="M0,0C2.4,0 4.1,2.2 5.3,4.3C6.2,5.9 6.6,7.5 5.8,8.2C5,8.9 3.7,8.4 2.5,7.9C1.3,7.45 -1.3,7.45 -2.5,7.9C-3.7,8.4 -5,8.9 -5.8,8.2C-6.6,7.5 -6.2,5.9 -5.3,4.3C-4.1,2.2 -2.4,0 0,0Z"/></g><g><ellipse cx="-3.05" cy="-5.45" rx="2.25" ry="3.07" transform="rotate(-8 -3.05 -5.45)"/><ellipse cx="3.05" cy="-5.45" rx="2.25" ry="3.07" transform="rotate(8 3.05 -5.45)"/><ellipse cx="-6.65" cy="-0.45" rx="2.25" ry="3.05" transform="rotate(-28 -6.65 -0.45)"/><ellipse cx="6.65" cy="-0.45" rx="2.25" ry="3.05" transform="rotate(28 6.65 -0.45)"/><path d="M0,0C2.4,0 4.1,2.2 5.3,4.3C6.2,5.9 6.6,7.5 5.8,8.2C5,8.9 3.7,8.4 2.5,7.9C1.3,7.45 -1.3,7.45 -2.5,7.9C-3.7,8.4 -5,8.9 -5.8,8.2C-6.6,7.5 -6.2,5.9 -5.3,4.3C-4.1,2.2 -2.4,0 0,0Z"/></g></svg>
<svg class="p" style="left:514.20px;top:343.60px" width="26" height="24" viewBox="-13 -12 26 24"><g class="w"><ellipse cx="0" cy="-1.5" rx="5.5" ry="3.6"/><ellipse cx="-3.05" cy="-5.45" rx="2.25" ry="3.07" transform="rotate(-8 -3.05 -5.45)"/><ellipse cx="3.05" cy="-5.45" rx="2.25" ry="3.07" transform="rotate(8 3.05 -5.45)"/><ellipse cx="-6.65" cy="-0.45" rx="2.25" ry="3.05" transform="rotate(-28 -6.65 -0.45)"/><ellipse cx="6.65" cy="-0.45" rx="2.25" ry="3.05" transform="rotate(28 6.65 -0.45)"/><path d="M0,0C2.4,0 4.1,2.2 5.3,4.3C6.2,5.9 6.6,7.5 5.8,8.2C5,8.9 3.7,8.4 2.5,7.9C1.3,7.45 -1.3,7.45 -2.5,7.9C-3.7,8.4 -5,8.9 -5.8,8.2C-6.6,7.5 -6.2,5.9 -5.3,4.3C-4.1,2.2 -2.4,0 0,0Z"/></g><g><ellipse cx="-3.05" cy="-5.45" rx="2.25" ry="3.07" transform="rotate(-8 -3.05 -5.45)"/><ellipse cx="3.05" cy="-5.45" rx="2.25" ry="3.07" transform="rotate(8 3.05 -5.45)"/><ellipse cx="-6.65" cy="-0.45" rx="2.25" ry="3.05" transform="rotate(-28 -6.65 -0.45)"/><ellipse cx="6.65" cy="-0.45" rx="2.25" ry="3.05" transform="rotate(28 6.65 -0.45)"/><path d="M0,0C2.4,0 4.1,2.2 5.3,4.3C6.2,5.9 6.6,7.5 5.8,8.2C5,8.9 3.7,8.4 2.5,7.9C1.3,7.45 -1.3,7.45 -2.5,7.9C-3.7,8.4 -5,8.9 -5.8,8.2C-6.6,7.5 -6.2,5.9 -5.3,4.3C-4.1,2.2 -2.4,0 0,0Z"/></g></svg>
<svg class="p" style="left:617.70px;top:340.50px" width="26" height="24" viewBox="-13 -12 26 24"><g class="w"><ellipse cx="0" cy="-1.5" rx="5.5" ry="3.6"/><ellipse cx="-3.05" cy="-5.45" rx="2.25" ry="3.07" transform="rotate(-8 -3.05 -5.45)"/><ellipse cx="3.05" cy="-5.45" rx="2.25" ry="3.07" transform="rotate(8 3.05 -5.45)"/><ellipse cx="-6.65" cy="-0.45" rx="2.25" ry="3.05" transform="rotate(-28 -6.65 -0.45)"/><ellipse cx="6.65" cy="-0.45" rx="2.25" ry="3.05" transform="rotate(28 6.65 -0.45)"/><path d="M0,0C2.4,0 4.1,2.2 5.3,4.3C6.2,5.9 6.6,7.5 5.8,8.2C5,8.9 3.7,8.4 2.5,7.9C1.3,7.45 -1.3,7.45 -2.5,7.9C-3.7,8.4 -5,8.9 -5.8,8.2C-6.6,7.5 -6.2,5.9 -5.3,4.3C-4.1,2.2 -2.4,0 0,0Z"/></g><g><ellipse cx="-3.05" cy="-5.45" rx="2.25" ry="3.07" transform="rotate(-8 -3.05 -5.45)"/><ellipse cx="3.05" cy="-5.45" rx="2.25" ry="3.07" transform="rotate(8 3.05 -5.45)"/><ellipse cx="-6.65" cy="-0.45" rx="2.25" ry="3.05" transform="rotate(-28 -6.65 -0.45)"/><ellipse cx="6.65" cy="-0.45" rx="2.25" ry="3.05" transform="rotate(28 6.65 -0.45)"/><path d="M0,0C2.4,0 4.1,2.2 5.3,4.3C6.2,5.9 6.6,7.5 5.8,8.2C5,8.9 3.7,8.4 2.5,7.9C1.3,7.45 -1.3,7.45 -2.5,7.9C-3.7,8.4 -5,8.9 -5.8,8.2C-6.6,7.5 -6.2,5.9 -5.3,4.3C-4.1,2.2 -2.4,0 0,0Z"/></g></svg>
<svg class="p" style="left:695.00px;top:341.75px" width="26" height="24" viewBox="-13 -12 26 24"><g class="w"><ellipse cx="0" cy="-1.5" rx="5.5" ry="3.6"/><ellipse cx="-3.05" cy="-5.45" rx="2.25" ry="3.07" transform="rotate(-8 -3.05 -5.45)"/><ellipse cx="3.05" cy="-5.45" rx="2.25" ry="3.07" transform="rotate(8 3.05 -5.45)"/><ellipse cx="-6.65" cy="-0.45" rx="2.25" ry="3.05" transform="rotate(-28 -6.65 -0.45)"/><ellipse cx="6.65" cy="-0.45" rx="2.25" ry="3.05" transform="rotate(28 6.65 -0.45)"/><path d="M0,0C2.4,0 4.1,2.2 5.3,4.3C6.2,5.9 6.6,7.5 5.8,8.2C5,8.9 3.7,8.4 2.5,7.9C1.3,7.45 -1.3,7.45 -2.5,7.9C-3.7,8.4 -5,8.9 -5.8,8.2C-6.6,7.5 -6.2,5.9 -5.3,4.3C-4.1,2.2 -2.4,0 0,0Z"/></g><g><ellipse cx="-3.05" cy="-5.45" rx="2.25" ry="3.07" transform="rotate(-8 -3.05 -5.45)"/><ellipse cx="3.05" cy="-5.45" rx="2.25" ry="3.07" transform="rotate(8 3.05 -5.45)"/><ellipse cx="-6.65" cy="-0.45" rx="2.25" ry="3.05" transform="rotate(-28 -6.65 -0.45)"/><ellipse cx="6.65" cy="-0.45" rx="2.25" ry="3.05" transform="rotate(28 6.65 -0.45)"/><path d="M0,0C2.4,0 4.1,2.2 5.3,4.3C6.2,5.9 6.6,7.5 5.8,8.2C5,8.9 3.7,8.4 2.5,7.9C1.3,7.45 -1.3,7.45 -2.5,7.9C-3.7,8.4 -5,8.9 -5.8,8.2C-6.6,7.5 -6.2,5.9 -5.3,4.3C-4.1,2.2 -2.4,0 0,0Z"/></g></svg>
<svg class="p" style="left:769.70px;top:342.10px" width="26" height="24" viewBox="-13 -12 26 24"><g class="w"><ellipse cx="0" cy="-1.5" rx="5.5" ry="3.6"/><ellipse cx="-3.05" cy="-5.45" rx="2.25" ry="3.07" transform="rotate(-8 -3.05 -5.45)"/><ellipse cx="3.05" cy="-5.45" rx="2.25" ry="3.07" transform="rotate(8 3.05 -5.45)"/><ellipse cx="-6.65" cy="-0.45" rx="2.25" ry="3.05" transform="rotate(-28 -6.65 -0.45)"/><ellipse cx="6.65" cy="-0.45" rx="2.25" ry="3.05" transform="rotate(28 6.65 -0.45)"/><path d="M0,0C2.4,0 4.1,2.2 5.3,4.3C6.2,5.9 6.6,7.5 5.8,8.2C5,8.9 3.7,8.4 2.5,7.9C1.3,7.45 -1.3,7.45 -2.5,7.9C-3.7,8.4 -5,8.9 -5.8,8.2C-6.6,7.5 -6.2,5.9 -5.3,4.3C-4.1,2.2 -2.4,0 0,0Z"/></g><g><ellipse cx="-3.05" cy="-5.45" rx="2.25" ry="3.07" transform="rotate(-8 -3.05 -5.45)"/><ellipse cx="3.05" cy="-5.45" rx="2.25" ry="3.07" transform="rotate(8 3.05 -5.45)"/><ellipse cx="-6.65" cy="-0.45" rx="2.25" ry="3.05" transform="rotate(-28 -6.65 -0.45)"/><ellipse cx="6.65" cy="-0.45" rx="2.25" ry="3.05" transform="rotate(28 6.65 -0.45)"/><path d="M0,0C2.4,0 4.1,2.2 5.3,4.3C6.2,5.9 6.6,7.5 5.8,8.2C5,8.9 3.7,8.4 2.5,7.9C1.3,7.45 -1.3,7.45 -2.5,7.9C-3.7,8.4 -5,8.9 -5.8,8.2C-6.6,7.5 -6.2,5.9 -5.3,4.3C-4.1,2.2 -2.4,0 0,0Z"/></g></svg>
<svg class="p" style="left:1075.20px;top:342.30px" width="26" height="24" viewBox="-13 -12 26 24"><g class="w"><ellipse cx="0" cy="-1.5" rx="5.5" ry="3.6"/><ellipse cx="-3.05" cy="-5.45" rx="2.25" ry="3.07" transform="rotate(-8 -3.05 -5.45)"/><ellipse cx="3.05" cy="-5.45" rx="2.25" ry="3.07" transform="rotate(8 3.05 -5.45)"/><ellipse cx="-6.65" cy="-0.45" rx="2.25" ry="3.05" transform="rotate(-28 -6.65 -0.45)"/><ellipse cx="6.65" cy="-0.45" rx="2.25" ry="3.05" transform="rotate(28 6.65 -0.45)"/><path d="M0,0C2.4,0 4.1,2.2 5.3,4.3C6.2,5.9 6.6,7.5 5.8,8.2C5,8.9 3.7,8.4 2.5,7.9C1.3,7.45 -1.3,7.45 -2.5,7.9C-3.7,8.4 -5,8.9 -5.8,8.2C-6.6,7.5 -6.2,5.9 -5.3,4.3C-4.1,2.2 -2.4,0 0,0Z"/></g><g><ellipse cx="-3.05" cy="-5.45" rx="2.25" ry="3.07" transform="rotate(-8 -3.05 -5.45)"/><ellipse cx="3.05" cy="-5.45" rx="2.25" ry="3.07" transform="rotate(8 3.05 -5.45)"/><ellipse cx="-6.65" cy="-0.45" rx="2.25" ry="3.05" transform="rotate(-28 -6.65 -0.45)"/><ellipse cx="6.65" cy="-0.45" rx="2.25" ry="3.05" transform="rotate(28 6.65 -0.45)"/><path d="M0,0C2.4,0 4.1,2.2 5.3,4.3C6.2,5.9 6.6,7.5 5.8,8.2C5,8.9 3.7,8.4 2.5,7.9C1.3,7.45 -1.3,7.45 -2.5,7.9C-3.7,8.4 -5,8.9 -5.8,8.2C-6.6,7.5 -6.2,5.9 -5.3,4.3C-4.1,2.2 -2.4,0 0,0Z"/></g></svg>
<svg class="p" style="left:287.00px;top:365.50px" width="26" height="24" viewBox="-13 -12 26 24"><g class="w"><ellipse cx="0" cy="-1.5" rx="5.5" ry="3.6"/><ellipse cx="-3.05" cy="-5.45" rx="2.25" ry="3.07" transform="rotate(-8 -3.05 -5.45)"/><ellipse cx="3.05" cy="-5.45" rx="2.25" ry="3.07" transform="rotate(8 3.05 -5.45)"/><ellipse cx="-6.65" cy="-0.45" rx="2.25" ry="3.05" transform="rotate(-28 -6.65 -0.45)"/><ellipse cx="6.65" cy="-0.45" rx="2.25" ry="3.05" transform="rotate(28 6.65 -0.45)"/><path d="M0,0C2.4,0 4.1,2.2 5.3,4.3C6.2,5.9 6.6,7.5 5.8,8.2C5,8.9 3.7,8.4 2.5,7.9C1.3,7.45 -1.3,7.45 -2.5,7.9C-3.7,8.4 -5,8.9 -5.8,8.2C-6.6,7.5 -6.2,5.9 -5.3,4.3C-4.1,2.2 -2.4,0 0,0Z"/></g><g><ellipse cx="-3.05" cy="-5.45" rx="2.25" ry="3.07" transform="rotate(-8 -3.05 -5.45)"/><ellipse cx="3.05" cy="-5.45" rx="2.25" ry="3.07" transform="rotate(8 3.05 -5.45)"/><ellipse cx="-6.65" cy="-0.45" rx="2.25" ry="3.05" transform="rotate(-28 -6.65 -0.45)"/><ellipse cx="6.65" cy="-0.45" rx="2.25" ry="3.05" transform="rotate(28 6.65 -0.45)"/><path d="M0,0C2.4,0 4.1,2.2 5.3,4.3C6.2,5.9 6.6,7.5 5.8,8.2C5,8.9 3.7,8.4 2.5,7.9C1.3,7.45 -1.3,7.45 -2.5,7.9C-3.7,8.4 -5,8.9 -5.8,8.2C-6.6,7.5 -6.2,5.9 -5.3,4.3C-4.1,2.2 -2.4,0 0,0Z"/></g></svg>
<svg class="p" style="left:617.70px;top:365.75px" width="26" height="24" viewBox="-13 -12 26 24"><g class="w"><ellipse cx="0" cy="-1.5" rx="5.5" ry="3.6"/><ellipse cx="-3.05" cy="-5.45" rx="2.25" ry="3.07" transform="rotate(-8 -3.05 -5.45)"/><ellipse cx="3.05" cy="-5.45" rx="2.25" ry="3.07" transform="rotate(8 3.05 -5.45)"/><ellipse cx="-6.65" cy="-0.45" rx="2.25" ry="3.05" transform="rotate(-28 -6.65 -0.45)"/><ellipse cx="6.65" cy="-0.45" rx="2.25" ry="3.05" transform="rotate(28 6.65 -0.45)"/><path d="M0,0C2.4,0 4.1,2.2 5.3,4.3C6.2,5.9 6.6,7.5 5.8,8.2C5,8.9 3.7,8.4 2.5,7.9C1.3,7.45 -1.3,7.45 -2.5,7.9C-3.7,8.4 -5,8.9 -5.8,8.2C-6.6,7.5 -6.2,5.9 -5.3,4.3C-4.1,2.2 -2.4,0 0,0Z"/></g><g><ellipse cx="-3.05" cy="-5.45" rx="2.25" ry="3.07" transform="rotate(-8 -3.05 -5.45)"/><ellipse cx="3.05" cy="-5.45" rx="2.25" ry="3.07" transform="rotate(8 3.05 -5.45)"/><ellipse cx="-6.65" cy="-0.45" rx="2.25" ry="3.05" transform="rotate(-28 -6.65 -0.45)"/><ellipse cx="6.65" cy="-0.45" rx="2.25" ry="3.05" transform="rotate(28 6.65 -0.45)"/><path d="M0,0C2.4,0 4.1,2.2 5.3,4.3C6.2,5.9 6.6,7.5 5.8,8.2C5,8.9 3.7,8.4 2.5,7.9C1.3,7.45 -1.3,7.45 -2.5,7.9C-3.7,8.4 -5,8.9 -5.8,8.2C-6.6,7.5 -6.2,5.9 -5.3,4.3C-4.1,2.2 -2.4,0 0,0Z"/></g></svg>
<svg class="p" style="left:1075.20px;top:365.90px" width="26" height="24" viewBox="-13 -12 26 24"><g class="w"><ellipse cx="0" cy="-1.5" rx="5.5" ry="3.6"/><ellipse cx="-3.05" cy="-5.45" rx="2.25" ry="3.07" transform="rotate(-8 -3.05 -5.45)"/><ellipse cx="3.05" cy="-5.45" rx="2.25" ry="3.07" transform="rotate(8 3.05 -5.45)"/><ellipse cx="-6.65" cy="-0.45" rx="2.25" ry="3.05" transform="rotate(-28 -6.65 -0.45)"/><ellipse cx="6.65" cy="-0.45" rx="2.25" ry="3.05" transform="rotate(28 6.65 -0.45)"/><path d="M0,0C2.4,0 4.1,2.2 5.3,4.3C6.2,5.9 6.6,7.5 5.8,8.2C5,8.9 3.7,8.4 2.5,7.9C1.3,7.45 -1.3,7.45 -2.5,7.9C-3.7,8.4 -5,8.9 -5.8,8.2C-6.6,7.5 -6.2,5.9 -5.3,4.3C-4.1,2.2 -2.4,0 0,0Z"/></g><g><ellipse cx="-3.05" cy="-5.45" rx="2.25" ry="3.07" transform="rotate(-8 -3.05 -5.45)"/><ellipse cx="3.05" cy="-5.45" rx="2.25" ry="3.07" transform="rotate(8 3.05 -5.45)"/><ellipse cx="-6.65" cy="-0.45" rx="2.25" ry="3.05" transform="rotate(-28 -6.65 -0.45)"/><ellipse cx="6.65" cy="-0.45" rx="2.25" ry="3.05" transform="rotate(28 6.65 -0.45)"/><path d="M0,0C2.4,0 4.1,2.2 5.3,4.3C6.2,5.9 6.6,7.5 5.8,8.2C5,8.9 3.7,8.4 2.5,7.9C1.3,7.45 -1.3,7.45 -2.5,7.9C-3.7,8.4 -5,8.9 -5.8,8.2C-6.6,7.5 -6.2,5.9 -5.3,4.3C-4.1,2.2 -2.4,0 0,0Z"/></g></svg>
<svg class="p" style="left:1151.20px;top:365.90px" width="26" height="24" viewBox="-13 -12 26 24"><g class="w"><ellipse cx="0" cy="-1.5" rx="5.5" ry="3.6"/><ellipse cx="-3.05" cy="-5.45" rx="2.25" ry="3.07" transform="rotate(-8 -3.05 -5.45)"/><ellipse cx="3.05" cy="-5.45" rx="2.25" ry="3.07" transform="rotate(8 3.05 -5.45)"/><ellipse cx="-6.65" cy="-0.45" rx="2.25" ry="3.05" transform="rotate(-28 -6.65 -0.45)"/><ellipse cx="6.65" cy="-0.45" rx="2.25" ry="3.05" transform="rotate(28 6.65 -0.45)"/><path d="M0,0C2.4,0 4.1,2.2 5.3,4.3C6.2,5.9 6.6,7.5 5.8,8.2C5,8.9 3.7,8.4 2.5,7.9C1.3,7.45 -1.3,7.45 -2.5,7.9C-3.7,8.4 -5,8.9 -5.8,8.2C-6.6,7.5 -6.2,5.9 -5.3,4.3C-4.1,2.2 -2.4,0 0,0Z"/></g><g><ellipse cx="-3.05" cy="-5.45" rx="2.25" ry="3.07" transform="rotate(-8 -3.05 -5.45)"/><ellipse cx="3.05" cy="-5.45" rx="2.25" ry="3.07" transform="rotate(8 3.05 -5.45)"/><ellipse cx="-6.65" cy="-0.45" rx="2.25" ry="3.05" transform="rotate(-28 -6.65 -0.45)"/><ellipse cx="6.65" cy="-0.45" rx="2.25" ry="3.05" transform="rotate(28 6.65 -0.45)"/><path d="M0,0C2.4,0 4.1,2.2 5.3,4.3C6.2,5.9 6.6,7.5 5.8,8.2C5,8.9 3.7,8.4 2.5,7.9C1.3,7.45 -1.3,7.45 -2.5,7.9C-3.7,8.4 -5,8.9 -5.8,8.2C-6.6,7.5 -6.2,5.9 -5.3,4.3C-4.1,2.2 -2.4,0 0,0Z"/></g></svg>
<svg class="p" style="left:362.00px;top:390.00px" width="26" height="24" viewBox="-13 -12 26 24"><g class="w"><ellipse cx="0" cy="-1.5" rx="5.5" ry="3.6"/><ellipse cx="-3.05" cy="-5.45" rx="2.25" ry="3.07" transform="rotate(-8 -3.05 -5.45)"/><ellipse cx="3.05" cy="-5.45" rx="2.25" ry="3.07" transform="rotate(8 3.05 -5.45)"/><ellipse cx="-6.65" cy="-0.45" rx="2.25" ry="3.05" transform="rotate(-28 -6.65 -0.45)"/><ellipse cx="6.65" cy="-0.45" rx="2.25" ry="3.05" transform="rotate(28 6.65 -0.45)"/><path d="M0,0C2.4,0 4.1,2.2 5.3,4.3C6.2,5.9 6.6,7.5 5.8,8.2C5,8.9 3.7,8.4 2.5,7.9C1.3,7.45 -1.3,7.45 -2.5,7.9C-3.7,8.4 -5,8.9 -5.8,8.2C-6.6,7.5 -6.2,5.9 -5.3,4.3C-4.1,2.2 -2.4,0 0,0Z"/></g><g><ellipse cx="-3.05" cy="-5.45" rx="2.25" ry="3.07" transform="rotate(-8 -3.05 -5.45)"/><ellipse cx="3.05" cy="-5.45" rx="2.25" ry="3.07" transform="rotate(8 3.05 -5.45)"/><ellipse cx="-6.65" cy="-0.45" rx="2.25" ry="3.05" transform="rotate(-28 -6.65 -0.45)"/><ellipse cx="6.65" cy="-0.45" rx="2.25" ry="3.05" transform="rotate(28 6.65 -0.45)"/><path d="M0,0C2.4,0 4.1,2.2 5.3,4.3C6.2,5.9 6.6,7.5 5.8,8.2C5,8.9 3.7,8.4 2.5,7.9C1.3,7.45 -1.3,7.45 -2.5,7.9C-3.7,8.4 -5,8.9 -5.8,8.2C-6.6,7.5 -6.2,5.9 -5.3,4.3C-4.1,2.2 -2.4,0 0,0Z"/></g></svg>
<svg class="p" style="left:617.70px;top:393.00px" width="26" height="24" viewBox="-13 -12 26 24"><g class="w"><ellipse cx="0" cy="-1.5" rx="5.5" ry="3.6"/><ellipse cx="-3.05" cy="-5.45" rx="2.25" ry="3.07" transform="rotate(-8 -3.05 -5.45)"/><ellipse cx="3.05" cy="-5.45" rx="2.25" ry="3.07" transform="rotate(8 3.05 -5.45)"/><ellipse cx="-6.65" cy="-0.45" rx="2.25" ry="3.05" transform="rotate(-28 -6.65 -0.45)"/><ellipse cx="6.65" cy="-0.45" rx="2.25" ry="3.05" transform="rotate(28 6.65 -0.45)"/><path d="M0,0C2.4,0 4.1,2.2 5.3,4.3C6.2,5.9 6.6,7.5 5.8,8.2C5,8.9 3.7,8.4 2.5,7.9C1.3,7.45 -1.3,7.45 -2.5,7.9C-3.7,8.4 -5,8.9 -5.8,8.2C-6.6,7.5 -6.2,5.9 -5.3,4.3C-4.1,2.2 -2.4,0 0,0Z"/></g><g><ellipse cx="-3.05" cy="-5.45" rx="2.25" ry="3.07" transform="rotate(-8 -3.05 -5.45)"/><ellipse cx="3.05" cy="-5.45" rx="2.25" ry="3.07" transform="rotate(8 3.05 -5.45)"/><ellipse cx="-6.65" cy="-0.45" rx="2.25" ry="3.05" transform="rotate(-28 -6.65 -0.45)"/><ellipse cx="6.65" cy="-0.45" rx="2.25" ry="3.05" transform="rotate(28 6.65 -0.45)"/><path d="M0,0C2.4,0 4.1,2.2 5.3,4.3C6.2,5.9 6.6,7.5 5.8,8.2C5,8.9 3.7,8.4 2.5,7.9C1.3,7.45 -1.3,7.45 -2.5,7.9C-3.7,8.4 -5,8.9 -5.8,8.2C-6.6,7.5 -6.2,5.9 -5.3,4.3C-4.1,2.2 -2.4,0 0,0Z"/></g></svg>
<svg class="p" style="left:1075.50px;top:392.10px" width="26" height="24" viewBox="-13 -12 26 24"><g class="w"><ellipse cx="0" cy="-1.5" rx="5.5" ry="3.6"/><ellipse cx="-3.05" cy="-5.45" rx="2.25" ry="3.07" transform="rotate(-8 -3.05 -5.45)"/><ellipse cx="3.05" cy="-5.45" rx="2.25" ry="3.07" transform="rotate(8 3.05 -5.45)"/><ellipse cx="-6.65" cy="-0.45" rx="2.25" ry="3.05" transform="rotate(-28 -6.65 -0.45)"/><ellipse cx="6.65" cy="-0.45" rx="2.25" ry="3.05" transform="rotate(28 6.65 -0.45)"/><path d="M0,0C2.4,0 4.1,2.2 5.3,4.3C6.2,5.9 6.6,7.5 5.8,8.2C5,8.9 3.7,8.4 2.5,7.9C1.3,7.45 -1.3,7.45 -2.5,7.9C-3.7,8.4 -5,8.9 -5.8,8.2C-6.6,7.5 -6.2,5.9 -5.3,4.3C-4.1,2.2 -2.4,0 0,0Z"/></g><g><ellipse cx="-3.05" cy="-5.45" rx="2.25" ry="3.07" transform="rotate(-8 -3.05 -5.45)"/><ellipse cx="3.05" cy="-5.45" rx="2.25" ry="3.07" transform="rotate(8 3.05 -5.45)"/><ellipse cx="-6.65" cy="-0.45" rx="2.25" ry="3.05" transform="rotate(-28 -6.65 -0.45)"/><ellipse cx="6.65" cy="-0.45" rx="2.25" ry="3.05" transform="rotate(28 6.65 -0.45)"/><path d="M0,0C2.4,0 4.1,2.2 5.3,4.3C6.2,5.9 6.6,7.5 5.8,8.2C5,8.9 3.7,8.4 2.5,7.9C1.3,7.45 -1.3,7.45 -2.5,7.9C-3.7,8.4 -5,8.9 -5.8,8.2C-6.6,7.5 -6.2,5.9 -5.3,4.3C-4.1,2.2 -2.4,0 0,0Z"/></g></svg>
<svg class="p" style="left:1151.20px;top:392.10px" width="26" height="24" viewBox="-13 -12 26 24"><g class="w"><ellipse cx="0" cy="-1.5" rx="5.5" ry="3.6"/><ellipse cx="-3.05" cy="-5.45" rx="2.25" ry="3.07" transform="rotate(-8 -3.05 -5.45)"/><ellipse cx="3.05" cy="-5.45" rx="2.25" ry="3.07" transform="rotate(8 3.05 -5.45)"/><ellipse cx="-6.65" cy="-0.45" rx="2.25" ry="3.05" transform="rotate(-28 -6.65 -0.45)"/><ellipse cx="6.65" cy="-0.45" rx="2.25" ry="3.05" transform="rotate(28 6.65 -0.45)"/><path d="M0,0C2.4,0 4.1,2.2 5.3,4.3C6.2,5.9 6.6,7.5 5.8,8.2C5,8.9 3.7,8.4 2.5,7.9C1.3,7.45 -1.3,7.45 -2.5,7.9C-3.7,8.4 -5,8.9 -5.8,8.2C-6.6,7.5 -6.2,5.9 -5.3,4.3C-4.1,2.2 -2.4,0 0,0Z"/></g><g><ellipse cx="-3.05" cy="-5.45" rx="2.25" ry="3.07" transform="rotate(-8 -3.05 -5.45)"/><ellipse cx="3.05" cy="-5.45" rx="2.25" ry="3.07" transform="rotate(8 3.05 -5.45)"/><ellipse cx="-6.65" cy="-0.45" rx="2.25" ry="3.05" transform="rotate(-28 -6.65 -0.45)"/><ellipse cx="6.65" cy="-0.45" rx="2.25" ry="3.05" transform="rotate(28 6.65 -0.45)"/><path d="M0,0C2.4,0 4.1,2.2 5.3,4.3C6.2,5.9 6.6,7.5 5.8,8.2C5,8.9 3.7,8.4 2.5,7.9C1.3,7.45 -1.3,7.45 -2.5,7.9C-3.7,8.4 -5,8.9 -5.8,8.2C-6.6,7.5 -6.2,5.9 -5.3,4.3C-4.1,2.2 -2.4,0 0,0Z"/></g></svg>
<svg class="p" style="left:131.20px;top:415.90px" width="26" height="24" viewBox="-13 -12 26 24"><g class="w"><ellipse cx="0" cy="-1.5" rx="5.5" ry="3.6"/><ellipse cx="-3.05" cy="-5.45" rx="2.25" ry="3.07" transform="rotate(-8 -3.05 -5.45)"/><ellipse cx="3.05" cy="-5.45" rx="2.25" ry="3.07" transform="rotate(8 3.05 -5.45)"/><ellipse cx="-6.65" cy="-0.45" rx="2.25" ry="3.05" transform="rotate(-28 -6.65 -0.45)"/><ellipse cx="6.65" cy="-0.45" rx="2.25" ry="3.05" transform="rotate(28 6.65 -0.45)"/><path d="M0,0C2.4,0 4.1,2.2 5.3,4.3C6.2,5.9 6.6,7.5 5.8,8.2C5,8.9 3.7,8.4 2.5,7.9C1.3,7.45 -1.3,7.45 -2.5,7.9C-3.7,8.4 -5,8.9 -5.8,8.2C-6.6,7.5 -6.2,5.9 -5.3,4.3C-4.1,2.2 -2.4,0 0,0Z"/></g><g><ellipse cx="-3.05" cy="-5.45" rx="2.25" ry="3.07" transform="rotate(-8 -3.05 -5.45)"/><ellipse cx="3.05" cy="-5.45" rx="2.25" ry="3.07" transform="rotate(8 3.05 -5.45)"/><ellipse cx="-6.65" cy="-0.45" rx="2.25" ry="3.05" transform="rotate(-28 -6.65 -0.45)"/><ellipse cx="6.65" cy="-0.45" rx="2.25" ry="3.05" transform="rotate(28 6.65 -0.45)"/><path d="M0,0C2.4,0 4.1,2.2 5.3,4.3C6.2,5.9 6.6,7.5 5.8,8.2C5,8.9 3.7,8.4 2.5,7.9C1.3,7.45 -1.3,7.45 -2.5,7.9C-3.7,8.4 -5,8.9 -5.8,8.2C-6.6,7.5 -6.2,5.9 -5.3,4.3C-4.1,2.2 -2.4,0 0,0Z"/></g></svg>
<svg class="p" style="left:286.70px;top:415.90px" width="26" height="24" viewBox="-13 -12 26 24"><g class="w"><ellipse cx="0" cy="-1.5" rx="5.5" ry="3.6"/><ellipse cx="-3.05" cy="-5.45" rx="2.25" ry="3.07" transform="rotate(-8 -3.05 -5.45)"/><ellipse cx="3.05" cy="-5.45" rx="2.25" ry="3.07" transform="rotate(8 3.05 -5.45)"/><ellipse cx="-6.65" cy="-0.45" rx="2.25" ry="3.05" transform="rotate(-28 -6.65 -0.45)"/><ellipse cx="6.65" cy="-0.45" rx="2.25" ry="3.05" transform="rotate(28 6.65 -0.45)"/><path d="M0,0C2.4,0 4.1,2.2 5.3,4.3C6.2,5.9 6.6,7.5 5.8,8.2C5,8.9 3.7,8.4 2.5,7.9C1.3,7.45 -1.3,7.45 -2.5,7.9C-3.7,8.4 -5,8.9 -5.8,8.2C-6.6,7.5 -6.2,5.9 -5.3,4.3C-4.1,2.2 -2.4,0 0,0Z"/></g><g><ellipse cx="-3.05" cy="-5.45" rx="2.25" ry="3.07" transform="rotate(-8 -3.05 -5.45)"/><ellipse cx="3.05" cy="-5.45" rx="2.25" ry="3.07" transform="rotate(8 3.05 -5.45)"/><ellipse cx="-6.65" cy="-0.45" rx="2.25" ry="3.05" transform="rotate(-28 -6.65 -0.45)"/><ellipse cx="6.65" cy="-0.45" rx="2.25" ry="3.05" transform="rotate(28 6.65 -0.45)"/><path d="M0,0C2.4,0 4.1,2.2 5.3,4.3C6.2,5.9 6.6,7.5 5.8,8.2C5,8.9 3.7,8.4 2.5,7.9C1.3,7.45 -1.3,7.45 -2.5,7.9C-3.7,8.4 -5,8.9 -5.8,8.2C-6.6,7.5 -6.2,5.9 -5.3,4.3C-4.1,2.2 -2.4,0 0,0Z"/></g></svg>
<svg class="p" style="left:617.70px;top:416.10px" width="26" height="24" viewBox="-13 -12 26 24"><g class="w"><ellipse cx="0" cy="-1.5" rx="5.5" ry="3.6"/><ellipse cx="-3.05" cy="-5.45" rx="2.25" ry="3.07" transform="rotate(-8 -3.05 -5.45)"/><ellipse cx="3.05" cy="-5.45" rx="2.25" ry="3.07" transform="rotate(8 3.05 -5.45)"/><ellipse cx="-6.65" cy="-0.45" rx="2.25" ry="3.05" transform="rotate(-28 -6.65 -0.45)"/><ellipse cx="6.65" cy="-0.45" rx="2.25" ry="3.05" transform="rotate(28 6.65 -0.45)"/><path d="M0,0C2.4,0 4.1,2.2 5.3,4.3C6.2,5.9 6.6,7.5 5.8,8.2C5,8.9 3.7,8.4 2.5,7.9C1.3,7.45 -1.3,7.45 -2.5,7.9C-3.7,8.4 -5,8.9 -5.8,8.2C-6.6,7.5 -6.2,5.9 -5.3,4.3C-4.1,2.2 -2.4,0 0,0Z"/></g><g><ellipse cx="-3.05" cy="-5.45" rx="2.25" ry="3.07" transform="rotate(-8 -3.05 -5.45)"/><ellipse cx="3.05" cy="-5.45" rx="2.25" ry="3.07" transform="rotate(8 3.05 -5.45)"/><ellipse cx="-6.65" cy="-0.45" rx="2.25" ry="3.05" transform="rotate(-28 -6.65 -0.45)"/><ellipse cx="6.65" cy="-0.45" rx="2.25" ry="3.05" transform="rotate(28 6.65 -0.45)"/><path d="M0,0C2.4,0 4.1,2.2 5.3,4.3C6.2,5.9 6.6,7.5 5.8,8.2C5,8.9 3.7,8.4 2.5,7.9C1.3,7.45 -1.3,7.45 -2.5,7.9C-3.7,8.4 -5,8.9 -5.8,8.2C-6.6,7.5 -6.2,5.9 -5.3,4.3C-4.1,2.2 -2.4,0 0,0Z"/></g></svg>
<svg class="p" style="left:770.20px;top:416.10px" width="26" height="24" viewBox="-13 -12 26 24"><g class="w"><ellipse cx="0" cy="-1.5" rx="5.5" ry="3.6"/><ellipse cx="-3.05" cy="-5.45" rx="2.25" ry="3.07" transform="rotate(-8 -3.05 -5.45)"/><ellipse cx="3.05" cy="-5.45" rx="2.25" ry="3.07" transform="rotate(8 3.05 -5.45)"/><ellipse cx="-6.65" cy="-0.45" rx="2.25" ry="3.05" transform="rotate(-28 -6.65 -0.45)"/><ellipse cx="6.65" cy="-0.45" rx="2.25" ry="3.05" transform="rotate(28 6.65 -0.45)"/><path d="M0,0C2.4,0 4.1,2.2 5.3,4.3C6.2,5.9 6.6,7.5 5.8,8.2C5,8.9 3.7,8.4 2.5,7.9C1.3,7.45 -1.3,7.45 -2.5,7.9C-3.7,8.4 -5,8.9 -5.8,8.2C-6.6,7.5 -6.2,5.9 -5.3,4.3C-4.1,2.2 -2.4,0 0,0Z"/></g><g><ellipse cx="-3.05" cy="-5.45" rx="2.25" ry="3.07" transform="rotate(-8 -3.05 -5.45)"/><ellipse cx="3.05" cy="-5.45" rx="2.25" ry="3.07" transform="rotate(8 3.05 -5.45)"/><ellipse cx="-6.65" cy="-0.45" rx="2.25" ry="3.05" transform="rotate(-28 -6.65 -0.45)"/><ellipse cx="6.65" cy="-0.45" rx="2.25" ry="3.05" transform="rotate(28 6.65 -0.45)"/><path d="M0,0C2.4,0 4.1,2.2 5.3,4.3C6.2,5.9 6.6,7.5 5.8,8.2C5,8.9 3.7,8.4 2.5,7.9C1.3,7.45 -1.3,7.45 -2.5,7.9C-3.7,8.4 -5,8.9 -5.8,8.2C-6.6,7.5 -6.2,5.9 -5.3,4.3C-4.1,2.2 -2.4,0 0,0Z"/></g></svg>
<svg class="p" style="left:847.70px;top:415.60px" width="26" height="24" viewBox="-13 -12 26 24"><g class="w"><ellipse cx="0" cy="-1.5" rx="5.5" ry="3.6"/><ellipse cx="-3.05" cy="-5.45" rx="2.25" ry="3.07" transform="rotate(-8 -3.05 -5.45)"/><ellipse cx="3.05" cy="-5.45" rx="2.25" ry="3.07" transform="rotate(8 3.05 -5.45)"/><ellipse cx="-6.65" cy="-0.45" rx="2.25" ry="3.05" transform="rotate(-28 -6.65 -0.45)"/><ellipse cx="6.65" cy="-0.45" rx="2.25" ry="3.05" transform="rotate(28 6.65 -0.45)"/><path d="M0,0C2.4,0 4.1,2.2 5.3,4.3C6.2,5.9 6.6,7.5 5.8,8.2C5,8.9 3.7,8.4 2.5,7.9C1.3,7.45 -1.3,7.45 -2.5,7.9C-3.7,8.4 -5,8.9 -5.8,8.2C-6.6,7.5 -6.2,5.9 -5.3,4.3C-4.1,2.2 -2.4,0 0,0Z"/></g><g><ellipse cx="-3.05" cy="-5.45" rx="2.25" ry="3.07" transform="rotate(-8 -3.05 -5.45)"/><ellipse cx="3.05" cy="-5.45" rx="2.25" ry="3.07" transform="rotate(8 3.05 -5.45)"/><ellipse cx="-6.65" cy="-0.45" rx="2.25" ry="3.05" transform="rotate(-28 -6.65 -0.45)"/><ellipse cx="6.65" cy="-0.45" rx="2.25" ry="3.05" transform="rotate(28 6.65 -0.45)"/><path d="M0,0C2.4,0 4.1,2.2 5.3,4.3C6.2,5.9 6.6,7.5 5.8,8.2C5,8.9 3.7,8.4 2.5,7.9C1.3,7.45 -1.3,7.45 -2.5,7.9C-3.7,8.4 -5,8.9 -5.8,8.2C-6.6,7.5 -6.2,5.9 -5.3,4.3C-4.1,2.2 -2.4,0 0,0Z"/></g></svg>
<svg class="p" style="left:1075.20px;top:416.00px" width="26" height="24" viewBox="-13 -12 26 24"><g class="w"><ellipse cx="0" cy="-1.5" rx="5.5" ry="3.6"/><ellipse cx="-3.05" cy="-5.45" rx="2.25" ry="3.07" transform="rotate(-8 -3.05 -5.45)"/><ellipse cx="3.05" cy="-5.45" rx="2.25" ry="3.07" transform="rotate(8 3.05 -5.45)"/><ellipse cx="-6.65" cy="-0.45" rx="2.25" ry="3.05" transform="rotate(-28 -6.65 -0.45)"/><ellipse cx="6.65" cy="-0.45" rx="2.25" ry="3.05" transform="rotate(28 6.65 -0.45)"/><path d="M0,0C2.4,0 4.1,2.2 5.3,4.3C6.2,5.9 6.6,7.5 5.8,8.2C5,8.9 3.7,8.4 2.5,7.9C1.3,7.45 -1.3,7.45 -2.5,7.9C-3.7,8.4 -5,8.9 -5.8,8.2C-6.6,7.5 -6.2,5.9 -5.3,4.3C-4.1,2.2 -2.4,0 0,0Z"/></g><g><ellipse cx="-3.05" cy="-5.45" rx="2.25" ry="3.07" transform="rotate(-8 -3.05 -5.45)"/><ellipse cx="3.05" cy="-5.45" rx="2.25" ry="3.07" transform="rotate(8 3.05 -5.45)"/><ellipse cx="-6.65" cy="-0.45" rx="2.25" ry="3.05" transform="rotate(-28 -6.65 -0.45)"/><ellipse cx="6.65" cy="-0.45" rx="2.25" ry="3.05" transform="rotate(28 6.65 -0.45)"/><path d="M0,0C2.4,0 4.1,2.2 5.3,4.3C6.2,5.9 6.6,7.5 5.8,8.2C5,8.9 3.7,8.4 2.5,7.9C1.3,7.45 -1.3,7.45 -2.5,7.9C-3.7,8.4 -5,8.9 -5.8,8.2C-6.6,7.5 -6.2,5.9 -5.3,4.3C-4.1,2.2 -2.4,0 0,0Z"/></g></svg>
<svg class="p" style="left:617.70px;top:442.50px" width="26" height="24" viewBox="-13 -12 26 24"><g class="w"><ellipse cx="0" cy="-1.5" rx="5.5" ry="3.6"/><ellipse cx="-3.05" cy="-5.45" rx="2.25" ry="3.07" transform="rotate(-8 -3.05 -5.45)"/><ellipse cx="3.05" cy="-5.45" rx="2.25" ry="3.07" transform="rotate(8 3.05 -5.45)"/><ellipse cx="-6.65" cy="-0.45" rx="2.25" ry="3.05" transform="rotate(-28 -6.65 -0.45)"/><ellipse cx="6.65" cy="-0.45" rx="2.25" ry="3.05" transform="rotate(28 6.65 -0.45)"/><path d="M0,0C2.4,0 4.1,2.2 5.3,4.3C6.2,5.9 6.6,7.5 5.8,8.2C5,8.9 3.7,8.4 2.5,7.9C1.3,7.45 -1.3,7.45 -2.5,7.9C-3.7,8.4 -5,8.9 -5.8,8.2C-6.6,7.5 -6.2,5.9 -5.3,4.3C-4.1,2.2 -2.4,0 0,0Z"/></g><g><ellipse cx="-3.05" cy="-5.45" rx="2.25" ry="3.07" transform="rotate(-8 -3.05 -5.45)"/><ellipse cx="3.05" cy="-5.45" rx="2.25" ry="3.07" transform="rotate(8 3.05 -5.45)"/><ellipse cx="-6.65" cy="-0.45" rx="2.25" ry="3.05" transform="rotate(-28 -6.65 -0.45)"/><ellipse cx="6.65" cy="-0.45" rx="2.25" ry="3.05" transform="rotate(28 6.65 -0.45)"/><path d="M0,0C2.4,0 4.1,2.2 5.3,4.3C6.2,5.9 6.6,7.5 5.8,8.2C5,8.9 3.7,8.4 2.5,7.9C1.3,7.45 -1.3,7.45 -2.5,7.9C-3.7,8.4 -5,8.9 -5.8,8.2C-6.6,7.5 -6.2,5.9 -5.3,4.3C-4.1,2.2 -2.4,0 0,0Z"/></g></svg>
<svg class="p" style="left:1075.20px;top:439.20px" width="26" height="24" viewBox="-13 -12 26 24"><g class="w"><ellipse cx="0" cy="-1.5" rx="5.5" ry="3.6"/><ellipse cx="-3.05" cy="-5.45" rx="2.25" ry="3.07" transform="rotate(-8 -3.05 -5.45)"/><ellipse cx="3.05" cy="-5.45" rx="2.25" ry="3.07" transform="rotate(8 3.05 -5.45)"/><ellipse cx="-6.65" cy="-0.45" rx="2.25" ry="3.05" transform="rotate(-28 -6.65 -0.45)"/><ellipse cx="6.65" cy="-0.45" rx="2.25" ry="3.05" transform="rotate(28 6.65 -0.45)"/><path d="M0,0C2.4,0 4.1,2.2 5.3,4.3C6.2,5.9 6.6,7.5 5.8,8.2C5,8.9 3.7,8.4 2.5,7.9C1.3,7.45 -1.3,7.45 -2.5,7.9C-3.7,8.4 -5,8.9 -5.8,8.2C-6.6,7.5 -6.2,5.9 -5.3,4.3C-4.1,2.2 -2.4,0 0,0Z"/></g><g><ellipse cx="-3.05" cy="-5.45" rx="2.25" ry="3.07" transform="rotate(-8 -3.05 -5.45)"/><ellipse cx="3.05" cy="-5.45" rx="2.25" ry="3.07" transform="rotate(8 3.05 -5.45)"/><ellipse cx="-6.65" cy="-0.45" rx="2.25" ry="3.05" transform="rotate(-28 -6.65 -0.45)"/><ellipse cx="6.65" cy="-0.45" rx="2.25" ry="3.05" transform="rotate(28 6.65 -0.45)"/><path d="M0,0C2.4,0 4.1,2.2 5.3,4.3C6.2,5.9 6.6,7.5 5.8,8.2C5,8.9 3.7,8.4 2.5,7.9C1.3,7.45 -1.3,7.45 -2.5,7.9C-3.7,8.4 -5,8.9 -5.8,8.2C-6.6,7.5 -6.2,5.9 -5.3,4.3C-4.1,2.2 -2.4,0 0,0Z"/></g></svg>
<svg class="p" style="left:1075.20px;top:466.10px" width="26" height="24" viewBox="-13 -12 26 24"><g class="w"><ellipse cx="0" cy="-1.5" rx="5.5" ry="3.6"/><ellipse cx="-3.05" cy="-5.45" rx="2.25" ry="3.07" transform="rotate(-8 -3.05 -5.45)"/><ellipse cx="3.05" cy="-5.45" rx="2.25" ry="3.07" transform="rotate(8 3.05 -5.45)"/><ellipse cx="-6.65" cy="-0.45" rx="2.25" ry="3.05" transform="rotate(-28 -6.65 -0.45)"/><ellipse cx="6.65" cy="-0.45" rx="2.25" ry="3.05" transform="rotate(28 6.65 -0.45)"/><path d="M0,0C2.4,0 4.1,2.2 5.3,4.3C6.2,5.9 6.6,7.5 5.8,8.2C5,8.9 3.7,8.4 2.5,7.9C1.3,7.45 -1.3,7.45 -2.5,7.9C-3.7,8.4 -5,8.9 -5.8,8.2C-6.6,7.5 -6.2,5.9 -5.3,4.3C-4.1,2.2 -2.4,0 0,0Z"/></g><g><ellipse cx="-3.05" cy="-5.45" rx="2.25" ry="3.07" transform="rotate(-8 -3.05 -5.45)"/><ellipse cx="3.05" cy="-5.45" rx="2.25" ry="3.07" transform="rotate(8 3.05 -5.45)"/><ellipse cx="-6.65" cy="-0.45" rx="2.25" ry="3.05" transform="rotate(-28 -6.65 -0.45)"/><ellipse cx="6.65" cy="-0.45" rx="2.25" ry="3.05" transform="rotate(28 6.65 -0.45)"/><path d="M0,0C2.4,0 4.1,2.2 5.3,4.3C6.2,5.9 6.6,7.5 5.8,8.2C5,8.9 3.7,8.4 2.5,7.9C1.3,7.45 -1.3,7.45 -2.5,7.9C-3.7,8.4 -5,8.9 -5.8,8.2C-6.6,7.5 -6.2,5.9 -5.3,4.3C-4.1,2.2 -2.4,0 0,0Z"/></g></svg>
<svg class="p" style="left:617.20px;top:492.50px" width="26" height="24" viewBox="-13 -12 26 24"><g class="w"><ellipse cx="0" cy="-1.5" rx="5.5" ry="3.6"/><ellipse cx="-3.05" cy="-5.45" rx="2.25" ry="3.07" transform="rotate(-8 -3.05 -5.45)"/><ellipse cx="3.05" cy="-5.45" rx="2.25" ry="3.07" transform="rotate(8 3.05 -5.45)"/><ellipse cx="-6.65" cy="-0.45" rx="2.25" ry="3.05" transform="rotate(-28 -6.65 -0.45)"/><ellipse cx="6.65" cy="-0.45" rx="2.25" ry="3.05" transform="rotate(28 6.65 -0.45)"/><path d="M0,0C2.4,0 4.1,2.2 5.3,4.3C6.2,5.9 6.6,7.5 5.8,8.2C5,8.9 3.7,8.4 2.5,7.9C1.3,7.45 -1.3,7.45 -2.5,7.9C-3.7,8.4 -5,8.9 -5.8,8.2C-6.6,7.5 -6.2,5.9 -5.3,4.3C-4.1,2.2 -2.4,0 0,0Z"/></g><g><ellipse cx="-3.05" cy="-5.45" rx="2.25" ry="3.07" transform="rotate(-8 -3.05 -5.45)"/><ellipse cx="3.05" cy="-5.45" rx="2.25" ry="3.07" transform="rotate(8 3.05 -5.45)"/><ellipse cx="-6.65" cy="-0.45" rx="2.25" ry="3.05" transform="rotate(-28 -6.65 -0.45)"/><ellipse cx="6.65" cy="-0.45" rx="2.25" ry="3.05" transform="rotate(28 6.65 -0.45)"/><path d="M0,0C2.4,0 4.1,2.2 5.3,4.3C6.2,5.9 6.6,7.5 5.8,8.2C5,8.9 3.7,8.4 2.5,7.9C1.3,7.45 -1.3,7.45 -2.5,7.9C-3.7,8.4 -5,8.9 -5.8,8.2C-6.6,7.5 -6.2,5.9 -5.3,4.3C-4.1,2.2 -2.4,0 0,0Z"/></g></svg>
<svg class="p" style="left:1075.20px;top:490.25px" width="26" height="24" viewBox="-13 -12 26 24"><g class="w"><ellipse cx="0" cy="-1.5" rx="5.5" ry="3.6"/><ellipse cx="-3.05" cy="-5.45" rx="2.25" ry="3.07" transform="rotate(-8 -3.05 -5.45)"/><ellipse cx="3.05" cy="-5.45" rx="2.25" ry="3.07" transform="rotate(8 3.05 -5.45)"/><ellipse cx="-6.65" cy="-0.45" rx="2.25" ry="3.05" transform="rotate(-28 -6.65 -0.45)"/><ellipse cx="6.65" cy="-0.45" rx="2.25" ry="3.05" transform="rotate(28 6.65 -0.45)"/><path d="M0,0C2.4,0 4.1,2.2 5.3,4.3C6.2,5.9 6.6,7.5 5.8,8.2C5,8.9 3.7,8.4 2.5,7.9C1.3,7.45 -1.3,7.45 -2.5,7.9C-3.7,8.4 -5,8.9 -5.8,8.2C-6.6,7.5 -6.2,5.9 -5.3,4.3C-4.1,2.2 -2.4,0 0,0Z"/></g><g><ellipse cx="-3.05" cy="-5.45" rx="2.25" ry="3.07" transform="rotate(-8 -3.05 -5.45)"/><ellipse cx="3.05" cy="-5.45" rx="2.25" ry="3.07" transform="rotate(8 3.05 -5.45)"/><ellipse cx="-6.65" cy="-0.45" rx="2.25" ry="3.05" transform="rotate(-28 -6.65 -0.45)"/><ellipse cx="6.65" cy="-0.45" rx="2.25" ry="3.05" transform="rotate(28 6.65 -0.45)"/><path d="M0,0C2.4,0 4.1,2.2 5.3,4.3C6.2,5.9 6.6,7.5 5.8,8.2C5,8.9 3.7,8.4 2.5,7.9C1.3,7.45 -1.3,7.45 -2.5,7.9C-3.7,8.4 -5,8.9 -5.8,8.2C-6.6,7.5 -6.2,5.9 -5.3,4.3C-4.1,2.2 -2.4,0 0,0Z"/></g></svg>
<svg class="p" style="left:286.70px;top:516.00px" width="26" height="24" viewBox="-13 -12 26 24"><g class="w"><ellipse cx="0" cy="-1.5" rx="5.5" ry="3.6"/><ellipse cx="-3.05" cy="-5.45" rx="2.25" ry="3.07" transform="rotate(-8 -3.05 -5.45)"/><ellipse cx="3.05" cy="-5.45" rx="2.25" ry="3.07" transform="rotate(8 3.05 -5.45)"/><ellipse cx="-6.65" cy="-0.45" rx="2.25" ry="3.05" transform="rotate(-28 -6.65 -0.45)"/><ellipse cx="6.65" cy="-0.45" rx="2.25" ry="3.05" transform="rotate(28 6.65 -0.45)"/><path d="M0,0C2.4,0 4.1,2.2 5.3,4.3C6.2,5.9 6.6,7.5 5.8,8.2C5,8.9 3.7,8.4 2.5,7.9C1.3,7.45 -1.3,7.45 -2.5,7.9C-3.7,8.4 -5,8.9 -5.8,8.2C-6.6,7.5 -6.2,5.9 -5.3,4.3C-4.1,2.2 -2.4,0 0,0Z"/></g><g><ellipse cx="-3.05" cy="-5.45" rx="2.25" ry="3.07" transform="rotate(-8 -3.05 -5.45)"/><ellipse cx="3.05" cy="-5.45" rx="2.25" ry="3.07" transform="rotate(8 3.05 -5.45)"/><ellipse cx="-6.65" cy="-0.45" rx="2.25" ry="3.05" transform="rotate(-28 -6.65 -0.45)"/><ellipse cx="6.65" cy="-0.45" rx="2.25" ry="3.05" transform="rotate(28 6.65 -0.45)"/><path d="M0,0C2.4,0 4.1,2.2 5.3,4.3C6.2,5.9 6.6,7.5 5.8,8.2C5,8.9 3.7,8.4 2.5,7.9C1.3,7.45 -1.3,7.45 -2.5,7.9C-3.7,8.4 -5,8.9 -5.8,8.2C-6.6,7.5 -6.2,5.9 -5.3,4.3C-4.1,2.2 -2.4,0 0,0Z"/></g></svg>
<svg class="p" style="left:617.70px;top:515.75px" width="26" height="24" viewBox="-13 -12 26 24"><g class="w"><ellipse cx="0" cy="-1.5" rx="5.5" ry="3.6"/><ellipse cx="-3.05" cy="-5.45" rx="2.25" ry="3.07" transform="rotate(-8 -3.05 -5.45)"/><ellipse cx="3.05" cy="-5.45" rx="2.25" ry="3.07" transform="rotate(8 3.05 -5.45)"/><ellipse cx="-6.65" cy="-0.45" rx="2.25" ry="3.05" transform="rotate(-28 -6.65 -0.45)"/><ellipse cx="6.65" cy="-0.45" rx="2.25" ry="3.05" transform="rotate(28 6.65 -0.45)"/><path d="M0,0C2.4,0 4.1,2.2 5.3,4.3C6.2,5.9 6.6,7.5 5.8,8.2C5,8.9 3.7,8.4 2.5,7.9C1.3,7.45 -1.3,7.45 -2.5,7.9C-3.7,8.4 -5,8.9 -5.8,8.2C-6.6,7.5 -6.2,5.9 -5.3,4.3C-4.1,2.2 -2.4,0 0,0Z"/></g><g><ellipse cx="-3.05" cy="-5.45" rx="2.25" ry="3.07" transform="rotate(-8 -3.05 -5.45)"/><ellipse cx="3.05" cy="-5.45" rx="2.25" ry="3.07" transform="rotate(8 3.05 -5.45)"/><ellipse cx="-6.65" cy="-0.45" rx="2.25" ry="3.05" transform="rotate(-28 -6.65 -0.45)"/><ellipse cx="6.65" cy="-0.45" rx="2.25" ry="3.05" transform="rotate(28 6.65 -0.45)"/><path d="M0,0C2.4,0 4.1,2.2 5.3,4.3C6.2,5.9 6.6,7.5 5.8,8.2C5,8.9 3.7,8.4 2.5,7.9C1.3,7.45 -1.3,7.45 -2.5,7.9C-3.7,8.4 -5,8.9 -5.8,8.2C-6.6,7.5 -6.2,5.9 -5.3,4.3C-4.1,2.2 -2.4,0 0,0Z"/></g></svg>
<svg class="p" style="left:1075.20px;top:516.00px" width="26" height="24" viewBox="-13 -12 26 24"><g class="w"><ellipse cx="0" cy="-1.5" rx="5.5" ry="3.6"/><ellipse cx="-3.05" cy="-5.45" rx="2.25" ry="3.07" transform="rotate(-8 -3.05 -5.45)"/><ellipse cx="3.05" cy="-5.45" rx="2.25" ry="3.07" transform="rotate(8 3.05 -5.45)"/><ellipse cx="-6.65" cy="-0.45" rx="2.25" ry="3.05" transform="rotate(-28 -6.65 -0.45)"/><ellipse cx="6.65" cy="-0.45" rx="2.25" ry="3.05" transform="rotate(28 6.65 -0.45)"/><path d="M0,0C2.4,0 4.1,2.2 5.3,4.3C6.2,5.9 6.6,7.5 5.8,8.2C5,8.9 3.7,8.4 2.5,7.9C1.3,7.45 -1.3,7.45 -2.5,7.9C-3.7,8.4 -5,8.9 -5.8,8.2C-6.6,7.5 -6.2,5.9 -5.3,4.3C-4.1,2.2 -2.4,0 0,0Z"/></g><g><ellipse cx="-3.05" cy="-5.45" rx="2.25" ry="3.07" transform="rotate(-8 -3.05 -5.45)"/><ellipse cx="3.05" cy="-5.45" rx="2.25" ry="3.07" transform="rotate(8 3.05 -5.45)"/><ellipse cx="-6.65" cy="-0.45" rx="2.25" ry="3.05" transform="rotate(-28 -6.65 -0.45)"/><ellipse cx="6.65" cy="-0.45" rx="2.25" ry="3.05" transform="rotate(28 6.65 -0.45)"/><path d="M0,0C2.4,0 4.1,2.2 5.3,4.3C6.2,5.9 6.6,7.5 5.8,8.2C5,8.9 3.7,8.4 2.5,7.9C1.3,7.45 -1.3,7.45 -2.5,7.9C-3.7,8.4 -5,8.9 -5.8,8.2C-6.6,7.5 -6.2,5.9 -5.3,4.3C-4.1,2.2 -2.4,0 0,0Z"/></g></svg>
<svg class="p" style="left:130.70px;top:540.10px" width="26" height="24" viewBox="-13 -12 26 24"><g class="w"><ellipse cx="0" cy="-1.5" rx="5.5" ry="3.6"/><ellipse cx="-3.05" cy="-5.45" rx="2.25" ry="3.07" transform="rotate(-8 -3.05 -5.45)"/><ellipse cx="3.05" cy="-5.45" rx="2.25" ry="3.07" transform="rotate(8 3.05 -5.45)"/><ellipse cx="-6.65" cy="-0.45" rx="2.25" ry="3.05" transform="rotate(-28 -6.65 -0.45)"/><ellipse cx="6.65" cy="-0.45" rx="2.25" ry="3.05" transform="rotate(28 6.65 -0.45)"/><path d="M0,0C2.4,0 4.1,2.2 5.3,4.3C6.2,5.9 6.6,7.5 5.8,8.2C5,8.9 3.7,8.4 2.5,7.9C1.3,7.45 -1.3,7.45 -2.5,7.9C-3.7,8.4 -5,8.9 -5.8,8.2C-6.6,7.5 -6.2,5.9 -5.3,4.3C-4.1,2.2 -2.4,0 0,0Z"/></g><g><ellipse cx="-3.05" cy="-5.45" rx="2.25" ry="3.07" transform="rotate(-8 -3.05 -5.45)"/><ellipse cx="3.05" cy="-5.45" rx="2.25" ry="3.07" transform="rotate(8 3.05 -5.45)"/><ellipse cx="-6.65" cy="-0.45" rx="2.25" ry="3.05" transform="rotate(-28 -6.65 -0.45)"/><ellipse cx="6.65" cy="-0.45" rx="2.25" ry="3.05" transform="rotate(28 6.65 -0.45)"/><path d="M0,0C2.4,0 4.1,2.2 5.3,4.3C6.2,5.9 6.6,7.5 5.8,8.2C5,8.9 3.7,8.4 2.5,7.9C1.3,7.45 -1.3,7.45 -2.5,7.9C-3.7,8.4 -5,8.9 -5.8,8.2C-6.6,7.5 -6.2,5.9 -5.3,4.3C-4.1,2.2 -2.4,0 0,0Z"/></g></svg>
<svg class="p" style="left:617.70px;top:538.50px" width="26" height="24" viewBox="-13 -12 26 24"><g class="w"><ellipse cx="0" cy="-1.5" rx="5.5" ry="3.6"/><ellipse cx="-3.05" cy="-5.45" rx="2.25" ry="3.07" transform="rotate(-8 -3.05 -5.45)"/><ellipse cx="3.05" cy="-5.45" rx="2.25" ry="3.07" transform="rotate(8 3.05 -5.45)"/><ellipse cx="-6.65" cy="-0.45" rx="2.25" ry="3.05" transform="rotate(-28 -6.65 -0.45)"/><ellipse cx="6.65" cy="-0.45" rx="2.25" ry="3.05" transform="rotate(28 6.65 -0.45)"/><path d="M0,0C2.4,0 4.1,2.2 5.3,4.3C6.2,5.9 6.6,7.5 5.8,8.2C5,8.9 3.7,8.4 2.5,7.9C1.3,7.45 -1.3,7.45 -2.5,7.9C-3.7,8.4 -5,8.9 -5.8,8.2C-6.6,7.5 -6.2,5.9 -5.3,4.3C-4.1,2.2 -2.4,0 0,0Z"/></g><g><ellipse cx="-3.05" cy="-5.45" rx="2.25" ry="3.07" transform="rotate(-8 -3.05 -5.45)"/><ellipse cx="3.05" cy="-5.45" rx="2.25" ry="3.07" transform="rotate(8 3.05 -5.45)"/><ellipse cx="-6.65" cy="-0.45" rx="2.25" ry="3.05" transform="rotate(-28 -6.65 -0.45)"/><ellipse cx="6.65" cy="-0.45" rx="2.25" ry="3.05" transform="rotate(28 6.65 -0.45)"/><path d="M0,0C2.4,0 4.1,2.2 5.3,4.3C6.2,5.9 6.6,7.5 5.8,8.2C5,8.9 3.7,8.4 2.5,7.9C1.3,7.45 -1.3,7.45 -2.5,7.9C-3.7,8.4 -5,8.9 -5.8,8.2C-6.6,7.5 -6.2,5.9 -5.3,4.3C-4.1,2.2 -2.4,0 0,0Z"/></g></svg>
<svg class="p" style="left:1075.20px;top:543.10px" width="26" height="24" viewBox="-13 -12 26 24"><g class="w"><ellipse cx="0" cy="-1.5" rx="5.5" ry="3.6"/><ellipse cx="-3.05" cy="-5.45" rx="2.25" ry="3.07" transform="rotate(-8 -3.05 -5.45)"/><ellipse cx="3.05" cy="-5.45" rx="2.25" ry="3.07" transform="rotate(8 3.05 -5.45)"/><ellipse cx="-6.65" cy="-0.45" rx="2.25" ry="3.05" transform="rotate(-28 -6.65 -0.45)"/><ellipse cx="6.65" cy="-0.45" rx="2.25" ry="3.05" transform="rotate(28 6.65 -0.45)"/><path d="M0,0C2.4,0 4.1,2.2 5.3,4.3C6.2,5.9 6.6,7.5 5.8,8.2C5,8.9 3.7,8.4 2.5,7.9C1.3,7.45 -1.3,7.45 -2.5,7.9C-3.7,8.4 -5,8.9 -5.8,8.2C-6.6,7.5 -6.2,5.9 -5.3,4.3C-4.1,2.2 -2.4,0 0,0Z"/></g><g><ellipse cx="-3.05" cy="-5.45" rx="2.25" ry="3.07" transform="rotate(-8 -3.05 -5.45)"/><ellipse cx="3.05" cy="-5.45" rx="2.25" ry="3.07" transform="rotate(8 3.05 -5.45)"/><ellipse cx="-6.65" cy="-0.45" rx="2.25" ry="3.05" transform="rotate(-28 -6.65 -0.45)"/><ellipse cx="6.65" cy="-0.45" rx="2.25" ry="3.05" transform="rotate(28 6.65 -0.45)"/><path d="M0,0C2.4,0 4.1,2.2 5.3,4.3C6.2,5.9 6.6,7.5 5.8,8.2C5,8.9 3.7,8.4 2.5,7.9C1.3,7.45 -1.3,7.45 -2.5,7.9C-3.7,8.4 -5,8.9 -5.8,8.2C-6.6,7.5 -6.2,5.9 -5.3,4.3C-4.1,2.2 -2.4,0 0,0Z"/></g></svg>
<svg class="p" style="left:617.70px;top:565.90px" width="26" height="24" viewBox="-13 -12 26 24"><g class="w"><ellipse cx="0" cy="-1.5" rx="5.5" ry="3.6"/><ellipse cx="-3.05" cy="-5.45" rx="2.25" ry="3.07" transform="rotate(-8 -3.05 -5.45)"/><ellipse cx="3.05" cy="-5.45" rx="2.25" ry="3.07" transform="rotate(8 3.05 -5.45)"/><ellipse cx="-6.65" cy="-0.45" rx="2.25" ry="3.05" transform="rotate(-28 -6.65 -0.45)"/><ellipse cx="6.65" cy="-0.45" rx="2.25" ry="3.05" transform="rotate(28 6.65 -0.45)"/><path d="M0,0C2.4,0 4.1,2.2 5.3,4.3C6.2,5.9 6.6,7.5 5.8,8.2C5,8.9 3.7,8.4 2.5,7.9C1.3,7.45 -1.3,7.45 -2.5,7.9C-3.7,8.4 -5,8.9 -5.8,8.2C-6.6,7.5 -6.2,5.9 -5.3,4.3C-4.1,2.2 -2.4,0 0,0Z"/></g><g><ellipse cx="-3.05" cy="-5.45" rx="2.25" ry="3.07" transform="rotate(-8 -3.05 -5.45)"/><ellipse cx="3.05" cy="-5.45" rx="2.25" ry="3.07" transform="rotate(8 3.05 -5.45)"/><ellipse cx="-6.65" cy="-0.45" rx="2.25" ry="3.05" transform="rotate(-28 -6.65 -0.45)"/><ellipse cx="6.65" cy="-0.45" rx="2.25" ry="3.05" transform="rotate(28 6.65 -0.45)"/><path d="M0,0C2.4,0 4.1,2.2 5.3,4.3C6.2,5.9 6.6,7.5 5.8,8.2C5,8.9 3.7,8.4 2.5,7.9C1.3,7.45 -1.3,7.45 -2.5,7.9C-3.7,8.4 -5,8.9 -5.8,8.2C-6.6,7.5 -6.2,5.9 -5.3,4.3C-4.1,2.2 -2.4,0 0,0Z"/></g></svg>
<svg class="p" style="left:1151.20px;top:566.00px" width="26" height="24" viewBox="-13 -12 26 24"><g class="w"><ellipse cx="0" cy="-1.5" rx="5.5" ry="3.6"/><ellipse cx="-3.05" cy="-5.45" rx="2.25" ry="3.07" transform="rotate(-8 -3.05 -5.45)"/><ellipse cx="3.05" cy="-5.45" rx="2.25" ry="3.07" transform="rotate(8 3.05 -5.45)"/><ellipse cx="-6.65" cy="-0.45" rx="2.25" ry="3.05" transform="rotate(-28 -6.65 -0.45)"/><ellipse cx="6.65" cy="-0.45" rx="2.25" ry="3.05" transform="rotate(28 6.65 -0.45)"/><path d="M0,0C2.4,0 4.1,2.2 5.3,4.3C6.2,5.9 6.6,7.5 5.8,8.2C5,8.9 3.7,8.4 2.5,7.9C1.3,7.45 -1.3,7.45 -2.5,7.9C-3.7,8.4 -5,8.9 -5.8,8.2C-6.6,7.5 -6.2,5.9 -5.3,4.3C-4.1,2.2 -2.4,0 0,0Z"/></g><g><ellipse cx="-3.05" cy="-5.45" rx="2.25" ry="3.07" transform="rotate(-8 -3.05 -5.45)"/><ellipse cx="3.05" cy="-5.45" rx="2.25" ry="3.07" transform="rotate(8 3.05 -5.45)"/><ellipse cx="-6.65" cy="-0.45" rx="2.25" ry="3.05" transform="rotate(-28 -6.65 -0.45)"/><ellipse cx="6.65" cy="-0.45" rx="2.25" ry="3.05" transform="rotate(28 6.65 -0.45)"/><path d="M0,0C2.4,0 4.1,2.2 5.3,4.3C6.2,5.9 6.6,7.5 5.8,8.2C5,8.9 3.7,8.4 2.5,7.9C1.3,7.45 -1.3,7.45 -2.5,7.9C-3.7,8.4 -5,8.9 -5.8,8.2C-6.6,7.5 -6.2,5.9 -5.3,4.3C-4.1,2.2 -2.4,0 0,0Z"/></g></svg>
<svg class="p" style="left:130.70px;top:590.90px" width="26" height="24" viewBox="-13 -12 26 24"><g class="w"><ellipse cx="0" cy="-1.5" rx="5.5" ry="3.6"/><ellipse cx="-3.05" cy="-5.45" rx="2.25" ry="3.07" transform="rotate(-8 -3.05 -5.45)"/><ellipse cx="3.05" cy="-5.45" rx="2.25" ry="3.07" transform="rotate(8 3.05 -5.45)"/><ellipse cx="-6.65" cy="-0.45" rx="2.25" ry="3.05" transform="rotate(-28 -6.65 -0.45)"/><ellipse cx="6.65" cy="-0.45" rx="2.25" ry="3.05" transform="rotate(28 6.65 -0.45)"/><path d="M0,0C2.4,0 4.1,2.2 5.3,4.3C6.2,5.9 6.6,7.5 5.8,8.2C5,8.9 3.7,8.4 2.5,7.9C1.3,7.45 -1.3,7.45 -2.5,7.9C-3.7,8.4 -5,8.9 -5.8,8.2C-6.6,7.5 -6.2,5.9 -5.3,4.3C-4.1,2.2 -2.4,0 0,0Z"/></g><g><ellipse cx="-3.05" cy="-5.45" rx="2.25" ry="3.07" transform="rotate(-8 -3.05 -5.45)"/><ellipse cx="3.05" cy="-5.45" rx="2.25" ry="3.07" transform="rotate(8 3.05 -5.45)"/><ellipse cx="-6.65" cy="-0.45" rx="2.25" ry="3.05" transform="rotate(-28 -6.65 -0.45)"/><ellipse cx="6.65" cy="-0.45" rx="2.25" ry="3.05" transform="rotate(28 6.65 -0.45)"/><path d="M0,0C2.4,0 4.1,2.2 5.3,4.3C6.2,5.9 6.6,7.5 5.8,8.2C5,8.9 3.7,8.4 2.5,7.9C1.3,7.45 -1.3,7.45 -2.5,7.9C-3.7,8.4 -5,8.9 -5.8,8.2C-6.6,7.5 -6.2,5.9 -5.3,4.3C-4.1,2.2 -2.4,0 0,0Z"/></g></svg>
<svg class="p" style="left:617.70px;top:590.50px" width="26" height="24" viewBox="-13 -12 26 24"><g class="w"><ellipse cx="0" cy="-1.5" rx="5.5" ry="3.6"/><ellipse cx="-3.05" cy="-5.45" rx="2.25" ry="3.07" transform="rotate(-8 -3.05 -5.45)"/><ellipse cx="3.05" cy="-5.45" rx="2.25" ry="3.07" transform="rotate(8 3.05 -5.45)"/><ellipse cx="-6.65" cy="-0.45" rx="2.25" ry="3.05" transform="rotate(-28 -6.65 -0.45)"/><ellipse cx="6.65" cy="-0.45" rx="2.25" ry="3.05" transform="rotate(28 6.65 -0.45)"/><path d="M0,0C2.4,0 4.1,2.2 5.3,4.3C6.2,5.9 6.6,7.5 5.8,8.2C5,8.9 3.7,8.4 2.5,7.9C1.3,7.45 -1.3,7.45 -2.5,7.9C-3.7,8.4 -5,8.9 -5.8,8.2C-6.6,7.5 -6.2,5.9 -5.3,4.3C-4.1,2.2 -2.4,0 0,0Z"/></g><g><ellipse cx="-3.05" cy="-5.45" rx="2.25" ry="3.07" transform="rotate(-8 -3.05 -5.45)"/><ellipse cx="3.05" cy="-5.45" rx="2.25" ry="3.07" transform="rotate(8 3.05 -5.45)"/><ellipse cx="-6.65" cy="-0.45" rx="2.25" ry="3.05" transform="rotate(-28 -6.65 -0.45)"/><ellipse cx="6.65" cy="-0.45" rx="2.25" ry="3.05" transform="rotate(28 6.65 -0.45)"/><path d="M0,0C2.4,0 4.1,2.2 5.3,4.3C6.2,5.9 6.6,7.5 5.8,8.2C5,8.9 3.7,8.4 2.5,7.9C1.3,7.45 -1.3,7.45 -2.5,7.9C-3.7,8.4 -5,8.9 -5.8,8.2C-6.6,7.5 -6.2,5.9 -5.3,4.3C-4.1,2.2 -2.4,0 0,0Z"/></g></svg>
<svg class="p" style="left:1075.20px;top:592.60px" width="26" height="24" viewBox="-13 -12 26 24"><g class="w"><ellipse cx="0" cy="-1.5" rx="5.5" ry="3.6"/><ellipse cx="-3.05" cy="-5.45" rx="2.25" ry="3.07" transform="rotate(-8 -3.05 -5.45)"/><ellipse cx="3.05" cy="-5.45" rx="2.25" ry="3.07" transform="rotate(8 3.05 -5.45)"/><ellipse cx="-6.65" cy="-0.45" rx="2.25" ry="3.05" transform="rotate(-28 -6.65 -0.45)"/><ellipse cx="6.65" cy="-0.45" rx="2.25" ry="3.05" transform="rotate(28 6.65 -0.45)"/><path d="M0,0C2.4,0 4.1,2.2 5.3,4.3C6.2,5.9 6.6,7.5 5.8,8.2C5,8.9 3.7,8.4 2.5,7.9C1.3,7.45 -1.3,7.45 -2.5,7.9C-3.7,8.4 -5,8.9 -5.8,8.2C-6.6,7.5 -6.2,5.9 -5.3,4.3C-4.1,2.2 -2.4,0 0,0Z"/></g><g><ellipse cx="-3.05" cy="-5.45" rx="2.25" ry="3.07" transform="rotate(-8 -3.05 -5.45)"/><ellipse cx="3.05" cy="-5.45" rx="2.25" ry="3.07" transform="rotate(8 3.05 -5.45)"/><ellipse cx="-6.65" cy="-0.45" rx="2.25" ry="3.05" transform="rotate(-28 -6.65 -0.45)"/><ellipse cx="6.65" cy="-0.45" rx="2.25" ry="3.05" transform="rotate(28 6.65 -0.45)"/><path d="M0,0C2.4,0 4.1,2.2 5.3,4.3C6.2,5.9 6.6,7.5 5.8,8.2C5,8.9 3.7,8.4 2.5,7.9C1.3,7.45 -1.3,7.45 -2.5,7.9C-3.7,8.4 -5,8.9 -5.8,8.2C-6.6,7.5 -6.2,5.9 -5.3,4.3C-4.1,2.2 -2.4,0 0,0Z"/></g></svg>
<svg class="p" style="left:1151.20px;top:593.00px" width="26" height="24" viewBox="-13 -12 26 24"><g class="w"><ellipse cx="0" cy="-1.5" rx="5.5" ry="3.6"/><ellipse cx="-3.05" cy="-5.45" rx="2.25" ry="3.07" transform="rotate(-8 -3.05 -5.45)"/><ellipse cx="3.05" cy="-5.45" rx="2.25" ry="3.07" transform="rotate(8 3.05 -5.45)"/><ellipse cx="-6.65" cy="-0.45" rx="2.25" ry="3.05" transform="rotate(-28 -6.65 -0.45)"/><ellipse cx="6.65" cy="-0.45" rx="2.25" ry="3.05" transform="rotate(28 6.65 -0.45)"/><path d="M0,0C2.4,0 4.1,2.2 5.3,4.3C6.2,5.9 6.6,7.5 5.8,8.2C5,8.9 3.7,8.4 2.5,7.9C1.3,7.45 -1.3,7.45 -2.5,7.9C-3.7,8.4 -5,8.9 -5.8,8.2C-6.6,7.5 -6.2,5.9 -5.3,4.3C-4.1,2.2 -2.4,0 0,0Z"/></g><g><ellipse cx="-3.05" cy="-5.45" rx="2.25" ry="3.07" transform="rotate(-8 -3.05 -5.45)"/><ellipse cx="3.05" cy="-5.45" rx="2.25" ry="3.07" transform="rotate(8 3.05 -5.45)"/><ellipse cx="-6.65" cy="-0.45" rx="2.25" ry="3.05" transform="rotate(-28 -6.65 -0.45)"/><ellipse cx="6.65" cy="-0.45" rx="2.25" ry="3.05" transform="rotate(28 6.65 -0.45)"/><path d="M0,0C2.4,0 4.1,2.2 5.3,4.3C6.2,5.9 6.6,7.5 5.8,8.2C5,8.9 3.7,8.4 2.5,7.9C1.3,7.45 -1.3,7.45 -2.5,7.9C-3.7,8.4 -5,8.9 -5.8,8.2C-6.6,7.5 -6.2,5.9 -5.3,4.3C-4.1,2.2 -2.4,0 0,0Z"/></g></svg>
<svg class="p" style="left:287.00px;top:616.50px" width="26" height="24" viewBox="-13 -12 26 24"><g class="w"><ellipse cx="0" cy="-1.5" rx="5.5" ry="3.6"/><ellipse cx="-3.05" cy="-5.45" rx="2.25" ry="3.07" transform="rotate(-8 -3.05 -5.45)"/><ellipse cx="3.05" cy="-5.45" rx="2.25" ry="3.07" transform="rotate(8 3.05 -5.45)"/><ellipse cx="-6.65" cy="-0.45" rx="2.25" ry="3.05" transform="rotate(-28 -6.65 -0.45)"/><ellipse cx="6.65" cy="-0.45" rx="2.25" ry="3.05" transform="rotate(28 6.65 -0.45)"/><path d="M0,0C2.4,0 4.1,2.2 5.3,4.3C6.2,5.9 6.6,7.5 5.8,8.2C5,8.9 3.7,8.4 2.5,7.9C1.3,7.45 -1.3,7.45 -2.5,7.9C-3.7,8.4 -5,8.9 -5.8,8.2C-6.6,7.5 -6.2,5.9 -5.3,4.3C-4.1,2.2 -2.4,0 0,0Z"/></g><g><ellipse cx="-3.05" cy="-5.45" rx="2.25" ry="3.07" transform="rotate(-8 -3.05 -5.45)"/><ellipse cx="3.05" cy="-5.45" rx="2.25" ry="3.07" transform="rotate(8 3.05 -5.45)"/><ellipse cx="-6.65" cy="-0.45" rx="2.25" ry="3.05" transform="rotate(-28 -6.65 -0.45)"/><ellipse cx="6.65" cy="-0.45" rx="2.25" ry="3.05" transform="rotate(28 6.65 -0.45)"/><path d="M0,0C2.4,0 4.1,2.2 5.3,4.3C6.2,5.9 6.6,7.5 5.8,8.2C5,8.9 3.7,8.4 2.5,7.9C1.3,7.45 -1.3,7.45 -2.5,7.9C-3.7,8.4 -5,8.9 -5.8,8.2C-6.6,7.5 -6.2,5.9 -5.3,4.3C-4.1,2.2 -2.4,0 0,0Z"/></g></svg>
<svg class="p" style="left:514.40px;top:615.60px" width="26" height="24" viewBox="-13 -12 26 24"><g class="w"><ellipse cx="0" cy="-1.5" rx="5.5" ry="3.6"/><ellipse cx="-3.05" cy="-5.45" rx="2.25" ry="3.07" transform="rotate(-8 -3.05 -5.45)"/><ellipse cx="3.05" cy="-5.45" rx="2.25" ry="3.07" transform="rotate(8 3.05 -5.45)"/><ellipse cx="-6.65" cy="-0.45" rx="2.25" ry="3.05" transform="rotate(-28 -6.65 -0.45)"/><ellipse cx="6.65" cy="-0.45" rx="2.25" ry="3.05" transform="rotate(28 6.65 -0.45)"/><path d="M0,0C2.4,0 4.1,2.2 5.3,4.3C6.2,5.9 6.6,7.5 5.8,8.2C5,8.9 3.7,8.4 2.5,7.9C1.3,7.45 -1.3,7.45 -2.5,7.9C-3.7,8.4 -5,8.9 -5.8,8.2C-6.6,7.5 -6.2,5.9 -5.3,4.3C-4.1,2.2 -2.4,0 0,0Z"/></g><g><ellipse cx="-3.05" cy="-5.45" rx="2.25" ry="3.07" transform="rotate(-8 -3.05 -5.45)"/><ellipse cx="3.05" cy="-5.45" rx="2.25" ry="3.07" transform="rotate(8 3.05 -5.45)"/><ellipse cx="-6.65" cy="-0.45" rx="2.25" ry="3.05" transform="rotate(-28 -6.65 -0.45)"/><ellipse cx="6.65" cy="-0.45" rx="2.25" ry="3.05" transform="rotate(28 6.65 -0.45)"/><path d="M0,0C2.4,0 4.1,2.2 5.3,4.3C6.2,5.9 6.6,7.5 5.8,8.2C5,8.9 3.7,8.4 2.5,7.9C1.3,7.45 -1.3,7.45 -2.5,7.9C-3.7,8.4 -5,8.9 -5.8,8.2C-6.6,7.5 -6.2,5.9 -5.3,4.3C-4.1,2.2 -2.4,0 0,0Z"/></g></svg>
<svg class="p" style="left:847.70px;top:616.10px" width="26" height="24" viewBox="-13 -12 26 24"><g class="w"><ellipse cx="0" cy="-1.5" rx="5.5" ry="3.6"/><ellipse cx="-3.05" cy="-5.45" rx="2.25" ry="3.07" transform="rotate(-8 -3.05 -5.45)"/><ellipse cx="3.05" cy="-5.45" rx="2.25" ry="3.07" transform="rotate(8 3.05 -5.45)"/><ellipse cx="-6.65" cy="-0.45" rx="2.25" ry="3.05" transform="rotate(-28 -6.65 -0.45)"/><ellipse cx="6.65" cy="-0.45" rx="2.25" ry="3.05" transform="rotate(28 6.65 -0.45)"/><path d="M0,0C2.4,0 4.1,2.2 5.3,4.3C6.2,5.9 6.6,7.5 5.8,8.2C5,8.9 3.7,8.4 2.5,7.9C1.3,7.45 -1.3,7.45 -2.5,7.9C-3.7,8.4 -5,8.9 -5.8,8.2C-6.6,7.5 -6.2,5.9 -5.3,4.3C-4.1,2.2 -2.4,0 0,0Z"/></g><g><ellipse cx="-3.05" cy="-5.45" rx="2.25" ry="3.07" transform="rotate(-8 -3.05 -5.45)"/><ellipse cx="3.05" cy="-5.45" rx="2.25" ry="3.07" transform="rotate(8 3.05 -5.45)"/><ellipse cx="-6.65" cy="-0.45" rx="2.25" ry="3.05" transform="rotate(-28 -6.65 -0.45)"/><ellipse cx="6.65" cy="-0.45" rx="2.25" ry="3.05" transform="rotate(28 6.65 -0.45)"/><path d="M0,0C2.4,0 4.1,2.2 5.3,4.3C6.2,5.9 6.6,7.5 5.8,8.2C5,8.9 3.7,8.4 2.5,7.9C1.3,7.45 -1.3,7.45 -2.5,7.9C-3.7,8.4 -5,8.9 -5.8,8.2C-6.6,7.5 -6.2,5.9 -5.3,4.3C-4.1,2.2 -2.4,0 0,0Z"/></g></svg>
<svg class="p" style="left:998.40px;top:615.60px" width="26" height="24" viewBox="-13 -12 26 24"><g class="w"><ellipse cx="0" cy="-1.5" rx="5.5" ry="3.6"/><ellipse cx="-3.05" cy="-5.45" rx="2.25" ry="3.07" transform="rotate(-8 -3.05 -5.45)"/><ellipse cx="3.05" cy="-5.45" rx="2.25" ry="3.07" transform="rotate(8 3.05 -5.45)"/><ellipse cx="-6.65" cy="-0.45" rx="2.25" ry="3.05" transform="rotate(-28 -6.65 -0.45)"/><ellipse cx="6.65" cy="-0.45" rx="2.25" ry="3.05" transform="rotate(28 6.65 -0.45)"/><path d="M0,0C2.4,0 4.1,2.2 5.3,4.3C6.2,5.9 6.6,7.5 5.8,8.2C5,8.9 3.7,8.4 2.5,7.9C1.3,7.45 -1.3,7.45 -2.5,7.9C-3.7,8.4 -5,8.9 -5.8,8.2C-6.6,7.5 -6.2,5.9 -5.3,4.3C-4.1,2.2 -2.4,0 0,0Z"/></g><g><ellipse cx="-3.05" cy="-5.45" rx="2.25" ry="3.07" transform="rotate(-8 -3.05 -5.45)"/><ellipse cx="3.05" cy="-5.45" rx="2.25" ry="3.07" transform="rotate(8 3.05 -5.45)"/><ellipse cx="-6.65" cy="-0.45" rx="2.25" ry="3.05" transform="rotate(-28 -6.65 -0.45)"/><ellipse cx="6.65" cy="-0.45" rx="2.25" ry="3.05" transform="rotate(28 6.65 -0.45)"/><path d="M0,0C2.4,0 4.1,2.2 5.3,4.3C6.2,5.9 6.6,7.5 5.8,8.2C5,8.9 3.7,8.4 2.5,7.9C1.3,7.45 -1.3,7.45 -2.5,7.9C-3.7,8.4 -5,8.9 -5.8,8.2C-6.6,7.5 -6.2,5.9 -5.3,4.3C-4.1,2.2 -2.4,0 0,0Z"/></g></svg>
<svg class="p" style="left:287.00px;top:640.25px" width="26" height="24" viewBox="-13 -12 26 24"><g class="w"><ellipse cx="0" cy="-1.5" rx="5.5" ry="3.6"/><ellipse cx="-3.05" cy="-5.45" rx="2.25" ry="3.07" transform="rotate(-8 -3.05 -5.45)"/><ellipse cx="3.05" cy="-5.45" rx="2.25" ry="3.07" transform="rotate(8 3.05 -5.45)"/><ellipse cx="-6.65" cy="-0.45" rx="2.25" ry="3.05" transform="rotate(-28 -6.65 -0.45)"/><ellipse cx="6.65" cy="-0.45" rx="2.25" ry="3.05" transform="rotate(28 6.65 -0.45)"/><path d="M0,0C2.4,0 4.1,2.2 5.3,4.3C6.2,5.9 6.6,7.5 5.8,8.2C5,8.9 3.7,8.4 2.5,7.9C1.3,7.45 -1.3,7.45 -2.5,7.9C-3.7,8.4 -5,8.9 -5.8,8.2C-6.6,7.5 -6.2,5.9 -5.3,4.3C-4.1,2.2 -2.4,0 0,0Z"/></g><g><ellipse cx="-3.05" cy="-5.45" rx="2.25" ry="3.07" transform="rotate(-8 -3.05 -5.45)"/><ellipse cx="3.05" cy="-5.45" rx="2.25" ry="3.07" transform="rotate(8 3.05 -5.45)"/><ellipse cx="-6.65" cy="-0.45" rx="2.25" ry="3.05" transform="rotate(-28 -6.65 -0.45)"/><ellipse cx="6.65" cy="-0.45" rx="2.25" ry="3.05" transform="rotate(28 6.65 -0.45)"/><path d="M0,0C2.4,0 4.1,2.2 5.3,4.3C6.2,5.9 6.6,7.5 5.8,8.2C5,8.9 3.7,8.4 2.5,7.9C1.3,7.45 -1.3,7.45 -2.5,7.9C-3.7,8.4 -5,8.9 -5.8,8.2C-6.6,7.5 -6.2,5.9 -5.3,4.3C-4.1,2.2 -2.4,0 0,0Z"/></g></svg>
<svg class="p" style="left:514.40px;top:642.10px" width="26" height="24" viewBox="-13 -12 26 24"><g class="w"><ellipse cx="0" cy="-1.5" rx="5.5" ry="3.6"/><ellipse cx="-3.05" cy="-5.45" rx="2.25" ry="3.07" transform="rotate(-8 -3.05 -5.45)"/><ellipse cx="3.05" cy="-5.45" rx="2.25" ry="3.07" transform="rotate(8 3.05 -5.45)"/><ellipse cx="-6.65" cy="-0.45" rx="2.25" ry="3.05" transform="rotate(-28 -6.65 -0.45)"/><ellipse cx="6.65" cy="-0.45" rx="2.25" ry="3.05" transform="rotate(28 6.65 -0.45)"/><path d="M0,0C2.4,0 4.1,2.2 5.3,4.3C6.2,5.9 6.6,7.5 5.8,8.2C5,8.9 3.7,8.4 2.5,7.9C1.3,7.45 -1.3,7.45 -2.5,7.9C-3.7,8.4 -5,8.9 -5.8,8.2C-6.6,7.5 -6.2,5.9 -5.3,4.3C-4.1,2.2 -2.4,0 0,0Z"/></g><g><ellipse cx="-3.05" cy="-5.45" rx="2.25" ry="3.07" transform="rotate(-8 -3.05 -5.45)"/><ellipse cx="3.05" cy="-5.45" rx="2.25" ry="3.07" transform="rotate(8 3.05 -5.45)"/><ellipse cx="-6.65" cy="-0.45" rx="2.25" ry="3.05" transform="rotate(-28 -6.65 -0.45)"/><ellipse cx="6.65" cy="-0.45" rx="2.25" ry="3.05" transform="rotate(28 6.65 -0.45)"/><path d="M0,0C2.4,0 4.1,2.2 5.3,4.3C6.2,5.9 6.6,7.5 5.8,8.2C5,8.9 3.7,8.4 2.5,7.9C1.3,7.45 -1.3,7.45 -2.5,7.9C-3.7,8.4 -5,8.9 -5.8,8.2C-6.6,7.5 -6.2,5.9 -5.3,4.3C-4.1,2.2 -2.4,0 0,0Z"/></g></svg>
<svg class="p" style="left:132.20px;top:665.90px" width="26" height="24" viewBox="-13 -12 26 24"><g class="w"><ellipse cx="0" cy="-1.5" rx="5.5" ry="3.6"/><ellipse cx="-3.05" cy="-5.45" rx="2.25" ry="3.07" transform="rotate(-8 -3.05 -5.45)"/><ellipse cx="3.05" cy="-5.45" rx="2.25" ry="3.07" transform="rotate(8 3.05 -5.45)"/><ellipse cx="-6.65" cy="-0.45" rx="2.25" ry="3.05" transform="rotate(-28 -6.65 -0.45)"/><ellipse cx="6.65" cy="-0.45" rx="2.25" ry="3.05" transform="rotate(28 6.65 -0.45)"/><path d="M0,0C2.4,0 4.1,2.2 5.3,4.3C6.2,5.9 6.6,7.5 5.8,8.2C5,8.9 3.7,8.4 2.5,7.9C1.3,7.45 -1.3,7.45 -2.5,7.9C-3.7,8.4 -5,8.9 -5.8,8.2C-6.6,7.5 -6.2,5.9 -5.3,4.3C-4.1,2.2 -2.4,0 0,0Z"/></g><g><ellipse cx="-3.05" cy="-5.45" rx="2.25" ry="3.07" transform="rotate(-8 -3.05 -5.45)"/><ellipse cx="3.05" cy="-5.45" rx="2.25" ry="3.07" transform="rotate(8 3.05 -5.45)"/><ellipse cx="-6.65" cy="-0.45" rx="2.25" ry="3.05" transform="rotate(-28 -6.65 -0.45)"/><ellipse cx="6.65" cy="-0.45" rx="2.25" ry="3.05" transform="rotate(28 6.65 -0.45)"/><path d="M0,0C2.4,0 4.1,2.2 5.3,4.3C6.2,5.9 6.6,7.5 5.8,8.2C5,8.9 3.7,8.4 2.5,7.9C1.3,7.45 -1.3,7.45 -2.5,7.9C-3.7,8.4 -5,8.9 -5.8,8.2C-6.6,7.5 -6.2,5.9 -5.3,4.3C-4.1,2.2 -2.4,0 0,0Z"/></g></svg>
<svg class="p" style="left:207.50px;top:665.90px" width="26" height="24" viewBox="-13 -12 26 24"><g class="w"><ellipse cx="0" cy="-1.5" rx="5.5" ry="3.6"/><ellipse cx="-3.05" cy="-5.45" rx="2.25" ry="3.07" transform="rotate(-8 -3.05 -5.45)"/><ellipse cx="3.05" cy="-5.45" rx="2.25" ry="3.07" transform="rotate(8 3.05 -5.45)"/><ellipse cx="-6.65" cy="-0.45" rx="2.25" ry="3.05" transform="rotate(-28 -6.65 -0.45)"/><ellipse cx="6.65" cy="-0.45" rx="2.25" ry="3.05" transform="rotate(28 6.65 -0.45)"/><path d="M0,0C2.4,0 4.1,2.2 5.3,4.3C6.2,5.9 6.6,7.5 5.8,8.2C5,8.9 3.7,8.4 2.5,7.9C1.3,7.45 -1.3,7.45 -2.5,7.9C-3.7,8.4 -5,8.9 -5.8,8.2C-6.6,7.5 -6.2,5.9 -5.3,4.3C-4.1,2.2 -2.4,0 0,0Z"/></g><g><ellipse cx="-3.05" cy="-5.45" rx="2.25" ry="3.07" transform="rotate(-8 -3.05 -5.45)"/><ellipse cx="3.05" cy="-5.45" rx="2.25" ry="3.07" transform="rotate(8 3.05 -5.45)"/><ellipse cx="-6.65" cy="-0.45" rx="2.25" ry="3.05" transform="rotate(-28 -6.65 -0.45)"/><ellipse cx="6.65" cy="-0.45" rx="2.25" ry="3.05" transform="rotate(28 6.65 -0.45)"/><path d="M0,0C2.4,0 4.1,2.2 5.3,4.3C6.2,5.9 6.6,7.5 5.8,8.2C5,8.9 3.7,8.4 2.5,7.9C1.3,7.45 -1.3,7.45 -2.5,7.9C-3.7,8.4 -5,8.9 -5.8,8.2C-6.6,7.5 -6.2,5.9 -5.3,4.3C-4.1,2.2 -2.4,0 0,0Z"/></g></svg>
<svg class="p" style="left:439.00px;top:666.40px" width="26" height="24" viewBox="-13 -12 26 24"><g class="w"><ellipse cx="0" cy="-1.5" rx="5.5" ry="3.6"/><ellipse cx="-3.05" cy="-5.45" rx="2.25" ry="3.07" transform="rotate(-8 -3.05 -5.45)"/><ellipse cx="3.05" cy="-5.45" rx="2.25" ry="3.07" transform="rotate(8 3.05 -5.45)"/><ellipse cx="-6.65" cy="-0.45" rx="2.25" ry="3.05" transform="rotate(-28 -6.65 -0.45)"/><ellipse cx="6.65" cy="-0.45" rx="2.25" ry="3.05" transform="rotate(28 6.65 -0.45)"/><path d="M0,0C2.4,0 4.1,2.2 5.3,4.3C6.2,5.9 6.6,7.5 5.8,8.2C5,8.9 3.7,8.4 2.5,7.9C1.3,7.45 -1.3,7.45 -2.5,7.9C-3.7,8.4 -5,8.9 -5.8,8.2C-6.6,7.5 -6.2,5.9 -5.3,4.3C-4.1,2.2 -2.4,0 0,0Z"/></g><g><ellipse cx="-3.05" cy="-5.45" rx="2.25" ry="3.07" transform="rotate(-8 -3.05 -5.45)"/><ellipse cx="3.05" cy="-5.45" rx="2.25" ry="3.07" transform="rotate(8 3.05 -5.45)"/><ellipse cx="-6.65" cy="-0.45" rx="2.25" ry="3.05" transform="rotate(-28 -6.65 -0.45)"/><ellipse cx="6.65" cy="-0.45" rx="2.25" ry="3.05" transform="rotate(28 6.65 -0.45)"/><path d="M0,0C2.4,0 4.1,2.2 5.3,4.3C6.2,5.9 6.6,7.5 5.8,8.2C5,8.9 3.7,8.4 2.5,7.9C1.3,7.45 -1.3,7.45 -2.5,7.9C-3.7,8.4 -5,8.9 -5.8,8.2C-6.6,7.5 -6.2,5.9 -5.3,4.3C-4.1,2.2 -2.4,0 0,0Z"/></g></svg>
<svg class="p" style="left:617.70px;top:666.50px" width="26" height="24" viewBox="-13 -12 26 24"><g class="w"><ellipse cx="0" cy="-1.5" rx="5.5" ry="3.6"/><ellipse cx="-3.05" cy="-5.45" rx="2.25" ry="3.07" transform="rotate(-8 -3.05 -5.45)"/><ellipse cx="3.05" cy="-5.45" rx="2.25" ry="3.07" transform="rotate(8 3.05 -5.45)"/><ellipse cx="-6.65" cy="-0.45" rx="2.25" ry="3.05" transform="rotate(-28 -6.65 -0.45)"/><ellipse cx="6.65" cy="-0.45" rx="2.25" ry="3.05" transform="rotate(28 6.65 -0.45)"/><path d="M0,0C2.4,0 4.1,2.2 5.3,4.3C6.2,5.9 6.6,7.5 5.8,8.2C5,8.9 3.7,8.4 2.5,7.9C1.3,7.45 -1.3,7.45 -2.5,7.9C-3.7,8.4 -5,8.9 -5.8,8.2C-6.6,7.5 -6.2,5.9 -5.3,4.3C-4.1,2.2 -2.4,0 0,0Z"/></g><g><ellipse cx="-3.05" cy="-5.45" rx="2.25" ry="3.07" transform="rotate(-8 -3.05 -5.45)"/><ellipse cx="3.05" cy="-5.45" rx="2.25" ry="3.07" transform="rotate(8 3.05 -5.45)"/><ellipse cx="-6.65" cy="-0.45" rx="2.25" ry="3.05" transform="rotate(-28 -6.65 -0.45)"/><ellipse cx="6.65" cy="-0.45" rx="2.25" ry="3.05" transform="rotate(28 6.65 -0.45)"/><path d="M0,0C2.4,0 4.1,2.2 5.3,4.3C6.2,5.9 6.6,7.5 5.8,8.2C5,8.9 3.7,8.4 2.5,7.9C1.3,7.45 -1.3,7.45 -2.5,7.9C-3.7,8.4 -5,8.9 -5.8,8.2C-6.6,7.5 -6.2,5.9 -5.3,4.3C-4.1,2.2 -2.4,0 0,0Z"/></g></svg>
<svg class="p" style="left:769.60px;top:688.25px" width="26" height="24" viewBox="-13 -12 26 24"><g class="w"><ellipse cx="0" cy="-1.5" rx="5.5" ry="3.6"/><ellipse cx="-3.05" cy="-5.45" rx="2.25" ry="3.07" transform="rotate(-8 -3.05 -5.45)"/><ellipse cx="3.05" cy="-5.45" rx="2.25" ry="3.07" transform="rotate(8 3.05 -5.45)"/><ellipse cx="-6.65" cy="-0.45" rx="2.25" ry="3.05" transform="rotate(-28 -6.65 -0.45)"/><ellipse cx="6.65" cy="-0.45" rx="2.25" ry="3.05" transform="rotate(28 6.65 -0.45)"/><path d="M0,0C2.4,0 4.1,2.2 5.3,4.3C6.2,5.9 6.6,7.5 5.8,8.2C5,8.9 3.7,8.4 2.5,7.9C1.3,7.45 -1.3,7.45 -2.5,7.9C-3.7,8.4 -5,8.9 -5.8,8.2C-6.6,7.5 -6.2,5.9 -5.3,4.3C-4.1,2.2 -2.4,0 0,0Z"/></g><g><ellipse cx="-3.05" cy="-5.45" rx="2.25" ry="3.07" transform="rotate(-8 -3.05 -5.45)"/><ellipse cx="3.05" cy="-5.45" rx="2.25" ry="3.07" transform="rotate(8 3.05 -5.45)"/><ellipse cx="-6.65" cy="-0.45" rx="2.25" ry="3.05" transform="rotate(-28 -6.65 -0.45)"/><ellipse cx="6.65" cy="-0.45" rx="2.25" ry="3.05" transform="rotate(28 6.65 -0.45)"/><path d="M0,0C2.4,0 4.1,2.2 5.3,4.3C6.2,5.9 6.6,7.5 5.8,8.2C5,8.9 3.7,8.4 2.5,7.9C1.3,7.45 -1.3,7.45 -2.5,7.9C-3.7,8.4 -5,8.9 -5.8,8.2C-6.6,7.5 -6.2,5.9 -5.3,4.3C-4.1,2.2 -2.4,0 0,0Z"/></g></svg>
<svg class="p" style="left:847.70px;top:688.25px" width="26" height="24" viewBox="-13 -12 26 24"><g class="w"><ellipse cx="0" cy="-1.5" rx="5.5" ry="3.6"/><ellipse cx="-3.05" cy="-5.45" rx="2.25" ry="3.07" transform="rotate(-8 -3.05 -5.45)"/><ellipse cx="3.05" cy="-5.45" rx="2.25" ry="3.07" transform="rotate(8 3.05 -5.45)"/><ellipse cx="-6.65" cy="-0.45" rx="2.25" ry="3.05" transform="rotate(-28 -6.65 -0.45)"/><ellipse cx="6.65" cy="-0.45" rx="2.25" ry="3.05" transform="rotate(28 6.65 -0.45)"/><path d="M0,0C2.4,0 4.1,2.2 5.3,4.3C6.2,5.9 6.6,7.5 5.8,8.2C5,8.9 3.7,8.4 2.5,7.9C1.3,7.45 -1.3,7.45 -2.5,7.9C-3.7,8.4 -5,8.9 -5.8,8.2C-6.6,7.5 -6.2,5.9 -5.3,4.3C-4.1,2.2 -2.4,0 0,0Z"/></g><g><ellipse cx="-3.05" cy="-5.45" rx="2.25" ry="3.07" transform="rotate(-8 -3.05 -5.45)"/><ellipse cx="3.05" cy="-5.45" rx="2.25" ry="3.07" transform="rotate(8 3.05 -5.45)"/><ellipse cx="-6.65" cy="-0.45" rx="2.25" ry="3.05" transform="rotate(-28 -6.65 -0.45)"/><ellipse cx="6.65" cy="-0.45" rx="2.25" ry="3.05" transform="rotate(28 6.65 -0.45)"/><path d="M0,0C2.4,0 4.1,2.2 5.3,4.3C6.2,5.9 6.6,7.5 5.8,8.2C5,8.9 3.7,8.4 2.5,7.9C1.3,7.45 -1.3,7.45 -2.5,7.9C-3.7,8.4 -5,8.9 -5.8,8.2C-6.6,7.5 -6.2,5.9 -5.3,4.3C-4.1,2.2 -2.4,0 0,0Z"/></g></svg>
<svg class="p" style="left:922.10px;top:689.90px" width="26" height="24" viewBox="-13 -12 26 24"><g class="w"><ellipse cx="0" cy="-1.5" rx="5.5" ry="3.6"/><ellipse cx="-3.05" cy="-5.45" rx="2.25" ry="3.07" transform="rotate(-8 -3.05 -5.45)"/><ellipse cx="3.05" cy="-5.45" rx="2.25" ry="3.07" transform="rotate(8 3.05 -5.45)"/><ellipse cx="-6.65" cy="-0.45" rx="2.25" ry="3.05" transform="rotate(-28 -6.65 -0.45)"/><ellipse cx="6.65" cy="-0.45" rx="2.25" ry="3.05" transform="rotate(28 6.65 -0.45)"/><path d="M0,0C2.4,0 4.1,2.2 5.3,4.3C6.2,5.9 6.6,7.5 5.8,8.2C5,8.9 3.7,8.4 2.5,7.9C1.3,7.45 -1.3,7.45 -2.5,7.9C-3.7,8.4 -5,8.9 -5.8,8.2C-6.6,7.5 -6.2,5.9 -5.3,4.3C-4.1,2.2 -2.4,0 0,0Z"/></g><g><ellipse cx="-3.05" cy="-5.45" rx="2.25" ry="3.07" transform="rotate(-8 -3.05 -5.45)"/><ellipse cx="3.05" cy="-5.45" rx="2.25" ry="3.07" transform="rotate(8 3.05 -5.45)"/><ellipse cx="-6.65" cy="-0.45" rx="2.25" ry="3.05" transform="rotate(-28 -6.65 -0.45)"/><ellipse cx="6.65" cy="-0.45" rx="2.25" ry="3.05" transform="rotate(28 6.65 -0.45)"/><path d="M0,0C2.4,0 4.1,2.2 5.3,4.3C6.2,5.9 6.6,7.5 5.8,8.2C5,8.9 3.7,8.4 2.5,7.9C1.3,7.45 -1.3,7.45 -2.5,7.9C-3.7,8.4 -5,8.9 -5.8,8.2C-6.6,7.5 -6.2,5.9 -5.3,4.3C-4.1,2.2 -2.4,0 0,0Z"/></g></svg>
<svg class="p" style="left:998.40px;top:688.70px" width="26" height="24" viewBox="-13 -12 26 24"><g class="w"><ellipse cx="0" cy="-1.5" rx="5.5" ry="3.6"/><ellipse cx="-3.05" cy="-5.45" rx="2.25" ry="3.07" transform="rotate(-8 -3.05 -5.45)"/><ellipse cx="3.05" cy="-5.45" rx="2.25" ry="3.07" transform="rotate(8 3.05 -5.45)"/><ellipse cx="-6.65" cy="-0.45" rx="2.25" ry="3.05" transform="rotate(-28 -6.65 -0.45)"/><ellipse cx="6.65" cy="-0.45" rx="2.25" ry="3.05" transform="rotate(28 6.65 -0.45)"/><path d="M0,0C2.4,0 4.1,2.2 5.3,4.3C6.2,5.9 6.6,7.5 5.8,8.2C5,8.9 3.7,8.4 2.5,7.9C1.3,7.45 -1.3,7.45 -2.5,7.9C-3.7,8.4 -5,8.9 -5.8,8.2C-6.6,7.5 -6.2,5.9 -5.3,4.3C-4.1,2.2 -2.4,0 0,0Z"/></g><g><ellipse cx="-3.05" cy="-5.45" rx="2.25" ry="3.07" transform="rotate(-8 -3.05 -5.45)"/><ellipse cx="3.05" cy="-5.45" rx="2.25" ry="3.07" transform="rotate(8 3.05 -5.45)"/><ellipse cx="-6.65" cy="-0.45" rx="2.25" ry="3.05" transform="rotate(-28 -6.65 -0.45)"/><ellipse cx="6.65" cy="-0.45" rx="2.25" ry="3.05" transform="rotate(28 6.65 -0.45)"/><path d="M0,0C2.4,0 4.1,2.2 5.3,4.3C6.2,5.9 6.6,7.5 5.8,8.2C5,8.9 3.7,8.4 2.5,7.9C1.3,7.45 -1.3,7.45 -2.5,7.9C-3.7,8.4 -5,8.9 -5.8,8.2C-6.6,7.5 -6.2,5.9 -5.3,4.3C-4.1,2.2 -2.4,0 0,0Z"/></g></svg>
<svg class="p" style="left:1075.20px;top:688.90px" width="26" height="24" viewBox="-13 -12 26 24"><g class="w"><ellipse cx="0" cy="-1.5" rx="5.5" ry="3.6"/><ellipse cx="-3.05" cy="-5.45" rx="2.25" ry="3.07" transform="rotate(-8 -3.05 -5.45)"/><ellipse cx="3.05" cy="-5.45" rx="2.25" ry="3.07" transform="rotate(8 3.05 -5.45)"/><ellipse cx="-6.65" cy="-0.45" rx="2.25" ry="3.05" transform="rotate(-28 -6.65 -0.45)"/><ellipse cx="6.65" cy="-0.45" rx="2.25" ry="3.05" transform="rotate(28 6.65 -0.45)"/><path d="M0,0C2.4,0 4.1,2.2 5.3,4.3C6.2,5.9 6.6,7.5 5.8,8.2C5,8.9 3.7,8.4 2.5,7.9C1.3,7.45 -1.3,7.45 -2.5,7.9C-3.7,8.4 -5,8.9 -5.8,8.2C-6.6,7.5 -6.2,5.9 -5.3,4.3C-4.1,2.2 -2.4,0 0,0Z"/></g><g><ellipse cx="-3.05" cy="-5.45" rx="2.25" ry="3.07" transform="rotate(-8 -3.05 -5.45)"/><ellipse cx="3.05" cy="-5.45" rx="2.25" ry="3.07" transform="rotate(8 3.05 -5.45)"/><ellipse cx="-6.65" cy="-0.45" rx="2.25" ry="3.05" transform="rotate(-28 -6.65 -0.45)"/><ellipse cx="6.65" cy="-0.45" rx="2.25" ry="3.05" transform="rotate(28 6.65 -0.45)"/><path d="M0,0C2.4,0 4.1,2.2 5.3,4.3C6.2,5.9 6.6,7.5 5.8,8.2C5,8.9 3.7,8.4 2.5,7.9C1.3,7.45 -1.3,7.45 -2.5,7.9C-3.7,8.4 -5,8.9 -5.8,8.2C-6.6,7.5 -6.2,5.9 -5.3,4.3C-4.1,2.2 -2.4,0 0,0Z"/></g></svg>
<svg class="p" style="left:922.10px;top:716.40px" width="26" height="24" viewBox="-13 -12 26 24"><g class="w"><ellipse cx="0" cy="-1.5" rx="5.5" ry="3.6"/><ellipse cx="-3.05" cy="-5.45" rx="2.25" ry="3.07" transform="rotate(-8 -3.05 -5.45)"/><ellipse cx="3.05" cy="-5.45" rx="2.25" ry="3.07" transform="rotate(8 3.05 -5.45)"/><ellipse cx="-6.65" cy="-0.45" rx="2.25" ry="3.05" transform="rotate(-28 -6.65 -0.45)"/><ellipse cx="6.65" cy="-0.45" rx="2.25" ry="3.05" transform="rotate(28 6.65 -0.45)"/><path d="M0,0C2.4,0 4.1,2.2 5.3,4.3C6.2,5.9 6.6,7.5 5.8,8.2C5,8.9 3.7,8.4 2.5,7.9C1.3,7.45 -1.3,7.45 -2.5,7.9C-3.7,8.4 -5,8.9 -5.8,8.2C-6.6,7.5 -6.2,5.9 -5.3,4.3C-4.1,2.2 -2.4,0 0,0Z"/></g><g><ellipse cx="-3.05" cy="-5.45" rx="2.25" ry="3.07" transform="rotate(-8 -3.05 -5.45)"/><ellipse cx="3.05" cy="-5.45" rx="2.25" ry="3.07" transform="rotate(8 3.05 -5.45)"/><ellipse cx="-6.65" cy="-0.45" rx="2.25" ry="3.05" transform="rotate(-28 -6.65 -0.45)"/><ellipse cx="6.65" cy="-0.45" rx="2.25" ry="3.05" transform="rotate(28 6.65 -0.45)"/><path d="M0,0C2.4,0 4.1,2.2 5.3,4.3C6.2,5.9 6.6,7.5 5.8,8.2C5,8.9 3.7,8.4 2.5,7.9C1.3,7.45 -1.3,7.45 -2.5,7.9C-3.7,8.4 -5,8.9 -5.8,8.2C-6.6,7.5 -6.2,5.9 -5.3,4.3C-4.1,2.2 -2.4,0 0,0Z"/></g></svg>
<svg class="p" style="left:1075.20px;top:716.40px" width="26" height="24" viewBox="-13 -12 26 24"><g class="w"><ellipse cx="0" cy="-1.5" rx="5.5" ry="3.6"/><ellipse cx="-3.05" cy="-5.45" rx="2.25" ry="3.07" transform="rotate(-8 -3.05 -5.45)"/><ellipse cx="3.05" cy="-5.45" rx="2.25" ry="3.07" transform="rotate(8 3.05 -5.45)"/><ellipse cx="-6.65" cy="-0.45" rx="2.25" ry="3.05" transform="rotate(-28 -6.65 -0.45)"/><ellipse cx="6.65" cy="-0.45" rx="2.25" ry="3.05" transform="rotate(28 6.65 -0.45)"/><path d="M0,0C2.4,0 4.1,2.2 5.3,4.3C6.2,5.9 6.6,7.5 5.8,8.2C5,8.9 3.7,8.4 2.5,7.9C1.3,7.45 -1.3,7.45 -2.5,7.9C-3.7,8.4 -5,8.9 -5.8,8.2C-6.6,7.5 -6.2,5.9 -5.3,4.3C-4.1,2.2 -2.4,0 0,0Z"/></g><g><ellipse cx="-3.05" cy="-5.45" rx="2.25" ry="3.07" transform="rotate(-8 -3.05 -5.45)"/><ellipse cx="3.05" cy="-5.45" rx="2.25" ry="3.07" transform="rotate(8 3.05 -5.45)"/><ellipse cx="-6.65" cy="-0.45" rx="2.25" ry="3.05" transform="rotate(-28 -6.65 -0.45)"/><ellipse cx="6.65" cy="-0.45" rx="2.25" ry="3.05" transform="rotate(28 6.65 -0.45)"/><path d="M0,0C2.4,0 4.1,2.2 5.3,4.3C6.2,5.9 6.6,7.5 5.8,8.2C5,8.9 3.7,8.4 2.5,7.9C1.3,7.45 -1.3,7.45 -2.5,7.9C-3.7,8.4 -5,8.9 -5.8,8.2C-6.6,7.5 -6.2,5.9 -5.3,4.3C-4.1,2.2 -2.4,0 0,0Z"/></g></svg>
<svg class="p" style="left:922.10px;top:740.50px" width="26" height="24" viewBox="-13 -12 26 24"><g class="w"><ellipse cx="0" cy="-1.5" rx="5.5" ry="3.6"/><ellipse cx="-3.05" cy="-5.45" rx="2.25" ry="3.07" transform="rotate(-8 -3.05 -5.45)"/><ellipse cx="3.05" cy="-5.45" rx="2.25" ry="3.07" transform="rotate(8 3.05 -5.45)"/><ellipse cx="-6.65" cy="-0.45" rx="2.25" ry="3.05" transform="rotate(-28 -6.65 -0.45)"/><ellipse cx="6.65" cy="-0.45" rx="2.25" ry="3.05" transform="rotate(28 6.65 -0.45)"/><path d="M0,0C2.4,0 4.1,2.2 5.3,4.3C6.2,5.9 6.6,7.5 5.8,8.2C5,8.9 3.7,8.4 2.5,7.9C1.3,7.45 -1.3,7.45 -2.5,7.9C-3.7,8.4 -5,8.9 -5.8,8.2C-6.6,7.5 -6.2,5.9 -5.3,4.3C-4.1,2.2 -2.4,0 0,0Z"/></g><g><ellipse cx="-3.05" cy="-5.45" rx="2.25" ry="3.07" transform="rotate(-8 -3.05 -5.45)"/><ellipse cx="3.05" cy="-5.45" rx="2.25" ry="3.07" transform="rotate(8 3.05 -5.45)"/><ellipse cx="-6.65" cy="-0.45" rx="2.25" ry="3.05" transform="rotate(-28 -6.65 -0.45)"/><ellipse cx="6.65" cy="-0.45" rx="2.25" ry="3.05" transform="rotate(28 6.65 -0.45)"/><path d="M0,0C2.4,0 4.1,2.2 5.3,4.3C6.2,5.9 6.6,7.5 5.8,8.2C5,8.9 3.7,8.4 2.5,7.9C1.3,7.45 -1.3,7.45 -2.5,7.9C-3.7,8.4 -5,8.9 -5.8,8.2C-6.6,7.5 -6.2,5.9 -5.3,4.3C-4.1,2.2 -2.4,0 0,0Z"/></g></svg>
<svg class="p" style="left:207.70px;top:765.50px" width="26" height="24" viewBox="-13 -12 26 24"><g class="w"><ellipse cx="0" cy="-1.5" rx="5.5" ry="3.6"/><ellipse cx="-3.05" cy="-5.45" rx="2.25" ry="3.07" transform="rotate(-8 -3.05 -5.45)"/><ellipse cx="3.05" cy="-5.45" rx="2.25" ry="3.07" transform="rotate(8 3.05 -5.45)"/><ellipse cx="-6.65" cy="-0.45" rx="2.25" ry="3.05" transform="rotate(-28 -6.65 -0.45)"/><ellipse cx="6.65" cy="-0.45" rx="2.25" ry="3.05" transform="rotate(28 6.65 -0.45)"/><path d="M0,0C2.4,0 4.1,2.2 5.3,4.3C6.2,5.9 6.6,7.5 5.8,8.2C5,8.9 3.7,8.4 2.5,7.9C1.3,7.45 -1.3,7.45 -2.5,7.9C-3.7,8.4 -5,8.9 -5.8,8.2C-6.6,7.5 -6.2,5.9 -5.3,4.3C-4.1,2.2 -2.4,0 0,0Z"/></g><g><ellipse cx="-3.05" cy="-5.45" rx="2.25" ry="3.07" transform="rotate(-8 -3.05 -5.45)"/><ellipse cx="3.05" cy="-5.45" rx="2.25" ry="3.07" transform="rotate(8 3.05 -5.45)"/><ellipse cx="-6.65" cy="-0.45" rx="2.25" ry="3.05" transform="rotate(-28 -6.65 -0.45)"/><ellipse cx="6.65" cy="-0.45" rx="2.25" ry="3.05" transform="rotate(28 6.65 -0.45)"/><path d="M0,0C2.4,0 4.1,2.2 5.3,4.3C6.2,5.9 6.6,7.5 5.8,8.2C5,8.9 3.7,8.4 2.5,7.9C1.3,7.45 -1.3,7.45 -2.5,7.9C-3.7,8.4 -5,8.9 -5.8,8.2C-6.6,7.5 -6.2,5.9 -5.3,4.3C-4.1,2.2 -2.4,0 0,0Z"/></g></svg>
<svg class="p" style="left:287.00px;top:765.50px" width="26" height="24" viewBox="-13 -12 26 24"><g class="w"><ellipse cx="0" cy="-1.5" rx="5.5" ry="3.6"/><ellipse cx="-3.05" cy="-5.45" rx="2.25" ry="3.07" transform="rotate(-8 -3.05 -5.45)"/><ellipse cx="3.05" cy="-5.45" rx="2.25" ry="3.07" transform="rotate(8 3.05 -5.45)"/><ellipse cx="-6.65" cy="-0.45" rx="2.25" ry="3.05" transform="rotate(-28 -6.65 -0.45)"/><ellipse cx="6.65" cy="-0.45" rx="2.25" ry="3.05" transform="rotate(28 6.65 -0.45)"/><path d="M0,0C2.4,0 4.1,2.2 5.3,4.3C6.2,5.9 6.6,7.5 5.8,8.2C5,8.9 3.7,8.4 2.5,7.9C1.3,7.45 -1.3,7.45 -2.5,7.9C-3.7,8.4 -5,8.9 -5.8,8.2C-6.6,7.5 -6.2,5.9 -5.3,4.3C-4.1,2.2 -2.4,0 0,0Z"/></g><g><ellipse cx="-3.05" cy="-5.45" rx="2.25" ry="3.07" transform="rotate(-8 -3.05 -5.45)"/><ellipse cx="3.05" cy="-5.45" rx="2.25" ry="3.07" transform="rotate(8 3.05 -5.45)"/><ellipse cx="-6.65" cy="-0.45" rx="2.25" ry="3.05" transform="rotate(-28 -6.65 -0.45)"/><ellipse cx="6.65" cy="-0.45" rx="2.25" ry="3.05" transform="rotate(28 6.65 -0.45)"/><path d="M0,0C2.4,0 4.1,2.2 5.3,4.3C6.2,5.9 6.6,7.5 5.8,8.2C5,8.9 3.7,8.4 2.5,7.9C1.3,7.45 -1.3,7.45 -2.5,7.9C-3.7,8.4 -5,8.9 -5.8,8.2C-6.6,7.5 -6.2,5.9 -5.3,4.3C-4.1,2.2 -2.4,0 0,0Z"/></g></svg>
<svg class="p" style="left:361.70px;top:765.75px" width="26" height="24" viewBox="-13 -12 26 24"><g class="w"><ellipse cx="0" cy="-1.5" rx="5.5" ry="3.6"/><ellipse cx="-3.05" cy="-5.45" rx="2.25" ry="3.07" transform="rotate(-8 -3.05 -5.45)"/><ellipse cx="3.05" cy="-5.45" rx="2.25" ry="3.07" transform="rotate(8 3.05 -5.45)"/><ellipse cx="-6.65" cy="-0.45" rx="2.25" ry="3.05" transform="rotate(-28 -6.65 -0.45)"/><ellipse cx="6.65" cy="-0.45" rx="2.25" ry="3.05" transform="rotate(28 6.65 -0.45)"/><path d="M0,0C2.4,0 4.1,2.2 5.3,4.3C6.2,5.9 6.6,7.5 5.8,8.2C5,8.9 3.7,8.4 2.5,7.9C1.3,7.45 -1.3,7.45 -2.5,7.9C-3.7,8.4 -5,8.9 -5.8,8.2C-6.6,7.5 -6.2,5.9 -5.3,4.3C-4.1,2.2 -2.4,0 0,0Z"/></g><g><ellipse cx="-3.05" cy="-5.45" rx="2.25" ry="3.07" transform="rotate(-8 -3.05 -5.45)"/><ellipse cx="3.05" cy="-5.45" rx="2.25" ry="3.07" transform="rotate(8 3.05 -5.45)"/><ellipse cx="-6.65" cy="-0.45" rx="2.25" ry="3.05" transform="rotate(-28 -6.65 -0.45)"/><ellipse cx="6.65" cy="-0.45" rx="2.25" ry="3.05" transform="rotate(28 6.65 -0.45)"/><path d="M0,0C2.4,0 4.1,2.2 5.3,4.3C6.2,5.9 6.6,7.5 5.8,8.2C5,8.9 3.7,8.4 2.5,7.9C1.3,7.45 -1.3,7.45 -2.5,7.9C-3.7,8.4 -5,8.9 -5.8,8.2C-6.6,7.5 -6.2,5.9 -5.3,4.3C-4.1,2.2 -2.4,0 0,0Z"/></g></svg>
<svg class="p" style="left:438.70px;top:765.40px" width="26" height="24" viewBox="-13 -12 26 24"><g class="w"><ellipse cx="0" cy="-1.5" rx="5.5" ry="3.6"/><ellipse cx="-3.05" cy="-5.45" rx="2.25" ry="3.07" transform="rotate(-8 -3.05 -5.45)"/><ellipse cx="3.05" cy="-5.45" rx="2.25" ry="3.07" transform="rotate(8 3.05 -5.45)"/><ellipse cx="-6.65" cy="-0.45" rx="2.25" ry="3.05" transform="rotate(-28 -6.65 -0.45)"/><ellipse cx="6.65" cy="-0.45" rx="2.25" ry="3.05" transform="rotate(28 6.65 -0.45)"/><path d="M0,0C2.4,0 4.1,2.2 5.3,4.3C6.2,5.9 6.6,7.5 5.8,8.2C5,8.9 3.7,8.4 2.5,7.9C1.3,7.45 -1.3,7.45 -2.5,7.9C-3.7,8.4 -5,8.9 -5.8,8.2C-6.6,7.5 -6.2,5.9 -5.3,4.3C-4.1,2.2 -2.4,0 0,0Z"/></g><g><ellipse cx="-3.05" cy="-5.45" rx="2.25" ry="3.07" transform="rotate(-8 -3.05 -5.45)"/><ellipse cx="3.05" cy="-5.45" rx="2.25" ry="3.07" transform="rotate(8 3.05 -5.45)"/><ellipse cx="-6.65" cy="-0.45" rx="2.25" ry="3.05" transform="rotate(-28 -6.65 -0.45)"/><ellipse cx="6.65" cy="-0.45" rx="2.25" ry="3.05" transform="rotate(28 6.65 -0.45)"/><path d="M0,0C2.4,0 4.1,2.2 5.3,4.3C6.2,5.9 6.6,7.5 5.8,8.2C5,8.9 3.7,8.4 2.5,7.9C1.3,7.45 -1.3,7.45 -2.5,7.9C-3.7,8.4 -5,8.9 -5.8,8.2C-6.6,7.5 -6.2,5.9 -5.3,4.3C-4.1,2.2 -2.4,0 0,0Z"/></g></svg>
<svg class="p" style="left:513.70px;top:765.80px" width="26" height="24" viewBox="-13 -12 26 24"><g class="w"><ellipse cx="0" cy="-1.5" rx="5.5" ry="3.6"/><ellipse cx="-3.05" cy="-5.45" rx="2.25" ry="3.07" transform="rotate(-8 -3.05 -5.45)"/><ellipse cx="3.05" cy="-5.45" rx="2.25" ry="3.07" transform="rotate(8 3.05 -5.45)"/><ellipse cx="-6.65" cy="-0.45" rx="2.25" ry="3.05" transform="rotate(-28 -6.65 -0.45)"/><ellipse cx="6.65" cy="-0.45" rx="2.25" ry="3.05" transform="rotate(28 6.65 -0.45)"/><path d="M0,0C2.4,0 4.1,2.2 5.3,4.3C6.2,5.9 6.6,7.5 5.8,8.2C5,8.9 3.7,8.4 2.5,7.9C1.3,7.45 -1.3,7.45 -2.5,7.9C-3.7,8.4 -5,8.9 -5.8,8.2C-6.6,7.5 -6.2,5.9 -5.3,4.3C-4.1,2.2 -2.4,0 0,0Z"/></g><g><ellipse cx="-3.05" cy="-5.45" rx="2.25" ry="3.07" transform="rotate(-8 -3.05 -5.45)"/><ellipse cx="3.05" cy="-5.45" rx="2.25" ry="3.07" transform="rotate(8 3.05 -5.45)"/><ellipse cx="-6.65" cy="-0.45" rx="2.25" ry="3.05" transform="rotate(-28 -6.65 -0.45)"/><ellipse cx="6.65" cy="-0.45" rx="2.25" ry="3.05" transform="rotate(28 6.65 -0.45)"/><path d="M0,0C2.4,0 4.1,2.2 5.3,4.3C6.2,5.9 6.6,7.5 5.8,8.2C5,8.9 3.7,8.4 2.5,7.9C1.3,7.45 -1.3,7.45 -2.5,7.9C-3.7,8.4 -5,8.9 -5.8,8.2C-6.6,7.5 -6.2,5.9 -5.3,4.3C-4.1,2.2 -2.4,0 0,0Z"/></g></svg>
<svg class="p" style="left:617.70px;top:765.75px" width="26" height="24" viewBox="-13 -12 26 24"><g class="w"><ellipse cx="0" cy="-1.5" rx="5.5" ry="3.6"/><ellipse cx="-3.05" cy="-5.45" rx="2.25" ry="3.07" transform="rotate(-8 -3.05 -5.45)"/><ellipse cx="3.05" cy="-5.45" rx="2.25" ry="3.07" transform="rotate(8 3.05 -5.45)"/><ellipse cx="-6.65" cy="-0.45" rx="2.25" ry="3.05" transform="rotate(-28 -6.65 -0.45)"/><ellipse cx="6.65" cy="-0.45" rx="2.25" ry="3.05" transform="rotate(28 6.65 -0.45)"/><path d="M0,0C2.4,0 4.1,2.2 5.3,4.3C6.2,5.9 6.6,7.5 5.8,8.2C5,8.9 3.7,8.4 2.5,7.9C1.3,7.45 -1.3,7.45 -2.5,7.9C-3.7,8.4 -5,8.9 -5.8,8.2C-6.6,7.5 -6.2,5.9 -5.3,4.3C-4.1,2.2 -2.4,0 0,0Z"/></g><g><ellipse cx="-3.05" cy="-5.45" rx="2.25" ry="3.07" transform="rotate(-8 -3.05 -5.45)"/><ellipse cx="3.05" cy="-5.45" rx="2.25" ry="3.07" transform="rotate(8 3.05 -5.45)"/><ellipse cx="-6.65" cy="-0.45" rx="2.25" ry="3.05" transform="rotate(-28 -6.65 -0.45)"/><ellipse cx="6.65" cy="-0.45" rx="2.25" ry="3.05" transform="rotate(28 6.65 -0.45)"/><path d="M0,0C2.4,0 4.1,2.2 5.3,4.3C6.2,5.9 6.6,7.5 5.8,8.2C5,8.9 3.7,8.4 2.5,7.9C1.3,7.45 -1.3,7.45 -2.5,7.9C-3.7,8.4 -5,8.9 -5.8,8.2C-6.6,7.5 -6.2,5.9 -5.3,4.3C-4.1,2.2 -2.4,0 0,0Z"/></g></svg>
<svg class="p" style="left:694.20px;top:765.75px" width="26" height="24" viewBox="-13 -12 26 24"><g class="w"><ellipse cx="0" cy="-1.5" rx="5.5" ry="3.6"/><ellipse cx="-3.05" cy="-5.45" rx="2.25" ry="3.07" transform="rotate(-8 -3.05 -5.45)"/><ellipse cx="3.05" cy="-5.45" rx="2.25" ry="3.07" transform="rotate(8 3.05 -5.45)"/><ellipse cx="-6.65" cy="-0.45" rx="2.25" ry="3.05" transform="rotate(-28 -6.65 -0.45)"/><ellipse cx="6.65" cy="-0.45" rx="2.25" ry="3.05" transform="rotate(28 6.65 -0.45)"/><path d="M0,0C2.4,0 4.1,2.2 5.3,4.3C6.2,5.9 6.6,7.5 5.8,8.2C5,8.9 3.7,8.4 2.5,7.9C1.3,7.45 -1.3,7.45 -2.5,7.9C-3.7,8.4 -5,8.9 -5.8,8.2C-6.6,7.5 -6.2,5.9 -5.3,4.3C-4.1,2.2 -2.4,0 0,0Z"/></g><g><ellipse cx="-3.05" cy="-5.45" rx="2.25" ry="3.07" transform="rotate(-8 -3.05 -5.45)"/><ellipse cx="3.05" cy="-5.45" rx="2.25" ry="3.07" transform="rotate(8 3.05 -5.45)"/><ellipse cx="-6.65" cy="-0.45" rx="2.25" ry="3.05" transform="rotate(-28 -6.65 -0.45)"/><ellipse cx="6.65" cy="-0.45" rx="2.25" ry="3.05" transform="rotate(28 6.65 -0.45)"/><path d="M0,0C2.4,0 4.1,2.2 5.3,4.3C6.2,5.9 6.6,7.5 5.8,8.2C5,8.9 3.7,8.4 2.5,7.9C1.3,7.45 -1.3,7.45 -2.5,7.9C-3.7,8.4 -5,8.9 -5.8,8.2C-6.6,7.5 -6.2,5.9 -5.3,4.3C-4.1,2.2 -2.4,0 0,0Z"/></g></svg>
<svg class="p" style="left:769.70px;top:765.75px" width="26" height="24" viewBox="-13 -12 26 24"><g class="w"><ellipse cx="0" cy="-1.5" rx="5.5" ry="3.6"/><ellipse cx="-3.05" cy="-5.45" rx="2.25" ry="3.07" transform="rotate(-8 -3.05 -5.45)"/><ellipse cx="3.05" cy="-5.45" rx="2.25" ry="3.07" transform="rotate(8 3.05 -5.45)"/><ellipse cx="-6.65" cy="-0.45" rx="2.25" ry="3.05" transform="rotate(-28 -6.65 -0.45)"/><ellipse cx="6.65" cy="-0.45" rx="2.25" ry="3.05" transform="rotate(28 6.65 -0.45)"/><path d="M0,0C2.4,0 4.1,2.2 5.3,4.3C6.2,5.9 6.6,7.5 5.8,8.2C5,8.9 3.7,8.4 2.5,7.9C1.3,7.45 -1.3,7.45 -2.5,7.9C-3.7,8.4 -5,8.9 -5.8,8.2C-6.6,7.5 -6.2,5.9 -5.3,4.3C-4.1,2.2 -2.4,0 0,0Z"/></g><g><ellipse cx="-3.05" cy="-5.45" rx="2.25" ry="3.07" transform="rotate(-8 -3.05 -5.45)"/><ellipse cx="3.05" cy="-5.45" rx="2.25" ry="3.07" transform="rotate(8 3.05 -5.45)"/><ellipse cx="-6.65" cy="-0.45" rx="2.25" ry="3.05" transform="rotate(-28 -6.65 -0.45)"/><ellipse cx="6.65" cy="-0.45" rx="2.25" ry="3.05" transform="rotate(28 6.65 -0.45)"/><path d="M0,0C2.4,0 4.1,2.2 5.3,4.3C6.2,5.9 6.6,7.5 5.8,8.2C5,8.9 3.7,8.4 2.5,7.9C1.3,7.45 -1.3,7.45 -2.5,7.9C-3.7,8.4 -5,8.9 -5.8,8.2C-6.6,7.5 -6.2,5.9 -5.3,4.3C-4.1,2.2 -2.4,0 0,0Z"/></g></svg>
<svg class="p" style="left:847.70px;top:765.75px" width="26" height="24" viewBox="-13 -12 26 24"><g class="w"><ellipse cx="0" cy="-1.5" rx="5.5" ry="3.6"/><ellipse cx="-3.05" cy="-5.45" rx="2.25" ry="3.07" transform="rotate(-8 -3.05 -5.45)"/><ellipse cx="3.05" cy="-5.45" rx="2.25" ry="3.07" transform="rotate(8 3.05 -5.45)"/><ellipse cx="-6.65" cy="-0.45" rx="2.25" ry="3.05" transform="rotate(-28 -6.65 -0.45)"/><ellipse cx="6.65" cy="-0.45" rx="2.25" ry="3.05" transform="rotate(28 6.65 -0.45)"/><path d="M0,0C2.4,0 4.1,2.2 5.3,4.3C6.2,5.9 6.6,7.5 5.8,8.2C5,8.9 3.7,8.4 2.5,7.9C1.3,7.45 -1.3,7.45 -2.5,7.9C-3.7,8.4 -5,8.9 -5.8,8.2C-6.6,7.5 -6.2,5.9 -5.3,4.3C-4.1,2.2 -2.4,0 0,0Z"/></g><g><ellipse cx="-3.05" cy="-5.45" rx="2.25" ry="3.07" transform="rotate(-8 -3.05 -5.45)"/><ellipse cx="3.05" cy="-5.45" rx="2.25" ry="3.07" transform="rotate(8 3.05 -5.45)"/><ellipse cx="-6.65" cy="-0.45" rx="2.25" ry="3.05" transform="rotate(-28 -6.65 -0.45)"/><ellipse cx="6.65" cy="-0.45" rx="2.25" ry="3.05" transform="rotate(28 6.65 -0.45)"/><path d="M0,0C2.4,0 4.1,2.2 5.3,4.3C6.2,5.9 6.6,7.5 5.8,8.2C5,8.9 3.7,8.4 2.5,7.9C1.3,7.45 -1.3,7.45 -2.5,7.9C-3.7,8.4 -5,8.9 -5.8,8.2C-6.6,7.5 -6.2,5.9 -5.3,4.3C-4.1,2.2 -2.4,0 0,0Z"/></g></svg>
<svg class="p" style="left:922.10px;top:765.20px" width="26" height="24" viewBox="-13 -12 26 24"><g class="w"><ellipse cx="0" cy="-1.5" rx="5.5" ry="3.6"/><ellipse cx="-3.05" cy="-5.45" rx="2.25" ry="3.07" transform="rotate(-8 -3.05 -5.45)"/><ellipse cx="3.05" cy="-5.45" rx="2.25" ry="3.07" transform="rotate(8 3.05 -5.45)"/><ellipse cx="-6.65" cy="-0.45" rx="2.25" ry="3.05" transform="rotate(-28 -6.65 -0.45)"/><ellipse cx="6.65" cy="-0.45" rx="2.25" ry="3.05" transform="rotate(28 6.65 -0.45)"/><path d="M0,0C2.4,0 4.1,2.2 5.3,4.3C6.2,5.9 6.6,7.5 5.8,8.2C5,8.9 3.7,8.4 2.5,7.9C1.3,7.45 -1.3,7.45 -2.5,7.9C-3.7,8.4 -5,8.9 -5.8,8.2C-6.6,7.5 -6.2,5.9 -5.3,4.3C-4.1,2.2 -2.4,0 0,0Z"/></g><g><ellipse cx="-3.05" cy="-5.45" rx="2.25" ry="3.07" transform="rotate(-8 -3.05 -5.45)"/><ellipse cx="3.05" cy="-5.45" rx="2.25" ry="3.07" transform="rotate(8 3.05 -5.45)"/><ellipse cx="-6.65" cy="-0.45" rx="2.25" ry="3.05" transform="rotate(-28 -6.65 -0.45)"/><ellipse cx="6.65" cy="-0.45" rx="2.25" ry="3.05" transform="rotate(28 6.65 -0.45)"/><path d="M0,0C2.4,0 4.1,2.2 5.3,4.3C6.2,5.9 6.6,7.5 5.8,8.2C5,8.9 3.7,8.4 2.5,7.9C1.3,7.45 -1.3,7.45 -2.5,7.9C-3.7,8.4 -5,8.9 -5.8,8.2C-6.6,7.5 -6.2,5.9 -5.3,4.3C-4.1,2.2 -2.4,0 0,0Z"/></g></svg>
<svg class="p" style="left:998.40px;top:765.20px" width="26" height="24" viewBox="-13 -12 26 24"><g class="w"><ellipse cx="0" cy="-1.5" rx="5.5" ry="3.6"/><ellipse cx="-3.05" cy="-5.45" rx="2.25" ry="3.07" transform="rotate(-8 -3.05 -5.45)"/><ellipse cx="3.05" cy="-5.45" rx="2.25" ry="3.07" transform="rotate(8 3.05 -5.45)"/><ellipse cx="-6.65" cy="-0.45" rx="2.25" ry="3.05" transform="rotate(-28 -6.65 -0.45)"/><ellipse cx="6.65" cy="-0.45" rx="2.25" ry="3.05" transform="rotate(28 6.65 -0.45)"/><path d="M0,0C2.4,0 4.1,2.2 5.3,4.3C6.2,5.9 6.6,7.5 5.8,8.2C5,8.9 3.7,8.4 2.5,7.9C1.3,7.45 -1.3,7.45 -2.5,7.9C-3.7,8.4 -5,8.9 -5.8,8.2C-6.6,7.5 -6.2,5.9 -5.3,4.3C-4.1,2.2 -2.4,0 0,0Z"/></g><g><ellipse cx="-3.05" cy="-5.45" rx="2.25" ry="3.07" transform="rotate(-8 -3.05 -5.45)"/><ellipse cx="3.05" cy="-5.45" rx="2.25" ry="3.07" transform="rotate(8 3.05 -5.45)"/><ellipse cx="-6.65" cy="-0.45" rx="2.25" ry="3.05" transform="rotate(-28 -6.65 -0.45)"/><ellipse cx="6.65" cy="-0.45" rx="2.25" ry="3.05" transform="rotate(28 6.65 -0.45)"/><path d="M0,0C2.4,0 4.1,2.2 5.3,4.3C6.2,5.9 6.6,7.5 5.8,8.2C5,8.9 3.7,8.4 2.5,7.9C1.3,7.45 -1.3,7.45 -2.5,7.9C-3.7,8.4 -5,8.9 -5.8,8.2C-6.6,7.5 -6.2,5.9 -5.3,4.3C-4.1,2.2 -2.4,0 0,0Z"/></g></svg>
<svg class="p" style="left:1075.20px;top:765.20px" width="26" height="24" viewBox="-13 -12 26 24"><g class="w"><ellipse cx="0" cy="-1.5" rx="5.5" ry="3.6"/><ellipse cx="-3.05" cy="-5.45" rx="2.25" ry="3.07" transform="rotate(-8 -3.05 -5.45)"/><ellipse cx="3.05" cy="-5.45" rx="2.25" ry="3.07" transform="rotate(8 3.05 -5.45)"/><ellipse cx="-6.65" cy="-0.45" rx="2.25" ry="3.05" transform="rotate(-28 -6.65 -0.45)"/><ellipse cx="6.65" cy="-0.45" rx="2.25" ry="3.05" transform="rotate(28 6.65 -0.45)"/><path d="M0,0C2.4,0 4.1,2.2 5.3,4.3C6.2,5.9 6.6,7.5 5.8,8.2C5,8.9 3.7,8.4 2.5,7.9C1.3,7.45 -1.3,7.45 -2.5,7.9C-3.7,8.4 -5,8.9 -5.8,8.2C-6.6,7.5 -6.2,5.9 -5.3,4.3C-4.1,2.2 -2.4,0 0,0Z"/></g><g><ellipse cx="-3.05" cy="-5.45" rx="2.25" ry="3.07" transform="rotate(-8 -3.05 -5.45)"/><ellipse cx="3.05" cy="-5.45" rx="2.25" ry="3.07" transform="rotate(8 3.05 -5.45)"/><ellipse cx="-6.65" cy="-0.45" rx="2.25" ry="3.05" transform="rotate(-28 -6.65 -0.45)"/><ellipse cx="6.65" cy="-0.45" rx="2.25" ry="3.05" transform="rotate(28 6.65 -0.45)"/><path d="M0,0C2.4,0 4.1,2.2 5.3,4.3C6.2,5.9 6.6,7.5 5.8,8.2C5,8.9 3.7,8.4 2.5,7.9C1.3,7.45 -1.3,7.45 -2.5,7.9C-3.7,8.4 -5,8.9 -5.8,8.2C-6.6,7.5 -6.2,5.9 -5.3,4.3C-4.1,2.2 -2.4,0 0,0Z"/></g></svg>
<svg class="p" style="left:1151.20px;top:765.20px" width="26" height="24" viewBox="-13 -12 26 24"><g class="w"><ellipse cx="0" cy="-1.5" rx="5.5" ry="3.6"/><ellipse cx="-3.05" cy="-5.45" rx="2.25" ry="3.07" transform="rotate(-8 -3.05 -5.45)"/><ellipse cx="3.05" cy="-5.45" rx="2.25" ry="3.07" transform="rotate(8 3.05 -5.45)"/><ellipse cx="-6.65" cy="-0.45" rx="2.25" ry="3.05" transform="rotate(-28 -6.65 -0.45)"/><ellipse cx="6.65" cy="-0.45" rx="2.25" ry="3.05" transform="rotate(28 6.65 -0.45)"/><path d="M0,0C2.4,0 4.1,2.2 5.3,4.3C6.2,5.9 6.6,7.5 5.8,8.2C5,8.9 3.7,8.4 2.5,7.9C1.3,7.45 -1.3,7.45 -2.5,7.9C-3.7,8.4 -5,8.9 -5.8,8.2C-6.6,7.5 -6.2,5.9 -5.3,4.3C-4.1,2.2 -2.4,0 0,0Z"/></g><g><ellipse cx="-3.05" cy="-5.45" rx="2.25" ry="3.07" transform="rotate(-8 -3.05 -5.45)"/><ellipse cx="3.05" cy="-5.45" rx="2.25" ry="3.07" transform="rotate(8 3.05 -5.45)"/><ellipse cx="-6.65" cy="-0.45" rx="2.25" ry="3.05" transform="rotate(-28 -6.65 -0.45)"/><ellipse cx="6.65" cy="-0.45" rx="2.25" ry="3.05" transform="rotate(28 6.65 -0.45)"/><path d="M0,0C2.4,0 4.1,2.2 5.3,4.3C6.2,5.9 6.6,7.5 5.8,8.2C5,8.9 3.7,8.4 2.5,7.9C1.3,7.45 -1.3,7.45 -2.5,7.9C-3.7,8.4 -5,8.9 -5.8,8.2C-6.6,7.5 -6.2,5.9 -5.3,4.3C-4.1,2.2 -2.4,0 0,0Z"/></g></svg>
<svg class="p" style="left:287.10px;top:815.75px" width="26" height="24" viewBox="-13 -12 26 24"><g class="w"><ellipse cx="0" cy="-1.5" rx="5.5" ry="3.6"/><ellipse cx="-3.05" cy="-5.45" rx="2.25" ry="3.07" transform="rotate(-8 -3.05 -5.45)"/><ellipse cx="3.05" cy="-5.45" rx="2.25" ry="3.07" transform="rotate(8 3.05 -5.45)"/><ellipse cx="-6.65" cy="-0.45" rx="2.25" ry="3.05" transform="rotate(-28 -6.65 -0.45)"/><ellipse cx="6.65" cy="-0.45" rx="2.25" ry="3.05" transform="rotate(28 6.65 -0.45)"/><path d="M0,0C2.4,0 4.1,2.2 5.3,4.3C6.2,5.9 6.6,7.5 5.8,8.2C5,8.9 3.7,8.4 2.5,7.9C1.3,7.45 -1.3,7.45 -2.5,7.9C-3.7,8.4 -5,8.9 -5.8,8.2C-6.6,7.5 -6.2,5.9 -5.3,4.3C-4.1,2.2 -2.4,0 0,0Z"/></g><g><ellipse cx="-3.05" cy="-5.45" rx="2.25" ry="3.07" transform="rotate(-8 -3.05 -5.45)"/><ellipse cx="3.05" cy="-5.45" rx="2.25" ry="3.07" transform="rotate(8 3.05 -5.45)"/><ellipse cx="-6.65" cy="-0.45" rx="2.25" ry="3.05" transform="rotate(-28 -6.65 -0.45)"/><ellipse cx="6.65" cy="-0.45" rx="2.25" ry="3.05" transform="rotate(28 6.65 -0.45)"/><path d="M0,0C2.4,0 4.1,2.2 5.3,4.3C6.2,5.9 6.6,7.5 5.8,8.2C5,8.9 3.7,8.4 2.5,7.9C1.3,7.45 -1.3,7.45 -2.5,7.9C-3.7,8.4 -5,8.9 -5.8,8.2C-6.6,7.5 -6.2,5.9 -5.3,4.3C-4.1,2.2 -2.4,0 0,0Z"/></g></svg>
<svg class="p" style="left:438.40px;top:815.00px" width="26" height="24" viewBox="-13 -12 26 24"><g class="w"><ellipse cx="0" cy="-1.5" rx="5.5" ry="3.6"/><ellipse cx="-3.05" cy="-5.45" rx="2.25" ry="3.07" transform="rotate(-8 -3.05 -5.45)"/><ellipse cx="3.05" cy="-5.45" rx="2.25" ry="3.07" transform="rotate(8 3.05 -5.45)"/><ellipse cx="-6.65" cy="-0.45" rx="2.25" ry="3.05" transform="rotate(-28 -6.65 -0.45)"/><ellipse cx="6.65" cy="-0.45" rx="2.25" ry="3.05" transform="rotate(28 6.65 -0.45)"/><path d="M0,0C2.4,0 4.1,2.2 5.3,4.3C6.2,5.9 6.6,7.5 5.8,8.2C5,8.9 3.7,8.4 2.5,7.9C1.3,7.45 -1.3,7.45 -2.5,7.9C-3.7,8.4 -5,8.9 -5.8,8.2C-6.6,7.5 -6.2,5.9 -5.3,4.3C-4.1,2.2 -2.4,0 0,0Z"/></g><g><ellipse cx="-3.05" cy="-5.45" rx="2.25" ry="3.07" transform="rotate(-8 -3.05 -5.45)"/><ellipse cx="3.05" cy="-5.45" rx="2.25" ry="3.07" transform="rotate(8 3.05 -5.45)"/><ellipse cx="-6.65" cy="-0.45" rx="2.25" ry="3.05" transform="rotate(-28 -6.65 -0.45)"/><ellipse cx="6.65" cy="-0.45" rx="2.25" ry="3.05" transform="rotate(28 6.65 -0.45)"/><path d="M0,0C2.4,0 4.1,2.2 5.3,4.3C6.2,5.9 6.6,7.5 5.8,8.2C5,8.9 3.7,8.4 2.5,7.9C1.3,7.45 -1.3,7.45 -2.5,7.9C-3.7,8.4 -5,8.9 -5.8,8.2C-6.6,7.5 -6.2,5.9 -5.3,4.3C-4.1,2.2 -2.4,0 0,0Z"/></g></svg>
<svg class="p" style="left:696.00px;top:815.90px" width="26" height="24" viewBox="-13 -12 26 24"><g class="w"><ellipse cx="0" cy="-1.5" rx="5.5" ry="3.6"/><ellipse cx="-3.05" cy="-5.45" rx="2.25" ry="3.07" transform="rotate(-8 -3.05 -5.45)"/><ellipse cx="3.05" cy="-5.45" rx="2.25" ry="3.07" transform="rotate(8 3.05 -5.45)"/><ellipse cx="-6.65" cy="-0.45" rx="2.25" ry="3.05" transform="rotate(-28 -6.65 -0.45)"/><ellipse cx="6.65" cy="-0.45" rx="2.25" ry="3.05" transform="rotate(28 6.65 -0.45)"/><path d="M0,0C2.4,0 4.1,2.2 5.3,4.3C6.2,5.9 6.6,7.5 5.8,8.2C5,8.9 3.7,8.4 2.5,7.9C1.3,7.45 -1.3,7.45 -2.5,7.9C-3.7,8.4 -5,8.9 -5.8,8.2C-6.6,7.5 -6.2,5.9 -5.3,4.3C-4.1,2.2 -2.4,0 0,0Z"/></g><g><ellipse cx="-3.05" cy="-5.45" rx="2.25" ry="3.07" transform="rotate(-8 -3.05 -5.45)"/><ellipse cx="3.05" cy="-5.45" rx="2.25" ry="3.07" transform="rotate(8 3.05 -5.45)"/><ellipse cx="-6.65" cy="-0.45" rx="2.25" ry="3.05" transform="rotate(-28 -6.65 -0.45)"/><ellipse cx="6.65" cy="-0.45" rx="2.25" ry="3.05" transform="rotate(28 6.65 -0.45)"/><path d="M0,0C2.4,0 4.1,2.2 5.3,4.3C6.2,5.9 6.6,7.5 5.8,8.2C5,8.9 3.7,8.4 2.5,7.9C1.3,7.45 -1.3,7.45 -2.5,7.9C-3.7,8.4 -5,8.9 -5.8,8.2C-6.6,7.5 -6.2,5.9 -5.3,4.3C-4.1,2.2 -2.4,0 0,0Z"/></g></svg>
<svg class="p" style="left:769.70px;top:815.90px" width="26" height="24" viewBox="-13 -12 26 24"><g class="w"><ellipse cx="0" cy="-1.5" rx="5.5" ry="3.6"/><ellipse cx="-3.05" cy="-5.45" rx="2.25" ry="3.07" transform="rotate(-8 -3.05 -5.45)"/><ellipse cx="3.05" cy="-5.45" rx="2.25" ry="3.07" transform="rotate(8 3.05 -5.45)"/><ellipse cx="-6.65" cy="-0.45" rx="2.25" ry="3.05" transform="rotate(-28 -6.65 -0.45)"/><ellipse cx="6.65" cy="-0.45" rx="2.25" ry="3.05" transform="rotate(28 6.65 -0.45)"/><path d="M0,0C2.4,0 4.1,2.2 5.3,4.3C6.2,5.9 6.6,7.5 5.8,8.2C5,8.9 3.7,8.4 2.5,7.9C1.3,7.45 -1.3,7.45 -2.5,7.9C-3.7,8.4 -5,8.9 -5.8,8.2C-6.6,7.5 -6.2,5.9 -5.3,4.3C-4.1,2.2 -2.4,0 0,0Z"/></g><g><ellipse cx="-3.05" cy="-5.45" rx="2.25" ry="3.07" transform="rotate(-8 -3.05 -5.45)"/><ellipse cx="3.05" cy="-5.45" rx="2.25" ry="3.07" transform="rotate(8 3.05 -5.45)"/><ellipse cx="-6.65" cy="-0.45" rx="2.25" ry="3.05" transform="rotate(-28 -6.65 -0.45)"/><ellipse cx="6.65" cy="-0.45" rx="2.25" ry="3.05" transform="rotate(28 6.65 -0.45)"/><path d="M0,0C2.4,0 4.1,2.2 5.3,4.3C6.2,5.9 6.6,7.5 5.8,8.2C5,8.9 3.7,8.4 2.5,7.9C1.3,7.45 -1.3,7.45 -2.5,7.9C-3.7,8.4 -5,8.9 -5.8,8.2C-6.6,7.5 -6.2,5.9 -5.3,4.3C-4.1,2.2 -2.4,0 0,0Z"/></g></svg>
<svg class="p" style="left:847.70px;top:815.90px" width="26" height="24" viewBox="-13 -12 26 24"><g class="w"><ellipse cx="0" cy="-1.5" rx="5.5" ry="3.6"/><ellipse cx="-3.05" cy="-5.45" rx="2.25" ry="3.07" transform="rotate(-8 -3.05 -5.45)"/><ellipse cx="3.05" cy="-5.45" rx="2.25" ry="3.07" transform="rotate(8 3.05 -5.45)"/><ellipse cx="-6.65" cy="-0.45" rx="2.25" ry="3.05" transform="rotate(-28 -6.65 -0.45)"/><ellipse cx="6.65" cy="-0.45" rx="2.25" ry="3.05" transform="rotate(28 6.65 -0.45)"/><path d="M0,0C2.4,0 4.1,2.2 5.3,4.3C6.2,5.9 6.6,7.5 5.8,8.2C5,8.9 3.7,8.4 2.5,7.9C1.3,7.45 -1.3,7.45 -2.5,7.9C-3.7,8.4 -5,8.9 -5.8,8.2C-6.6,7.5 -6.2,5.9 -5.3,4.3C-4.1,2.2 -2.4,0 0,0Z"/></g><g><ellipse cx="-3.05" cy="-5.45" rx="2.25" ry="3.07" transform="rotate(-8 -3.05 -5.45)"/><ellipse cx="3.05" cy="-5.45" rx="2.25" ry="3.07" transform="rotate(8 3.05 -5.45)"/><ellipse cx="-6.65" cy="-0.45" rx="2.25" ry="3.05" transform="rotate(-28 -6.65 -0.45)"/><ellipse cx="6.65" cy="-0.45" rx="2.25" ry="3.05" transform="rotate(28 6.65 -0.45)"/><path d="M0,0C2.4,0 4.1,2.2 5.3,4.3C6.2,5.9 6.6,7.5 5.8,8.2C5,8.9 3.7,8.4 2.5,7.9C1.3,7.45 -1.3,7.45 -2.5,7.9C-3.7,8.4 -5,8.9 -5.8,8.2C-6.6,7.5 -6.2,5.9 -5.3,4.3C-4.1,2.2 -2.4,0 0,0Z"/></g></svg>
<svg class="p" style="left:617.70px;top:842.00px" width="26" height="24" viewBox="-13 -12 26 24"><g class="w"><ellipse cx="0" cy="-1.5" rx="5.5" ry="3.6"/><ellipse cx="-3.05" cy="-5.45" rx="2.25" ry="3.07" transform="rotate(-8 -3.05 -5.45)"/><ellipse cx="3.05" cy="-5.45" rx="2.25" ry="3.07" transform="rotate(8 3.05 -5.45)"/><ellipse cx="-6.65" cy="-0.45" rx="2.25" ry="3.05" transform="rotate(-28 -6.65 -0.45)"/><ellipse cx="6.65" cy="-0.45" rx="2.25" ry="3.05" transform="rotate(28 6.65 -0.45)"/><path d="M0,0C2.4,0 4.1,2.2 5.3,4.3C6.2,5.9 6.6,7.5 5.8,8.2C5,8.9 3.7,8.4 2.5,7.9C1.3,7.45 -1.3,7.45 -2.5,7.9C-3.7,8.4 -5,8.9 -5.8,8.2C-6.6,7.5 -6.2,5.9 -5.3,4.3C-4.1,2.2 -2.4,0 0,0Z"/></g><g><ellipse cx="-3.05" cy="-5.45" rx="2.25" ry="3.07" transform="rotate(-8 -3.05 -5.45)"/><ellipse cx="3.05" cy="-5.45" rx="2.25" ry="3.07" transform="rotate(8 3.05 -5.45)"/><ellipse cx="-6.65" cy="-0.45" rx="2.25" ry="3.05" transform="rotate(-28 -6.65 -0.45)"/><ellipse cx="6.65" cy="-0.45" rx="2.25" ry="3.05" transform="rotate(28 6.65 -0.45)"/><path d="M0,0C2.4,0 4.1,2.2 5.3,4.3C6.2,5.9 6.6,7.5 5.8,8.2C5,8.9 3.7,8.4 2.5,7.9C1.3,7.45 -1.3,7.45 -2.5,7.9C-3.7,8.4 -5,8.9 -5.8,8.2C-6.6,7.5 -6.2,5.9 -5.3,4.3C-4.1,2.2 -2.4,0 0,0Z"/></g></svg>
<svg class="p" style="left:1074.90px;top:841.40px" width="26" height="24" viewBox="-13 -12 26 24"><g class="w"><ellipse cx="0" cy="-1.5" rx="5.5" ry="3.6"/><ellipse cx="-3.05" cy="-5.45" rx="2.25" ry="3.07" transform="rotate(-8 -3.05 -5.45)"/><ellipse cx="3.05" cy="-5.45" rx="2.25" ry="3.07" transform="rotate(8 3.05 -5.45)"/><ellipse cx="-6.65" cy="-0.45" rx="2.25" ry="3.05" transform="rotate(-28 -6.65 -0.45)"/><ellipse cx="6.65" cy="-0.45" rx="2.25" ry="3.05" transform="rotate(28 6.65 -0.45)"/><path d="M0,0C2.4,0 4.1,2.2 5.3,4.3C6.2,5.9 6.6,7.5 5.8,8.2C5,8.9 3.7,8.4 2.5,7.9C1.3,7.45 -1.3,7.45 -2.5,7.9C-3.7,8.4 -5,8.9 -5.8,8.2C-6.6,7.5 -6.2,5.9 -5.3,4.3C-4.1,2.2 -2.4,0 0,0Z"/></g><g><ellipse cx="-3.05" cy="-5.45" rx="2.25" ry="3.07" transform="rotate(-8 -3.05 -5.45)"/><ellipse cx="3.05" cy="-5.45" rx="2.25" ry="3.07" transform="rotate(8 3.05 -5.45)"/><ellipse cx="-6.65" cy="-0.45" rx="2.25" ry="3.05" transform="rotate(-28 -6.65 -0.45)"/><ellipse cx="6.65" cy="-0.45" rx="2.25" ry="3.05" transform="rotate(28 6.65 -0.45)"/><path d="M0,0C2.4,0 4.1,2.2 5.3,4.3C6.2,5.9 6.6,7.5 5.8,8.2C5,8.9 3.7,8.4 2.5,7.9C1.3,7.45 -1.3,7.45 -2.5,7.9C-3.7,8.4 -5,8.9 -5.8,8.2C-6.6,7.5 -6.2,5.9 -5.3,4.3C-4.1,2.2 -2.4,0 0,0Z"/></g></svg>
<svg class="p" style="left:1150.30px;top:842.90px" width="26" height="24" viewBox="-13 -12 26 24"><g class="w"><ellipse cx="0" cy="-1.5" rx="5.5" ry="3.6"/><ellipse cx="-3.05" cy="-5.45" rx="2.25" ry="3.07" transform="rotate(-8 -3.05 -5.45)"/><ellipse cx="3.05" cy="-5.45" rx="2.25" ry="3.07" transform="rotate(8 3.05 -5.45)"/><ellipse cx="-6.65" cy="-0.45" rx="2.25" ry="3.05" transform="rotate(-28 -6.65 -0.45)"/><ellipse cx="6.65" cy="-0.45" rx="2.25" ry="3.05" transform="rotate(28 6.65 -0.45)"/><path d="M0,0C2.4,0 4.1,2.2 5.3,4.3C6.2,5.9 6.6,7.5 5.8,8.2C5,8.9 3.7,8.4 2.5,7.9C1.3,7.45 -1.3,7.45 -2.5,7.9C-3.7,8.4 -5,8.9 -5.8,8.2C-6.6,7.5 -6.2,5.9 -5.3,4.3C-4.1,2.2 -2.4,0 0,0Z"/></g><g><ellipse cx="-3.05" cy="-5.45" rx="2.25" ry="3.07" transform="rotate(-8 -3.05 -5.45)"/><ellipse cx="3.05" cy="-5.45" rx="2.25" ry="3.07" transform="rotate(8 3.05 -5.45)"/><ellipse cx="-6.65" cy="-0.45" rx="2.25" ry="3.05" transform="rotate(-28 -6.65 -0.45)"/><ellipse cx="6.65" cy="-0.45" rx="2.25" ry="3.05" transform="rotate(28 6.65 -0.45)"/><path d="M0,0C2.4,0 4.1,2.2 5.3,4.3C6.2,5.9 6.6,7.5 5.8,8.2C5,8.9 3.7,8.4 2.5,7.9C1.3,7.45 -1.3,7.45 -2.5,7.9C-3.7,8.4 -5,8.9 -5.8,8.2C-6.6,7.5 -6.2,5.9 -5.3,4.3C-4.1,2.2 -2.4,0 0,0Z"/></g></svg>
<svg class="p" style="left:287.00px;top:866.10px" width="26" height="24" viewBox="-13 -12 26 24"><g class="w"><ellipse cx="0" cy="-1.5" rx="5.5" ry="3.6"/><ellipse cx="-3.05" cy="-5.45" rx="2.25" ry="3.07" transform="rotate(-8 -3.05 -5.45)"/><ellipse cx="3.05" cy="-5.45" rx="2.25" ry="3.07" transform="rotate(8 3.05 -5.45)"/><ellipse cx="-6.65" cy="-0.45" rx="2.25" ry="3.05" transform="rotate(-28 -6.65 -0.45)"/><ellipse cx="6.65" cy="-0.45" rx="2.25" ry="3.05" transform="rotate(28 6.65 -0.45)"/><path d="M0,0C2.4,0 4.1,2.2 5.3,4.3C6.2,5.9 6.6,7.5 5.8,8.2C5,8.9 3.7,8.4 2.5,7.9C1.3,7.45 -1.3,7.45 -2.5,7.9C-3.7,8.4 -5,8.9 -5.8,8.2C-6.6,7.5 -6.2,5.9 -5.3,4.3C-4.1,2.2 -2.4,0 0,0Z"/></g><g><ellipse cx="-3.05" cy="-5.45" rx="2.25" ry="3.07" transform="rotate(-8 -3.05 -5.45)"/><ellipse cx="3.05" cy="-5.45" rx="2.25" ry="3.07" transform="rotate(8 3.05 -5.45)"/><ellipse cx="-6.65" cy="-0.45" rx="2.25" ry="3.05" transform="rotate(-28 -6.65 -0.45)"/><ellipse cx="6.65" cy="-0.45" rx="2.25" ry="3.05" transform="rotate(28 6.65 -0.45)"/><path d="M0,0C2.4,0 4.1,2.2 5.3,4.3C6.2,5.9 6.6,7.5 5.8,8.2C5,8.9 3.7,8.4 2.5,7.9C1.3,7.45 -1.3,7.45 -2.5,7.9C-3.7,8.4 -5,8.9 -5.8,8.2C-6.6,7.5 -6.2,5.9 -5.3,4.3C-4.1,2.2 -2.4,0 0,0Z"/></g></svg>
<svg class="p" style="left:439.00px;top:866.10px" width="26" height="24" viewBox="-13 -12 26 24"><g class="w"><ellipse cx="0" cy="-1.5" rx="5.5" ry="3.6"/><ellipse cx="-3.05" cy="-5.45" rx="2.25" ry="3.07" transform="rotate(-8 -3.05 -5.45)"/><ellipse cx="3.05" cy="-5.45" rx="2.25" ry="3.07" transform="rotate(8 3.05 -5.45)"/><ellipse cx="-6.65" cy="-0.45" rx="2.25" ry="3.05" transform="rotate(-28 -6.65 -0.45)"/><ellipse cx="6.65" cy="-0.45" rx="2.25" ry="3.05" transform="rotate(28 6.65 -0.45)"/><path d="M0,0C2.4,0 4.1,2.2 5.3,4.3C6.2,5.9 6.6,7.5 5.8,8.2C5,8.9 3.7,8.4 2.5,7.9C1.3,7.45 -1.3,7.45 -2.5,7.9C-3.7,8.4 -5,8.9 -5.8,8.2C-6.6,7.5 -6.2,5.9 -5.3,4.3C-4.1,2.2 -2.4,0 0,0Z"/></g><g><ellipse cx="-3.05" cy="-5.45" rx="2.25" ry="3.07" transform="rotate(-8 -3.05 -5.45)"/><ellipse cx="3.05" cy="-5.45" rx="2.25" ry="3.07" transform="rotate(8 3.05 -5.45)"/><ellipse cx="-6.65" cy="-0.45" rx="2.25" ry="3.05" transform="rotate(-28 -6.65 -0.45)"/><ellipse cx="6.65" cy="-0.45" rx="2.25" ry="3.05" transform="rotate(28 6.65 -0.45)"/><path d="M0,0C2.4,0 4.1,2.2 5.3,4.3C6.2,5.9 6.6,7.5 5.8,8.2C5,8.9 3.7,8.4 2.5,7.9C1.3,7.45 -1.3,7.45 -2.5,7.9C-3.7,8.4 -5,8.9 -5.8,8.2C-6.6,7.5 -6.2,5.9 -5.3,4.3C-4.1,2.2 -2.4,0 0,0Z"/></g></svg>
<svg class="p" style="left:1075.20px;top:865.30px" width="26" height="24" viewBox="-13 -12 26 24"><g class="w"><ellipse cx="0" cy="-1.5" rx="5.5" ry="3.6"/><ellipse cx="-3.05" cy="-5.45" rx="2.25" ry="3.07" transform="rotate(-8 -3.05 -5.45)"/><ellipse cx="3.05" cy="-5.45" rx="2.25" ry="3.07" transform="rotate(8 3.05 -5.45)"/><ellipse cx="-6.65" cy="-0.45" rx="2.25" ry="3.05" transform="rotate(-28 -6.65 -0.45)"/><ellipse cx="6.65" cy="-0.45" rx="2.25" ry="3.05" transform="rotate(28 6.65 -0.45)"/><path d="M0,0C2.4,0 4.1,2.2 5.3,4.3C6.2,5.9 6.6,7.5 5.8,8.2C5,8.9 3.7,8.4 2.5,7.9C1.3,7.45 -1.3,7.45 -2.5,7.9C-3.7,8.4 -5,8.9 -5.8,8.2C-6.6,7.5 -6.2,5.9 -5.3,4.3C-4.1,2.2 -2.4,0 0,0Z"/></g><g><ellipse cx="-3.05" cy="-5.45" rx="2.25" ry="3.07" transform="rotate(-8 -3.05 -5.45)"/><ellipse cx="3.05" cy="-5.45" rx="2.25" ry="3.07" transform="rotate(8 3.05 -5.45)"/><ellipse cx="-6.65" cy="-0.45" rx="2.25" ry="3.05" transform="rotate(-28 -6.65 -0.45)"/><ellipse cx="6.65" cy="-0.45" rx="2.25" ry="3.05" transform="rotate(28 6.65 -0.45)"/><path d="M0,0C2.4,0 4.1,2.2 5.3,4.3C6.2,5.9 6.6,7.5 5.8,8.2C5,8.9 3.7,8.4 2.5,7.9C1.3,7.45 -1.3,7.45 -2.5,7.9C-3.7,8.4 -5,8.9 -5.8,8.2C-6.6,7.5 -6.2,5.9 -5.3,4.3C-4.1,2.2 -2.4,0 0,0Z"/></g></svg>
<svg class="p" style="left:513.40px;top:892.70px" width="26" height="24" viewBox="-13 -12 26 24"><g class="w"><ellipse cx="0" cy="-1.5" rx="5.5" ry="3.6"/><ellipse cx="-3.05" cy="-5.45" rx="2.25" ry="3.07" transform="rotate(-8 -3.05 -5.45)"/><ellipse cx="3.05" cy="-5.45" rx="2.25" ry="3.07" transform="rotate(8 3.05 -5.45)"/><ellipse cx="-6.65" cy="-0.45" rx="2.25" ry="3.05" transform="rotate(-28 -6.65 -0.45)"/><ellipse cx="6.65" cy="-0.45" rx="2.25" ry="3.05" transform="rotate(28 6.65 -0.45)"/><path d="M0,0C2.4,0 4.1,2.2 5.3,4.3C6.2,5.9 6.6,7.5 5.8,8.2C5,8.9 3.7,8.4 2.5,7.9C1.3,7.45 -1.3,7.45 -2.5,7.9C-3.7,8.4 -5,8.9 -5.8,8.2C-6.6,7.5 -6.2,5.9 -5.3,4.3C-4.1,2.2 -2.4,0 0,0Z"/></g><g><ellipse cx="-3.05" cy="-5.45" rx="2.25" ry="3.07" transform="rotate(-8 -3.05 -5.45)"/><ellipse cx="3.05" cy="-5.45" rx="2.25" ry="3.07" transform="rotate(8 3.05 -5.45)"/><ellipse cx="-6.65" cy="-0.45" rx="2.25" ry="3.05" transform="rotate(-28 -6.65 -0.45)"/><ellipse cx="6.65" cy="-0.45" rx="2.25" ry="3.05" transform="rotate(28 6.65 -0.45)"/><path d="M0,0C2.4,0 4.1,2.2 5.3,4.3C6.2,5.9 6.6,7.5 5.8,8.2C5,8.9 3.7,8.4 2.5,7.9C1.3,7.45 -1.3,7.45 -2.5,7.9C-3.7,8.4 -5,8.9 -5.8,8.2C-6.6,7.5 -6.2,5.9 -5.3,4.3C-4.1,2.2 -2.4,0 0,0Z"/></g></svg>
<svg class="p" style="left:694.50px;top:892.00px" width="26" height="24" viewBox="-13 -12 26 24"><g class="w"><ellipse cx="0" cy="-1.5" rx="5.5" ry="3.6"/><ellipse cx="-3.05" cy="-5.45" rx="2.25" ry="3.07" transform="rotate(-8 -3.05 -5.45)"/><ellipse cx="3.05" cy="-5.45" rx="2.25" ry="3.07" transform="rotate(8 3.05 -5.45)"/><ellipse cx="-6.65" cy="-0.45" rx="2.25" ry="3.05" transform="rotate(-28 -6.65 -0.45)"/><ellipse cx="6.65" cy="-0.45" rx="2.25" ry="3.05" transform="rotate(28 6.65 -0.45)"/><path d="M0,0C2.4,0 4.1,2.2 5.3,4.3C6.2,5.9 6.6,7.5 5.8,8.2C5,8.9 3.7,8.4 2.5,7.9C1.3,7.45 -1.3,7.45 -2.5,7.9C-3.7,8.4 -5,8.9 -5.8,8.2C-6.6,7.5 -6.2,5.9 -5.3,4.3C-4.1,2.2 -2.4,0 0,0Z"/></g><g><ellipse cx="-3.05" cy="-5.45" rx="2.25" ry="3.07" transform="rotate(-8 -3.05 -5.45)"/><ellipse cx="3.05" cy="-5.45" rx="2.25" ry="3.07" transform="rotate(8 3.05 -5.45)"/><ellipse cx="-6.65" cy="-0.45" rx="2.25" ry="3.05" transform="rotate(-28 -6.65 -0.45)"/><ellipse cx="6.65" cy="-0.45" rx="2.25" ry="3.05" transform="rotate(28 6.65 -0.45)"/><path d="M0,0C2.4,0 4.1,2.2 5.3,4.3C6.2,5.9 6.6,7.5 5.8,8.2C5,8.9 3.7,8.4 2.5,7.9C1.3,7.45 -1.3,7.45 -2.5,7.9C-3.7,8.4 -5,8.9 -5.8,8.2C-6.6,7.5 -6.2,5.9 -5.3,4.3C-4.1,2.2 -2.4,0 0,0Z"/></g></svg>
<svg class="p" style="left:769.60px;top:890.75px" width="26" height="24" viewBox="-13 -12 26 24"><g class="w"><ellipse cx="0" cy="-1.5" rx="5.5" ry="3.6"/><ellipse cx="-3.05" cy="-5.45" rx="2.25" ry="3.07" transform="rotate(-8 -3.05 -5.45)"/><ellipse cx="3.05" cy="-5.45" rx="2.25" ry="3.07" transform="rotate(8 3.05 -5.45)"/><ellipse cx="-6.65" cy="-0.45" rx="2.25" ry="3.05" transform="rotate(-28 -6.65 -0.45)"/><ellipse cx="6.65" cy="-0.45" rx="2.25" ry="3.05" transform="rotate(28 6.65 -0.45)"/><path d="M0,0C2.4,0 4.1,2.2 5.3,4.3C6.2,5.9 6.6,7.5 5.8,8.2C5,8.9 3.7,8.4 2.5,7.9C1.3,7.45 -1.3,7.45 -2.5,7.9C-3.7,8.4 -5,8.9 -5.8,8.2C-6.6,7.5 -6.2,5.9 -5.3,4.3C-4.1,2.2 -2.4,0 0,0Z"/></g><g><ellipse cx="-3.05" cy="-5.45" rx="2.25" ry="3.07" transform="rotate(-8 -3.05 -5.45)"/><ellipse cx="3.05" cy="-5.45" rx="2.25" ry="3.07" transform="rotate(8 3.05 -5.45)"/><ellipse cx="-6.65" cy="-0.45" rx="2.25" ry="3.05" transform="rotate(-28 -6.65 -0.45)"/><ellipse cx="6.65" cy="-0.45" rx="2.25" ry="3.05" transform="rotate(28 6.65 -0.45)"/><path d="M0,0C2.4,0 4.1,2.2 5.3,4.3C6.2,5.9 6.6,7.5 5.8,8.2C5,8.9 3.7,8.4 2.5,7.9C1.3,7.45 -1.3,7.45 -2.5,7.9C-3.7,8.4 -5,8.9 -5.8,8.2C-6.6,7.5 -6.2,5.9 -5.3,4.3C-4.1,2.2 -2.4,0 0,0Z"/></g></svg>
<svg class="p" style="left:132.20px;top:916.10px" width="26" height="24" viewBox="-13 -12 26 24"><g class="w"><ellipse cx="0" cy="-1.5" rx="5.5" ry="3.6"/><ellipse cx="-3.05" cy="-5.45" rx="2.25" ry="3.07" transform="rotate(-8 -3.05 -5.45)"/><ellipse cx="3.05" cy="-5.45" rx="2.25" ry="3.07" transform="rotate(8 3.05 -5.45)"/><ellipse cx="-6.65" cy="-0.45" rx="2.25" ry="3.05" transform="rotate(-28 -6.65 -0.45)"/><ellipse cx="6.65" cy="-0.45" rx="2.25" ry="3.05" transform="rotate(28 6.65 -0.45)"/><path d="M0,0C2.4,0 4.1,2.2 5.3,4.3C6.2,5.9 6.6,7.5 5.8,8.2C5,8.9 3.7,8.4 2.5,7.9C1.3,7.45 -1.3,7.45 -2.5,7.9C-3.7,8.4 -5,8.9 -5.8,8.2C-6.6,7.5 -6.2,5.9 -5.3,4.3C-4.1,2.2 -2.4,0 0,0Z"/></g><g><ellipse cx="-3.05" cy="-5.45" rx="2.25" ry="3.07" transform="rotate(-8 -3.05 -5.45)"/><ellipse cx="3.05" cy="-5.45" rx="2.25" ry="3.07" transform="rotate(8 3.05 -5.45)"/><ellipse cx="-6.65" cy="-0.45" rx="2.25" ry="3.05" transform="rotate(-28 -6.65 -0.45)"/><ellipse cx="6.65" cy="-0.45" rx="2.25" ry="3.05" transform="rotate(28 6.65 -0.45)"/><path d="M0,0C2.4,0 4.1,2.2 5.3,4.3C6.2,5.9 6.6,7.5 5.8,8.2C5,8.9 3.7,8.4 2.5,7.9C1.3,7.45 -1.3,7.45 -2.5,7.9C-3.7,8.4 -5,8.9 -5.8,8.2C-6.6,7.5 -6.2,5.9 -5.3,4.3C-4.1,2.2 -2.4,0 0,0Z"/></g></svg>
<svg class="p" style="left:210.50px;top:916.10px" width="26" height="24" viewBox="-13 -12 26 24"><g class="w"><ellipse cx="0" cy="-1.5" rx="5.5" ry="3.6"/><ellipse cx="-3.05" cy="-5.45" rx="2.25" ry="3.07" transform="rotate(-8 -3.05 -5.45)"/><ellipse cx="3.05" cy="-5.45" rx="2.25" ry="3.07" transform="rotate(8 3.05 -5.45)"/><ellipse cx="-6.65" cy="-0.45" rx="2.25" ry="3.05" transform="rotate(-28 -6.65 -0.45)"/><ellipse cx="6.65" cy="-0.45" rx="2.25" ry="3.05" transform="rotate(28 6.65 -0.45)"/><path d="M0,0C2.4,0 4.1,2.2 5.3,4.3C6.2,5.9 6.6,7.5 5.8,8.2C5,8.9 3.7,8.4 2.5,7.9C1.3,7.45 -1.3,7.45 -2.5,7.9C-3.7,8.4 -5,8.9 -5.8,8.2C-6.6,7.5 -6.2,5.9 -5.3,4.3C-4.1,2.2 -2.4,0 0,0Z"/></g><g><ellipse cx="-3.05" cy="-5.45" rx="2.25" ry="3.07" transform="rotate(-8 -3.05 -5.45)"/><ellipse cx="3.05" cy="-5.45" rx="2.25" ry="3.07" transform="rotate(8 3.05 -5.45)"/><ellipse cx="-6.65" cy="-0.45" rx="2.25" ry="3.05" transform="rotate(-28 -6.65 -0.45)"/><ellipse cx="6.65" cy="-0.45" rx="2.25" ry="3.05" transform="rotate(28 6.65 -0.45)"/><path d="M0,0C2.4,0 4.1,2.2 5.3,4.3C6.2,5.9 6.6,7.5 5.8,8.2C5,8.9 3.7,8.4 2.5,7.9C1.3,7.45 -1.3,7.45 -2.5,7.9C-3.7,8.4 -5,8.9 -5.8,8.2C-6.6,7.5 -6.2,5.9 -5.3,4.3C-4.1,2.2 -2.4,0 0,0Z"/></g></svg>
<svg class="p" style="left:361.50px;top:916.10px" width="26" height="24" viewBox="-13 -12 26 24"><g class="w"><ellipse cx="0" cy="-1.5" rx="5.5" ry="3.6"/><ellipse cx="-3.05" cy="-5.45" rx="2.25" ry="3.07" transform="rotate(-8 -3.05 -5.45)"/><ellipse cx="3.05" cy="-5.45" rx="2.25" ry="3.07" transform="rotate(8 3.05 -5.45)"/><ellipse cx="-6.65" cy="-0.45" rx="2.25" ry="3.05" transform="rotate(-28 -6.65 -0.45)"/><ellipse cx="6.65" cy="-0.45" rx="2.25" ry="3.05" transform="rotate(28 6.65 -0.45)"/><path d="M0,0C2.4,0 4.1,2.2 5.3,4.3C6.2,5.9 6.6,7.5 5.8,8.2C5,8.9 3.7,8.4 2.5,7.9C1.3,7.45 -1.3,7.45 -2.5,7.9C-3.7,8.4 -5,8.9 -5.8,8.2C-6.6,7.5 -6.2,5.9 -5.3,4.3C-4.1,2.2 -2.4,0 0,0Z"/></g><g><ellipse cx="-3.05" cy="-5.45" rx="2.25" ry="3.07" transform="rotate(-8 -3.05 -5.45)"/><ellipse cx="3.05" cy="-5.45" rx="2.25" ry="3.07" transform="rotate(8 3.05 -5.45)"/><ellipse cx="-6.65" cy="-0.45" rx="2.25" ry="3.05" transform="rotate(-28 -6.65 -0.45)"/><ellipse cx="6.65" cy="-0.45" rx="2.25" ry="3.05" transform="rotate(28 6.65 -0.45)"/><path d="M0,0C2.4,0 4.1,2.2 5.3,4.3C6.2,5.9 6.6,7.5 5.8,8.2C5,8.9 3.7,8.4 2.5,7.9C1.3,7.45 -1.3,7.45 -2.5,7.9C-3.7,8.4 -5,8.9 -5.8,8.2C-6.6,7.5 -6.2,5.9 -5.3,4.3C-4.1,2.2 -2.4,0 0,0Z"/></g></svg>
<svg class="p" style="left:617.70px;top:915.10px" width="26" height="24" viewBox="-13 -12 26 24"><g class="w"><ellipse cx="0" cy="-1.5" rx="5.5" ry="3.6"/><ellipse cx="-3.05" cy="-5.45" rx="2.25" ry="3.07" transform="rotate(-8 -3.05 -5.45)"/><ellipse cx="3.05" cy="-5.45" rx="2.25" ry="3.07" transform="rotate(8 3.05 -5.45)"/><ellipse cx="-6.65" cy="-0.45" rx="2.25" ry="3.05" transform="rotate(-28 -6.65 -0.45)"/><ellipse cx="6.65" cy="-0.45" rx="2.25" ry="3.05" transform="rotate(28 6.65 -0.45)"/><path d="M0,0C2.4,0 4.1,2.2 5.3,4.3C6.2,5.9 6.6,7.5 5.8,8.2C5,8.9 3.7,8.4 2.5,7.9C1.3,7.45 -1.3,7.45 -2.5,7.9C-3.7,8.4 -5,8.9 -5.8,8.2C-6.6,7.5 -6.2,5.9 -5.3,4.3C-4.1,2.2 -2.4,0 0,0Z"/></g><g><ellipse cx="-3.05" cy="-5.45" rx="2.25" ry="3.07" transform="rotate(-8 -3.05 -5.45)"/><ellipse cx="3.05" cy="-5.45" rx="2.25" ry="3.07" transform="rotate(8 3.05 -5.45)"/><ellipse cx="-6.65" cy="-0.45" rx="2.25" ry="3.05" transform="rotate(-28 -6.65 -0.45)"/><ellipse cx="6.65" cy="-0.45" rx="2.25" ry="3.05" transform="rotate(28 6.65 -0.45)"/><path d="M0,0C2.4,0 4.1,2.2 5.3,4.3C6.2,5.9 6.6,7.5 5.8,8.2C5,8.9 3.7,8.4 2.5,7.9C1.3,7.45 -1.3,7.45 -2.5,7.9C-3.7,8.4 -5,8.9 -5.8,8.2C-6.6,7.5 -6.2,5.9 -5.3,4.3C-4.1,2.2 -2.4,0 0,0Z"/></g></svg>
<svg class="p" style="left:847.70px;top:915.10px" width="26" height="24" viewBox="-13 -12 26 24"><g class="w"><ellipse cx="0" cy="-1.5" rx="5.5" ry="3.6"/><ellipse cx="-3.05" cy="-5.45" rx="2.25" ry="3.07" transform="rotate(-8 -3.05 -5.45)"/><ellipse cx="3.05" cy="-5.45" rx="2.25" ry="3.07" transform="rotate(8 3.05 -5.45)"/><ellipse cx="-6.65" cy="-0.45" rx="2.25" ry="3.05" transform="rotate(-28 -6.65 -0.45)"/><ellipse cx="6.65" cy="-0.45" rx="2.25" ry="3.05" transform="rotate(28 6.65 -0.45)"/><path d="M0,0C2.4,0 4.1,2.2 5.3,4.3C6.2,5.9 6.6,7.5 5.8,8.2C5,8.9 3.7,8.4 2.5,7.9C1.3,7.45 -1.3,7.45 -2.5,7.9C-3.7,8.4 -5,8.9 -5.8,8.2C-6.6,7.5 -6.2,5.9 -5.3,4.3C-4.1,2.2 -2.4,0 0,0Z"/></g><g><ellipse cx="-3.05" cy="-5.45" rx="2.25" ry="3.07" transform="rotate(-8 -3.05 -5.45)"/><ellipse cx="3.05" cy="-5.45" rx="2.25" ry="3.07" transform="rotate(8 3.05 -5.45)"/><ellipse cx="-6.65" cy="-0.45" rx="2.25" ry="3.05" transform="rotate(-28 -6.65 -0.45)"/><ellipse cx="6.65" cy="-0.45" rx="2.25" ry="3.05" transform="rotate(28 6.65 -0.45)"/><path d="M0,0C2.4,0 4.1,2.2 5.3,4.3C6.2,5.9 6.6,7.5 5.8,8.2C5,8.9 3.7,8.4 2.5,7.9C1.3,7.45 -1.3,7.45 -2.5,7.9C-3.7,8.4 -5,8.9 -5.8,8.2C-6.6,7.5 -6.2,5.9 -5.3,4.3C-4.1,2.2 -2.4,0 0,0Z"/></g></svg>
<svg class="p" style="left:922.10px;top:915.10px" width="26" height="24" viewBox="-13 -12 26 24"><g class="w"><ellipse cx="0" cy="-1.5" rx="5.5" ry="3.6"/><ellipse cx="-3.05" cy="-5.45" rx="2.25" ry="3.07" transform="rotate(-8 -3.05 -5.45)"/><ellipse cx="3.05" cy="-5.45" rx="2.25" ry="3.07" transform="rotate(8 3.05 -5.45)"/><ellipse cx="-6.65" cy="-0.45" rx="2.25" ry="3.05" transform="rotate(-28 -6.65 -0.45)"/><ellipse cx="6.65" cy="-0.45" rx="2.25" ry="3.05" transform="rotate(28 6.65 -0.45)"/><path d="M0,0C2.4,0 4.1,2.2 5.3,4.3C6.2,5.9 6.6,7.5 5.8,8.2C5,8.9 3.7,8.4 2.5,7.9C1.3,7.45 -1.3,7.45 -2.5,7.9C-3.7,8.4 -5,8.9 -5.8,8.2C-6.6,7.5 -6.2,5.9 -5.3,4.3C-4.1,2.2 -2.4,0 0,0Z"/></g><g><ellipse cx="-3.05" cy="-5.45" rx="2.25" ry="3.07" transform="rotate(-8 -3.05 -5.45)"/><ellipse cx="3.05" cy="-5.45" rx="2.25" ry="3.07" transform="rotate(8 3.05 -5.45)"/><ellipse cx="-6.65" cy="-0.45" rx="2.25" ry="3.05" transform="rotate(-28 -6.65 -0.45)"/><ellipse cx="6.65" cy="-0.45" rx="2.25" ry="3.05" transform="rotate(28 6.65 -0.45)"/><path d="M0,0C2.4,0 4.1,2.2 5.3,4.3C6.2,5.9 6.6,7.5 5.8,8.2C5,8.9 3.7,8.4 2.5,7.9C1.3,7.45 -1.3,7.45 -2.5,7.9C-3.7,8.4 -5,8.9 -5.8,8.2C-6.6,7.5 -6.2,5.9 -5.3,4.3C-4.1,2.2 -2.4,0 0,0Z"/></g></svg>
<svg class="p" style="left:998.40px;top:915.10px" width="26" height="24" viewBox="-13 -12 26 24"><g class="w"><ellipse cx="0" cy="-1.5" rx="5.5" ry="3.6"/><ellipse cx="-3.05" cy="-5.45" rx="2.25" ry="3.07" transform="rotate(-8 -3.05 -5.45)"/><ellipse cx="3.05" cy="-5.45" rx="2.25" ry="3.07" transform="rotate(8 3.05 -5.45)"/><ellipse cx="-6.65" cy="-0.45" rx="2.25" ry="3.05" transform="rotate(-28 -6.65 -0.45)"/><ellipse cx="6.65" cy="-0.45" rx="2.25" ry="3.05" transform="rotate(28 6.65 -0.45)"/><path d="M0,0C2.4,0 4.1,2.2 5.3,4.3C6.2,5.9 6.6,7.5 5.8,8.2C5,8.9 3.7,8.4 2.5,7.9C1.3,7.45 -1.3,7.45 -2.5,7.9C-3.7,8.4 -5,8.9 -5.8,8.2C-6.6,7.5 -6.2,5.9 -5.3,4.3C-4.1,2.2 -2.4,0 0,0Z"/></g><g><ellipse cx="-3.05" cy="-5.45" rx="2.25" ry="3.07" transform="rotate(-8 -3.05 -5.45)"/><ellipse cx="3.05" cy="-5.45" rx="2.25" ry="3.07" transform="rotate(8 3.05 -5.45)"/><ellipse cx="-6.65" cy="-0.45" rx="2.25" ry="3.05" transform="rotate(-28 -6.65 -0.45)"/><ellipse cx="6.65" cy="-0.45" rx="2.25" ry="3.05" transform="rotate(28 6.65 -0.45)"/><path d="M0,0C2.4,0 4.1,2.2 5.3,4.3C6.2,5.9 6.6,7.5 5.8,8.2C5,8.9 3.7,8.4 2.5,7.9C1.3,7.45 -1.3,7.45 -2.5,7.9C-3.7,8.4 -5,8.9 -5.8,8.2C-6.6,7.5 -6.2,5.9 -5.3,4.3C-4.1,2.2 -2.4,0 0,0Z"/></g></svg>
<svg class="p" style="left:1151.20px;top:915.10px" width="26" height="24" viewBox="-13 -12 26 24"><g class="w"><ellipse cx="0" cy="-1.5" rx="5.5" ry="3.6"/><ellipse cx="-3.05" cy="-5.45" rx="2.25" ry="3.07" transform="rotate(-8 -3.05 -5.45)"/><ellipse cx="3.05" cy="-5.45" rx="2.25" ry="3.07" transform="rotate(8 3.05 -5.45)"/><ellipse cx="-6.65" cy="-0.45" rx="2.25" ry="3.05" transform="rotate(-28 -6.65 -0.45)"/><ellipse cx="6.65" cy="-0.45" rx="2.25" ry="3.05" transform="rotate(28 6.65 -0.45)"/><path d="M0,0C2.4,0 4.1,2.2 5.3,4.3C6.2,5.9 6.6,7.5 5.8,8.2C5,8.9 3.7,8.4 2.5,7.9C1.3,7.45 -1.3,7.45 -2.5,7.9C-3.7,8.4 -5,8.9 -5.8,8.2C-6.6,7.5 -6.2,5.9 -5.3,4.3C-4.1,2.2 -2.4,0 0,0Z"/></g><g><ellipse cx="-3.05" cy="-5.45" rx="2.25" ry="3.07" transform="rotate(-8 -3.05 -5.45)"/><ellipse cx="3.05" cy="-5.45" rx="2.25" ry="3.07" transform="rotate(8 3.05 -5.45)"/><ellipse cx="-6.65" cy="-0.45" rx="2.25" ry="3.05" transform="rotate(-28 -6.65 -0.45)"/><ellipse cx="6.65" cy="-0.45" rx="2.25" ry="3.05" transform="rotate(28 6.65 -0.45)"/><path d="M0,0C2.4,0 4.1,2.2 5.3,4.3C6.2,5.9 6.6,7.5 5.8,8.2C5,8.9 3.7,8.4 2.5,7.9C1.3,7.45 -1.3,7.45 -2.5,7.9C-3.7,8.4 -5,8.9 -5.8,8.2C-6.6,7.5 -6.2,5.9 -5.3,4.3C-4.1,2.2 -2.4,0 0,0Z"/></g></svg>
<div class="u" style="left:450px;top:793.3px">At Least<br>2 Purposes</div>
<div class="u" style="left:782.3px;top:793.3px">At Least<br>9 Purposes</div>
<div class="u" style="left:860px;top:793.3px">At Least<br>4 Purposes</div>
<div class="u" style="left:935px;top:793.3px">At Least<br>2 Purposes</div>
<div class="u" style="left:1011.5px;top:793.3px">At Least<br>3 Purposes</div>
<div class="u" style="left:1087px;top:793.3px">At Least<br>10 Purposes</div>
<div class="u" style="left:1164px;top:793.3px">At Least<br>3 Purposes</div>
<div class="f" style="transform:scaleX(.896)">ALL PRODUCTS HAVE NATURAL ANTISEPTIC/NATURAL ANTIBIOTIC PROPERTIES AND ARE GOOD FOR DULL, DRY HAIR AND DRY SKIN.</div>
</body></html>
